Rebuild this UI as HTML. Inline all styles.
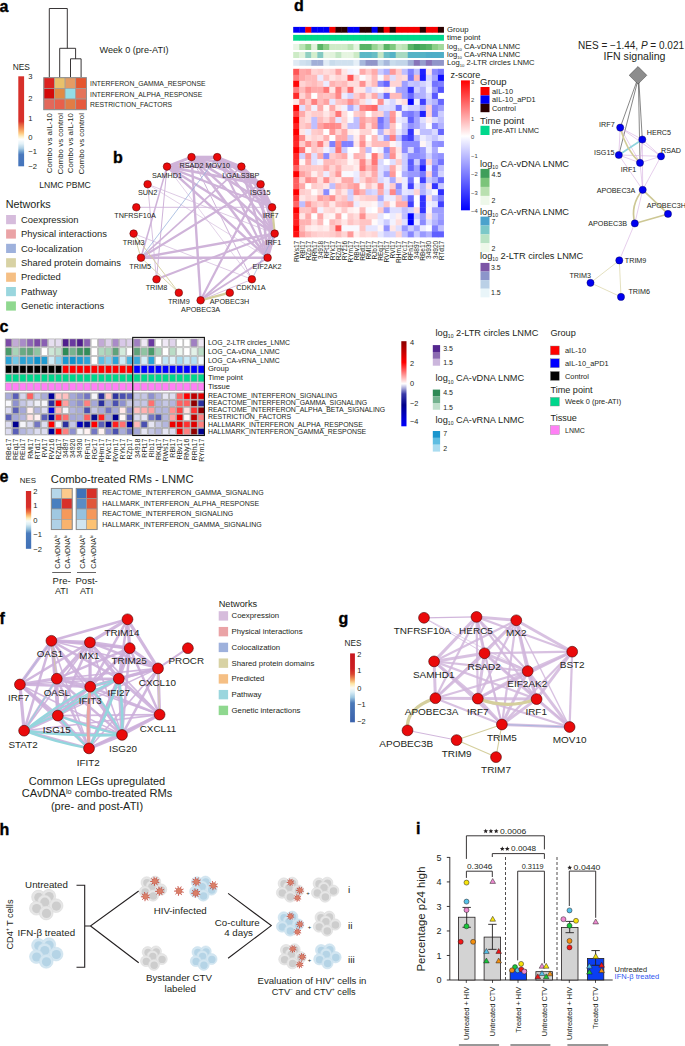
<!DOCTYPE html>
<html><head><meta charset="utf-8"><title>Figure</title>
<style>
html,body{margin:0;padding:0;background:#fff;}
body{width:685px;height:1046px;overflow:hidden;}
svg{display:block;}
svg text{font-family:"Liberation Sans", sans-serif;}
</style></head>
<body>
<svg width="685" height="1046" viewBox="0 0 685 1046" font-family='"Liberation Sans", sans-serif'>
<rect x="0" y="0" width="685" height="1046" fill="#fff"/>
<text x="-0.40" y="11.70" font-size="16" font-weight="bold" fill="#000" stroke="#000" stroke-width="0.35">a</text>
<path d="M49.3,77.7 V8.5 H67.3 V48.3 M59.7,77.7 V48.3 H75.6 V58.8 M70.5,77.7 V58.8 H81.1 V77.7" fill="none" stroke="#231f20" stroke-width="0.9"/>
<rect x="43.80" y="77.70" width="10.65" height="10.67" fill="#dc2320" stroke="#9c9c9c" stroke-width="0.7"/>
<rect x="54.45" y="77.70" width="10.65" height="10.67" fill="#e9c16b" stroke="#9c9c9c" stroke-width="0.7"/>
<rect x="65.10" y="77.70" width="10.65" height="10.67" fill="#e49b64" stroke="#9c9c9c" stroke-width="0.7"/>
<rect x="75.75" y="77.70" width="10.65" height="10.67" fill="#e5562f" stroke="#9c9c9c" stroke-width="0.7"/>
<rect x="43.80" y="88.37" width="10.65" height="10.67" fill="#d40a0a" stroke="#9c9c9c" stroke-width="0.7"/>
<rect x="54.45" y="88.37" width="10.65" height="10.67" fill="#e18a45" stroke="#9c9c9c" stroke-width="0.7"/>
<rect x="65.10" y="88.37" width="10.65" height="10.67" fill="#94dde8" stroke="#9c9c9c" stroke-width="0.7"/>
<rect x="75.75" y="88.37" width="10.65" height="10.67" fill="#e4745b" stroke="#9c9c9c" stroke-width="0.7"/>
<rect x="43.80" y="99.04" width="10.65" height="10.67" fill="#e3685a" stroke="#9c9c9c" stroke-width="0.7"/>
<rect x="54.45" y="99.04" width="10.65" height="10.67" fill="#e8604b" stroke="#9c9c9c" stroke-width="0.7"/>
<rect x="65.10" y="99.04" width="10.65" height="10.67" fill="#e17c45" stroke="#9c9c9c" stroke-width="0.7"/>
<rect x="75.75" y="99.04" width="10.65" height="10.67" fill="#e65b3e" stroke="#9c9c9c" stroke-width="0.7"/>
<rect x="43.80" y="77.70" width="42.60" height="32.01" fill="none" stroke="#8c8c8c" stroke-width="0.9"/>
<text transform="translate(90.00,86.16) scale(0.963,1)" font-size="7.1" text-anchor="start" font-weight="normal" fill="#231f20" >INTERFERON_GAMMA_RESPONSE</text>
<text transform="translate(90.00,96.66) scale(0.963,1)" font-size="7.1" text-anchor="start" font-weight="normal" fill="#231f20" >INTERFERON_ALPHA_RESPONSE</text>
<text transform="translate(90.00,107.16) scale(0.963,1)" font-size="7.1" text-anchor="start" font-weight="normal" fill="#231f20" >RESTRICTION_FACTORS</text>
<text transform="translate(99.50,53.30) scale(1.060,1)" font-size="8.6" text-anchor="start" font-weight="normal" fill="#231f20" >Week 0 (pre-ATI)</text>
<text x="12.70" y="69.72" font-size="8.4" text-anchor="start" font-weight="normal" fill="#231f20" >NES</text>
<defs><linearGradient id="gA" x1="0" y1="0" x2="0" y2="1"><stop offset="0" stop-color="#d7302a"/><stop offset="0.50" stop-color="#d7302a"/><stop offset="0.53" stop-color="#e25a3c"/><stop offset="0.58" stop-color="#f38e55"/><stop offset="0.63" stop-color="#fdc77e"/><stop offset="0.67" stop-color="#fef0c8"/><stop offset="0.70" stop-color="#ffffff"/><stop offset="0.75" stop-color="#e3f1f7"/><stop offset="0.80" stop-color="#aecfe5"/><stop offset="0.84" stop-color="#6c9dcd"/><stop offset="0.87" stop-color="#4a78bd"/><stop offset="1" stop-color="#4474bb"/></linearGradient></defs>
<rect x="18.30" y="76.30" width="5.80" height="90.00" fill="url(#gA)"/>
<text x="28.30" y="79.14" font-size="7.6" text-anchor="start" font-weight="normal" fill="#231f20" >3</text>
<text x="28.30" y="100.64" font-size="7.6" text-anchor="start" font-weight="normal" fill="#231f20" >2</text>
<text x="28.30" y="121.44" font-size="7.6" text-anchor="start" font-weight="normal" fill="#231f20" >1</text>
<text x="28.30" y="140.44" font-size="7.6" text-anchor="start" font-weight="normal" fill="#231f20" >0</text>
<text x="28.30" y="154.24" font-size="7.6" text-anchor="start" font-weight="normal" fill="#231f20" >−1</text>
<text x="28.30" y="169.34" font-size="7.6" text-anchor="start" font-weight="normal" fill="#231f20" >−2</text>
<text transform="translate(51.64,113.00) rotate(-90) scale(1.040,1)" x="0" y="0" font-size="7.6" text-anchor="end" fill="#231f20">Combo vs aIL-10</text>
<text transform="translate(62.64,113.00) rotate(-90) scale(1.040,1)" x="0" y="0" font-size="7.6" text-anchor="end" fill="#231f20">Combo vs control</text>
<text transform="translate(73.24,113.00) rotate(-90) scale(1.040,1)" x="0" y="0" font-size="7.6" text-anchor="end" fill="#231f20">Combo vs aIL-10</text>
<text transform="translate(84.24,113.00) rotate(-90) scale(1.040,1)" x="0" y="0" font-size="7.6" text-anchor="end" fill="#231f20">Combo vs control</text>
<text x="39.20" y="188.10" font-size="8.6" text-anchor="start" font-weight="normal" fill="#231f20" >LNMC PBMC</text>
<text transform="translate(5.70,207.97) scale(1.060,1)" font-size="10.2" text-anchor="start" font-weight="normal" fill="#231f20" >Networks</text>
<rect x="6.10" y="215.00" width="9.80" height="9.20" fill="#d6bcdc"/>
<text transform="translate(21.00,222.80) scale(1.060,1)" font-size="8.9" text-anchor="start" font-weight="normal" fill="#231f20" >Coexpression</text>
<rect x="6.10" y="229.40" width="9.80" height="9.20" fill="#eaa3a6"/>
<text transform="translate(21.00,237.20) scale(1.060,1)" font-size="8.9" text-anchor="start" font-weight="normal" fill="#231f20" >Physical interactions</text>
<rect x="6.10" y="243.80" width="9.80" height="9.20" fill="#9eb1dc"/>
<text transform="translate(21.00,251.60) scale(1.060,1)" font-size="8.9" text-anchor="start" font-weight="normal" fill="#231f20" >Co-localization</text>
<rect x="6.10" y="258.20" width="9.80" height="9.20" fill="#d8d2a4"/>
<text transform="translate(21.00,266.00) scale(1.060,1)" font-size="8.9" text-anchor="start" font-weight="normal" fill="#231f20" >Shared protein domains</text>
<rect x="6.10" y="272.60" width="9.80" height="9.20" fill="#f5bf84"/>
<text transform="translate(21.00,280.40) scale(1.060,1)" font-size="8.9" text-anchor="start" font-weight="normal" fill="#231f20" >Predicted</text>
<rect x="6.10" y="287.00" width="9.80" height="9.20" fill="#9ad6de"/>
<text transform="translate(21.00,294.80) scale(1.060,1)" font-size="8.9" text-anchor="start" font-weight="normal" fill="#231f20" >Pathway</text>
<rect x="6.10" y="301.40" width="9.80" height="9.20" fill="#8fd88f"/>
<text transform="translate(21.00,309.20) scale(1.060,1)" font-size="8.9" text-anchor="start" font-weight="normal" fill="#231f20" >Genetic interactions</text>
<text x="113.00" y="163.00" font-size="16" font-weight="bold" fill="#000" stroke="#000" stroke-width="0.35">b</text>
<line x1="167.00" y1="166.60" x2="191.50" y2="157.10" stroke="#cfb3d9" stroke-width="2.8" />
<line x1="167.00" y1="166.60" x2="217.20" y2="157.10" stroke="#cfb3d9" stroke-width="2.4" />
<line x1="167.00" y1="166.60" x2="241.40" y2="166.60" stroke="#cfb3d9" stroke-width="2.6" />
<line x1="167.00" y1="166.60" x2="260.60" y2="184.20" stroke="#cfb3d9" stroke-width="2.6" />
<line x1="167.00" y1="166.60" x2="272.10" y2="207.30" stroke="#cfb3d9" stroke-width="2.2" />
<line x1="167.00" y1="166.60" x2="274.70" y2="233.60" stroke="#cfb3d9" stroke-width="2.4" />
<line x1="167.00" y1="166.60" x2="267.60" y2="257.70" stroke="#cfb3d9" stroke-width="2.4" />
<line x1="167.00" y1="166.60" x2="156.50" y2="279.30" stroke="#cfb3d9" stroke-width="1.0" />
<line x1="191.50" y1="157.10" x2="217.20" y2="157.10" stroke="#cfb3d9" stroke-width="2.8" />
<line x1="191.50" y1="157.10" x2="241.40" y2="166.60" stroke="#cfb3d9" stroke-width="2.8" />
<line x1="191.50" y1="157.10" x2="260.60" y2="184.20" stroke="#cfb3d9" stroke-width="2.8" />
<line x1="191.50" y1="157.10" x2="272.10" y2="207.30" stroke="#cfb3d9" stroke-width="2.6" />
<line x1="191.50" y1="157.10" x2="274.70" y2="233.60" stroke="#cfb3d9" stroke-width="2.4" />
<line x1="191.50" y1="157.10" x2="267.60" y2="257.70" stroke="#cfb3d9" stroke-width="2.6" />
<line x1="191.50" y1="157.10" x2="200.60" y2="300.30" stroke="#cfb3d9" stroke-width="2.4" />
<line x1="191.50" y1="157.10" x2="251.90" y2="279.30" stroke="#cfb3d9" stroke-width="1.0" />
<line x1="217.20" y1="157.10" x2="241.40" y2="166.60" stroke="#cfb3d9" stroke-width="2.6" />
<line x1="217.20" y1="157.10" x2="260.60" y2="184.20" stroke="#cfb3d9" stroke-width="2.6" />
<line x1="217.20" y1="157.10" x2="272.10" y2="207.30" stroke="#cfb3d9" stroke-width="2.4" />
<line x1="217.20" y1="157.10" x2="274.70" y2="233.60" stroke="#cfb3d9" stroke-width="2.2" />
<line x1="217.20" y1="157.10" x2="267.60" y2="257.70" stroke="#cfb3d9" stroke-width="2.2" />
<line x1="241.40" y1="166.60" x2="260.60" y2="184.20" stroke="#cfb3d9" stroke-width="2.8" />
<line x1="241.40" y1="166.60" x2="272.10" y2="207.30" stroke="#cfb3d9" stroke-width="2.6" />
<line x1="241.40" y1="166.60" x2="274.70" y2="233.60" stroke="#cfb3d9" stroke-width="2.6" />
<line x1="241.40" y1="166.60" x2="267.60" y2="257.70" stroke="#cfb3d9" stroke-width="2.4" />
<line x1="260.60" y1="184.20" x2="272.10" y2="207.30" stroke="#cfb3d9" stroke-width="2.8" />
<line x1="260.60" y1="184.20" x2="274.70" y2="233.60" stroke="#cfb3d9" stroke-width="2.8" />
<line x1="260.60" y1="184.20" x2="267.60" y2="257.70" stroke="#cfb3d9" stroke-width="2.6" />
<line x1="272.10" y1="207.30" x2="267.60" y2="257.70" stroke="#cfb3d9" stroke-width="2.8" />
<line x1="274.70" y1="233.60" x2="267.60" y2="257.70" stroke="#cfb3d9" stroke-width="2.8" />
<line x1="141.00" y1="257.70" x2="267.60" y2="257.70" stroke="#cfb3d9" stroke-width="2.6" />
<line x1="141.00" y1="257.70" x2="274.70" y2="233.60" stroke="#cfb3d9" stroke-width="2.4" />
<line x1="141.00" y1="257.70" x2="260.60" y2="184.20" stroke="#cfb3d9" stroke-width="2.2" />
<line x1="141.00" y1="257.70" x2="241.40" y2="166.60" stroke="#cfb3d9" stroke-width="1.6" />
<line x1="141.00" y1="257.70" x2="167.00" y2="166.60" stroke="#cfb3d9" stroke-width="1.6" />
<line x1="200.60" y1="300.30" x2="260.60" y2="184.20" stroke="#cfb3d9" stroke-width="2.2" />
<line x1="200.60" y1="300.30" x2="274.70" y2="233.60" stroke="#cfb3d9" stroke-width="2.2" />
<line x1="200.60" y1="300.30" x2="267.60" y2="257.70" stroke="#cfb3d9" stroke-width="1.8" />
<line x1="156.50" y1="279.30" x2="274.70" y2="233.60" stroke="#cfb3d9" stroke-width="2.0" />
<line x1="136.30" y1="207.30" x2="272.10" y2="207.30" stroke="#cfb3d9" stroke-width="0.9" />
<line x1="147.60" y1="184.20" x2="274.70" y2="233.60" stroke="#cfb3d9" stroke-width="0.7" />
<line x1="147.60" y1="184.20" x2="156.50" y2="279.30" stroke="#cfb3d9" stroke-width="0.8" />
<line x1="147.60" y1="184.20" x2="267.60" y2="257.70" stroke="#cfb3d9" stroke-width="0.6" />
<line x1="133.60" y1="233.60" x2="251.90" y2="279.30" stroke="#cfb3d9" stroke-width="0.7" />
<line x1="200.60" y1="300.30" x2="251.90" y2="279.30" stroke="#cfb3d9" stroke-width="0.8" />
<line x1="167.00" y1="166.60" x2="251.90" y2="279.30" stroke="#cfb3d9" stroke-width="0.6" />
<line x1="133.60" y1="233.60" x2="178.80" y2="292.70" stroke="#d3cd9c" stroke-width="0.9" />
<line x1="133.60" y1="233.60" x2="141.00" y2="257.70" stroke="#d3cd9c" stroke-width="0.9" />
<line x1="141.00" y1="257.70" x2="178.80" y2="292.70" stroke="#d3cd9c" stroke-width="0.8" />
<line x1="272.10" y1="207.30" x2="274.70" y2="233.60" stroke="#d3cd9c" stroke-width="2.2" />
<line x1="200.60" y1="300.30" x2="229.80" y2="292.70" stroke="#d3cd9c" stroke-width="2.4" />
<line x1="217.20" y1="157.10" x2="141.00" y2="257.70" stroke="#8faad8" stroke-width="0.7" />
<line x1="274.70" y1="233.60" x2="251.90" y2="279.30" stroke="#8faad8" stroke-width="0.6" />
<circle cx="191.50" cy="157.10" r="3.80" fill="#ea0a0b" stroke="#4a0000" stroke-width="0.5"/>
<circle cx="217.20" cy="157.10" r="3.80" fill="#ea0a0b" stroke="#4a0000" stroke-width="0.5"/>
<circle cx="167.00" cy="166.60" r="3.80" fill="#ea0a0b" stroke="#4a0000" stroke-width="0.5"/>
<circle cx="241.40" cy="166.60" r="3.80" fill="#ea0a0b" stroke="#4a0000" stroke-width="0.5"/>
<circle cx="147.60" cy="184.20" r="3.80" fill="#ea0a0b" stroke="#4a0000" stroke-width="0.5"/>
<circle cx="260.60" cy="184.20" r="3.80" fill="#ea0a0b" stroke="#4a0000" stroke-width="0.5"/>
<circle cx="136.30" cy="207.30" r="3.80" fill="#ea0a0b" stroke="#4a0000" stroke-width="0.5"/>
<circle cx="272.10" cy="207.30" r="3.80" fill="#ea0a0b" stroke="#4a0000" stroke-width="0.5"/>
<circle cx="133.60" cy="233.60" r="3.80" fill="#ea0a0b" stroke="#4a0000" stroke-width="0.5"/>
<circle cx="274.70" cy="233.60" r="3.80" fill="#ea0a0b" stroke="#4a0000" stroke-width="0.5"/>
<circle cx="141.00" cy="257.70" r="3.80" fill="#ea0a0b" stroke="#4a0000" stroke-width="0.5"/>
<circle cx="267.60" cy="257.70" r="3.80" fill="#ea0a0b" stroke="#4a0000" stroke-width="0.5"/>
<circle cx="156.50" cy="279.30" r="3.80" fill="#ea0a0b" stroke="#4a0000" stroke-width="0.5"/>
<circle cx="251.90" cy="279.30" r="3.80" fill="#ea0a0b" stroke="#4a0000" stroke-width="0.5"/>
<circle cx="178.80" cy="292.70" r="3.80" fill="#ea0a0b" stroke="#4a0000" stroke-width="0.5"/>
<circle cx="229.80" cy="292.70" r="3.80" fill="#ea0a0b" stroke="#4a0000" stroke-width="0.5"/>
<circle cx="200.60" cy="300.30" r="3.80" fill="#ea0a0b" stroke="#4a0000" stroke-width="0.5"/>
<text x="191.50" y="167.61" font-size="7.25" text-anchor="middle" font-weight="normal" fill="#231f20" >RSAD2</text>
<text x="217.70" y="167.61" font-size="7.25" text-anchor="middle" font-weight="normal" fill="#231f20" >MOV10</text>
<text x="167.00" y="177.61" font-size="7.25" text-anchor="middle" font-weight="normal" fill="#231f20" >SAMHD1</text>
<text x="240.80" y="177.61" font-size="7.25" text-anchor="middle" font-weight="normal" fill="#231f20" >LGALS3BP</text>
<text x="147.60" y="194.61" font-size="7.25" text-anchor="middle" font-weight="normal" fill="#231f20" >SUN2</text>
<text x="260.30" y="194.61" font-size="7.25" text-anchor="middle" font-weight="normal" fill="#231f20" >ISG15</text>
<text x="135.00" y="217.81" font-size="7.25" text-anchor="middle" font-weight="normal" fill="#231f20" >TNFRSF10A</text>
<text x="270.80" y="217.81" font-size="7.25" text-anchor="middle" font-weight="normal" fill="#231f20" >IRF7</text>
<text x="133.60" y="244.61" font-size="7.25" text-anchor="middle" font-weight="normal" fill="#231f20" >TRIM3</text>
<text x="273.40" y="244.61" font-size="7.25" text-anchor="middle" font-weight="normal" fill="#231f20" >IRF1</text>
<text x="140.20" y="268.71" font-size="7.25" text-anchor="middle" font-weight="normal" fill="#231f20" >TRIM5</text>
<text x="267.10" y="268.71" font-size="7.25" text-anchor="middle" font-weight="normal" fill="#231f20" >EIF2AK2</text>
<text x="156.50" y="290.01" font-size="7.25" text-anchor="middle" font-weight="normal" fill="#231f20" >TRIM8</text>
<text x="251.00" y="290.01" font-size="7.25" text-anchor="middle" font-weight="normal" fill="#231f20" >CDKN1A</text>
<text x="178.80" y="303.61" font-size="7.25" text-anchor="middle" font-weight="normal" fill="#231f20" >TRIM9</text>
<text x="229.50" y="303.61" font-size="7.25" text-anchor="middle" font-weight="normal" fill="#231f20" >APOBEC3H</text>
<text x="200.60" y="311.61" font-size="7.25" text-anchor="middle" font-weight="normal" fill="#231f20" >APOBEC3A</text>
<text x="293.90" y="11.40" font-size="16" font-weight="bold" fill="#000" stroke="#000" stroke-width="0.35">d</text>
<rect x="293.20" y="26.90" width="6.43" height="5.80" fill="#0000f5"/>
<rect x="299.23" y="26.90" width="6.43" height="5.80" fill="#0000f5"/>
<rect x="305.26" y="26.90" width="6.43" height="5.80" fill="#f50000"/>
<rect x="311.29" y="26.90" width="6.43" height="5.80" fill="#0000f5"/>
<rect x="317.32" y="26.90" width="6.43" height="5.80" fill="#0000f5"/>
<rect x="323.35" y="26.90" width="6.43" height="5.80" fill="#0000f5"/>
<rect x="329.38" y="26.90" width="6.43" height="5.80" fill="#f50000"/>
<rect x="335.41" y="26.90" width="6.43" height="5.80" fill="#2a0000"/>
<rect x="341.44" y="26.90" width="6.43" height="5.80" fill="#2a0000"/>
<rect x="347.47" y="26.90" width="6.43" height="5.80" fill="#0000f5"/>
<rect x="353.50" y="26.90" width="6.43" height="5.80" fill="#0000f5"/>
<rect x="359.53" y="26.90" width="6.43" height="5.80" fill="#2a0000"/>
<rect x="365.56" y="26.90" width="6.43" height="5.80" fill="#2a0000"/>
<rect x="371.59" y="26.90" width="6.43" height="5.80" fill="#0000f5"/>
<rect x="377.62" y="26.90" width="6.43" height="5.80" fill="#2a0000"/>
<rect x="383.65" y="26.90" width="6.43" height="5.80" fill="#f50000"/>
<rect x="389.68" y="26.90" width="6.43" height="5.80" fill="#2a0000"/>
<rect x="395.71" y="26.90" width="6.43" height="5.80" fill="#f50000"/>
<rect x="401.74" y="26.90" width="6.43" height="5.80" fill="#f50000"/>
<rect x="407.77" y="26.90" width="6.43" height="5.80" fill="#f50000"/>
<rect x="413.80" y="26.90" width="6.43" height="5.80" fill="#f50000"/>
<rect x="419.83" y="26.90" width="6.43" height="5.80" fill="#2a0000"/>
<rect x="425.86" y="26.90" width="6.43" height="5.80" fill="#f50000"/>
<rect x="431.89" y="26.90" width="6.43" height="5.80" fill="#f50000"/>
<rect x="437.92" y="26.90" width="6.03" height="5.80" fill="#2a0000"/>
<rect x="293.20" y="34.90" width="150.75" height="5.80" fill="#00d88c"/>
<rect x="293.20" y="34.90" width="0.30" height="5.80" fill="#10c888"/>
<rect x="299.23" y="34.90" width="0.30" height="5.80" fill="#10c888"/>
<rect x="305.26" y="34.90" width="0.30" height="5.80" fill="#10c888"/>
<rect x="311.29" y="34.90" width="0.30" height="5.80" fill="#10c888"/>
<rect x="317.32" y="34.90" width="0.30" height="5.80" fill="#10c888"/>
<rect x="323.35" y="34.90" width="0.30" height="5.80" fill="#10c888"/>
<rect x="329.38" y="34.90" width="0.30" height="5.80" fill="#10c888"/>
<rect x="335.41" y="34.90" width="0.30" height="5.80" fill="#10c888"/>
<rect x="341.44" y="34.90" width="0.30" height="5.80" fill="#10c888"/>
<rect x="347.47" y="34.90" width="0.30" height="5.80" fill="#10c888"/>
<rect x="353.50" y="34.90" width="0.30" height="5.80" fill="#10c888"/>
<rect x="359.53" y="34.90" width="0.30" height="5.80" fill="#10c888"/>
<rect x="365.56" y="34.90" width="0.30" height="5.80" fill="#10c888"/>
<rect x="371.59" y="34.90" width="0.30" height="5.80" fill="#10c888"/>
<rect x="377.62" y="34.90" width="0.30" height="5.80" fill="#10c888"/>
<rect x="383.65" y="34.90" width="0.30" height="5.80" fill="#10c888"/>
<rect x="389.68" y="34.90" width="0.30" height="5.80" fill="#10c888"/>
<rect x="395.71" y="34.90" width="0.30" height="5.80" fill="#10c888"/>
<rect x="401.74" y="34.90" width="0.30" height="5.80" fill="#10c888"/>
<rect x="407.77" y="34.90" width="0.30" height="5.80" fill="#10c888"/>
<rect x="413.80" y="34.90" width="0.30" height="5.80" fill="#10c888"/>
<rect x="419.83" y="34.90" width="0.30" height="5.80" fill="#10c888"/>
<rect x="425.86" y="34.90" width="0.30" height="5.80" fill="#10c888"/>
<rect x="431.89" y="34.90" width="0.30" height="5.80" fill="#10c888"/>
<rect x="437.92" y="34.90" width="0.30" height="5.80" fill="#10c888"/>
<rect x="293.20" y="44.00" width="6.43" height="6.00" fill="#e8f6e5"/>
<rect x="293.20" y="52.00" width="6.43" height="6.00" fill="#cdebc6"/>
<rect x="293.20" y="60.00" width="6.43" height="5.80" fill="#dfeaf4"/>
<rect x="299.23" y="44.00" width="6.43" height="6.00" fill="#bae3b4"/>
<rect x="299.23" y="52.00" width="6.43" height="6.00" fill="#e1f3dc"/>
<rect x="299.23" y="60.00" width="6.43" height="5.80" fill="#d0e1ef"/>
<rect x="305.26" y="44.00" width="6.43" height="6.00" fill="#8ccf87"/>
<rect x="305.26" y="52.00" width="6.43" height="6.00" fill="#91d0c1"/>
<rect x="305.26" y="60.00" width="6.43" height="5.80" fill="#c9dcec"/>
<rect x="311.29" y="44.00" width="6.43" height="6.00" fill="#e0f2db"/>
<rect x="311.29" y="52.00" width="6.43" height="6.00" fill="#d4eecd"/>
<rect x="311.29" y="60.00" width="6.43" height="5.80" fill="#a1afd7"/>
<rect x="317.32" y="44.00" width="6.43" height="6.00" fill="#59b466"/>
<rect x="317.32" y="52.00" width="6.43" height="6.00" fill="#84cac2"/>
<rect x="317.32" y="60.00" width="6.43" height="5.80" fill="#a1afd7"/>
<rect x="323.35" y="44.00" width="6.43" height="6.00" fill="#8ccf87"/>
<rect x="323.35" y="52.00" width="6.43" height="6.00" fill="#e6f5e1"/>
<rect x="323.35" y="60.00" width="6.43" height="5.80" fill="#e1ecf6"/>
<rect x="329.38" y="44.00" width="6.43" height="6.00" fill="#cfebc8"/>
<rect x="329.38" y="52.00" width="6.43" height="6.00" fill="#e1f3dc"/>
<rect x="329.38" y="60.00" width="6.43" height="5.80" fill="#c9dcec"/>
<rect x="335.41" y="44.00" width="6.43" height="6.00" fill="#cfebc8"/>
<rect x="335.41" y="52.00" width="6.43" height="6.00" fill="#c4e7c5"/>
<rect x="335.41" y="60.00" width="6.43" height="5.80" fill="#d0e1ef"/>
<rect x="341.44" y="44.00" width="6.43" height="6.00" fill="#cfebc8"/>
<rect x="341.44" y="52.00" width="6.43" height="6.00" fill="#e6f5e1"/>
<rect x="341.44" y="60.00" width="6.43" height="5.80" fill="#d0e1ef"/>
<rect x="347.47" y="44.00" width="6.43" height="6.00" fill="#bae3b4"/>
<rect x="347.47" y="52.00" width="6.43" height="6.00" fill="#e6f5e1"/>
<rect x="347.47" y="60.00" width="6.43" height="5.80" fill="#d0e1ef"/>
<rect x="353.50" y="44.00" width="6.43" height="6.00" fill="#e3f4df"/>
<rect x="353.50" y="52.00" width="6.43" height="6.00" fill="#cdebc6"/>
<rect x="353.50" y="60.00" width="6.43" height="5.80" fill="#e6eff7"/>
<rect x="359.53" y="44.00" width="6.43" height="6.00" fill="#59b466"/>
<rect x="359.53" y="52.00" width="6.43" height="6.00" fill="#5bb8c6"/>
<rect x="359.53" y="60.00" width="6.43" height="5.80" fill="#a7b8dc"/>
<rect x="365.56" y="44.00" width="6.43" height="6.00" fill="#59b466"/>
<rect x="365.56" y="52.00" width="6.43" height="6.00" fill="#5bb8c6"/>
<rect x="365.56" y="60.00" width="6.43" height="5.80" fill="#9095c9"/>
<rect x="371.59" y="44.00" width="6.43" height="6.00" fill="#98d492"/>
<rect x="371.59" y="52.00" width="6.43" height="6.00" fill="#69bec5"/>
<rect x="371.59" y="60.00" width="6.43" height="5.80" fill="#9095c9"/>
<rect x="377.62" y="44.00" width="6.43" height="6.00" fill="#bae3b4"/>
<rect x="377.62" y="52.00" width="6.43" height="6.00" fill="#c4e7c5"/>
<rect x="377.62" y="60.00" width="6.43" height="5.80" fill="#c2d5e9"/>
<rect x="383.65" y="44.00" width="6.43" height="6.00" fill="#59b466"/>
<rect x="383.65" y="52.00" width="6.43" height="6.00" fill="#69bec5"/>
<rect x="383.65" y="60.00" width="6.43" height="5.80" fill="#a7b8dc"/>
<rect x="389.68" y="44.00" width="6.43" height="6.00" fill="#7fc87f"/>
<rect x="389.68" y="52.00" width="6.43" height="6.00" fill="#55b3c6"/>
<rect x="389.68" y="60.00" width="6.43" height="5.80" fill="#c9dcec"/>
<rect x="395.71" y="44.00" width="6.43" height="6.00" fill="#c6e8bf"/>
<rect x="395.71" y="52.00" width="6.43" height="6.00" fill="#a8dac1"/>
<rect x="395.71" y="60.00" width="6.43" height="5.80" fill="#c2d5e9"/>
<rect x="401.74" y="44.00" width="6.43" height="6.00" fill="#bae3b4"/>
<rect x="401.74" y="52.00" width="6.43" height="6.00" fill="#a8dac1"/>
<rect x="401.74" y="60.00" width="6.43" height="5.80" fill="#c2d5e9"/>
<rect x="407.77" y="44.00" width="6.43" height="6.00" fill="#59b466"/>
<rect x="407.77" y="52.00" width="6.43" height="6.00" fill="#55b3c6"/>
<rect x="407.77" y="60.00" width="6.43" height="5.80" fill="#a1afd7"/>
<rect x="413.80" y="44.00" width="6.43" height="6.00" fill="#40a358"/>
<rect x="413.80" y="52.00" width="6.43" height="6.00" fill="#55b3c6"/>
<rect x="413.80" y="60.00" width="6.43" height="5.80" fill="#8874b9"/>
<rect x="419.83" y="44.00" width="6.43" height="6.00" fill="#4cad5e"/>
<rect x="419.83" y="52.00" width="6.43" height="6.00" fill="#55b3c6"/>
<rect x="419.83" y="60.00" width="6.43" height="5.80" fill="#969ece"/>
<rect x="425.86" y="44.00" width="6.43" height="6.00" fill="#59b466"/>
<rect x="425.86" y="52.00" width="6.43" height="6.00" fill="#4faec7"/>
<rect x="425.86" y="60.00" width="6.43" height="5.80" fill="#8874b9"/>
<rect x="431.89" y="44.00" width="6.43" height="6.00" fill="#8ccf87"/>
<rect x="431.89" y="52.00" width="6.43" height="6.00" fill="#4faec7"/>
<rect x="431.89" y="60.00" width="6.43" height="5.80" fill="#9095c9"/>
<rect x="437.92" y="44.00" width="6.03" height="6.00" fill="#a3d99d"/>
<rect x="437.92" y="52.00" width="6.03" height="6.00" fill="#4faec7"/>
<rect x="437.92" y="60.00" width="6.03" height="5.80" fill="#9095c9"/>
<rect x="293.20" y="68.80" width="6.43" height="6.42" fill="#ff5555"/>
<rect x="299.23" y="68.80" width="6.43" height="6.42" fill="#ffaaaa"/>
<rect x="305.26" y="68.80" width="6.43" height="6.42" fill="#ffa2a2"/>
<rect x="311.29" y="68.80" width="6.43" height="6.42" fill="#ffd4d4"/>
<rect x="317.32" y="68.80" width="6.43" height="6.42" fill="#ffcccc"/>
<rect x="323.35" y="68.80" width="6.43" height="6.42" fill="#ffdddd"/>
<rect x="329.38" y="68.80" width="6.43" height="6.42" fill="#ffd4d4"/>
<rect x="335.41" y="68.80" width="6.43" height="6.42" fill="#ffa2a2"/>
<rect x="341.44" y="68.80" width="6.43" height="6.42" fill="#ffe6e6"/>
<rect x="347.47" y="68.80" width="6.43" height="6.42" fill="#f2f2ff"/>
<rect x="353.50" y="68.80" width="6.43" height="6.42" fill="#f9f9ff"/>
<rect x="359.53" y="68.80" width="6.43" height="6.42" fill="#ffaaaa"/>
<rect x="365.56" y="68.80" width="6.43" height="6.42" fill="#ffcccc"/>
<rect x="371.59" y="68.80" width="6.43" height="6.42" fill="#ffaaaa"/>
<rect x="377.62" y="68.80" width="6.43" height="6.42" fill="#ccccff"/>
<rect x="383.65" y="68.80" width="6.43" height="6.42" fill="#acacff"/>
<rect x="389.68" y="68.80" width="6.43" height="6.42" fill="#ff9999"/>
<rect x="395.71" y="68.80" width="6.43" height="6.42" fill="#ffcccc"/>
<rect x="401.74" y="68.80" width="6.43" height="6.42" fill="#bfbfff"/>
<rect x="407.77" y="68.80" width="6.43" height="6.42" fill="#8080ff"/>
<rect x="413.80" y="68.80" width="6.43" height="6.42" fill="#bfbfff"/>
<rect x="419.83" y="68.80" width="6.43" height="6.42" fill="#2020ff"/>
<rect x="425.86" y="68.80" width="6.43" height="6.42" fill="#ffe6e6"/>
<rect x="431.89" y="68.80" width="6.43" height="6.42" fill="#8c8cff"/>
<rect x="437.92" y="68.80" width="6.03" height="6.42" fill="#7373ff"/>
<rect x="293.20" y="74.82" width="6.43" height="6.42" fill="#ff8080"/>
<rect x="299.23" y="74.82" width="6.43" height="6.42" fill="#ffaaaa"/>
<rect x="305.26" y="74.82" width="6.43" height="6.42" fill="#ffbbbb"/>
<rect x="311.29" y="74.82" width="6.43" height="6.42" fill="#ffbbbb"/>
<rect x="317.32" y="74.82" width="6.43" height="6.42" fill="#ececff"/>
<rect x="323.35" y="74.82" width="6.43" height="6.42" fill="#ffc4c4"/>
<rect x="329.38" y="74.82" width="6.43" height="6.42" fill="#ffe6e6"/>
<rect x="335.41" y="74.82" width="6.43" height="6.42" fill="#ffd4d4"/>
<rect x="341.44" y="74.82" width="6.43" height="6.42" fill="#ffdddd"/>
<rect x="347.47" y="74.82" width="6.43" height="6.42" fill="#ff5555"/>
<rect x="353.50" y="74.82" width="6.43" height="6.42" fill="#ffd4d4"/>
<rect x="359.53" y="74.82" width="6.43" height="6.42" fill="#fcfcff"/>
<rect x="365.56" y="74.82" width="6.43" height="6.42" fill="#ffe6e6"/>
<rect x="371.59" y="74.82" width="6.43" height="6.42" fill="#ffbbbb"/>
<rect x="377.62" y="74.82" width="6.43" height="6.42" fill="#f9f9ff"/>
<rect x="383.65" y="74.82" width="6.43" height="6.42" fill="#ffbbbb"/>
<rect x="389.68" y="74.82" width="6.43" height="6.42" fill="#dfdfff"/>
<rect x="395.71" y="74.82" width="6.43" height="6.42" fill="#ffd4d4"/>
<rect x="401.74" y="74.82" width="6.43" height="6.42" fill="#ffdddd"/>
<rect x="407.77" y="74.82" width="6.43" height="6.42" fill="#7373ff"/>
<rect x="413.80" y="74.82" width="6.43" height="6.42" fill="#ffbbbb"/>
<rect x="419.83" y="74.82" width="6.43" height="6.42" fill="#1a1aff"/>
<rect x="425.86" y="74.82" width="6.43" height="6.42" fill="#d9d9ff"/>
<rect x="431.89" y="74.82" width="6.43" height="6.42" fill="#a6a6ff"/>
<rect x="437.92" y="74.82" width="6.03" height="6.42" fill="#0d0dff"/>
<rect x="293.20" y="80.84" width="6.43" height="6.42" fill="#ff0808"/>
<rect x="299.23" y="80.84" width="6.43" height="6.42" fill="#ffd4d4"/>
<rect x="305.26" y="80.84" width="6.43" height="6.42" fill="#ffc4c4"/>
<rect x="311.29" y="80.84" width="6.43" height="6.42" fill="#ffbbbb"/>
<rect x="317.32" y="80.84" width="6.43" height="6.42" fill="#ffcccc"/>
<rect x="323.35" y="80.84" width="6.43" height="6.42" fill="#ececff"/>
<rect x="329.38" y="80.84" width="6.43" height="6.42" fill="#ffb2b2"/>
<rect x="335.41" y="80.84" width="6.43" height="6.42" fill="#ffc4c4"/>
<rect x="341.44" y="80.84" width="6.43" height="6.42" fill="#ffbbbb"/>
<rect x="347.47" y="80.84" width="6.43" height="6.42" fill="#ffdddd"/>
<rect x="353.50" y="80.84" width="6.43" height="6.42" fill="#ffdddd"/>
<rect x="359.53" y="80.84" width="6.43" height="6.42" fill="#ff9090"/>
<rect x="365.56" y="80.84" width="6.43" height="6.42" fill="#ffdddd"/>
<rect x="371.59" y="80.84" width="6.43" height="6.42" fill="#ffbbbb"/>
<rect x="377.62" y="80.84" width="6.43" height="6.42" fill="#8c8cff"/>
<rect x="383.65" y="80.84" width="6.43" height="6.42" fill="#6666ff"/>
<rect x="389.68" y="80.84" width="6.43" height="6.42" fill="#ffd4d4"/>
<rect x="395.71" y="80.84" width="6.43" height="6.42" fill="#ffd4d4"/>
<rect x="401.74" y="80.84" width="6.43" height="6.42" fill="#9f9fff"/>
<rect x="407.77" y="80.84" width="6.43" height="6.42" fill="#c6c6ff"/>
<rect x="413.80" y="80.84" width="6.43" height="6.42" fill="#bfbfff"/>
<rect x="419.83" y="80.84" width="6.43" height="6.42" fill="#d2d2ff"/>
<rect x="425.86" y="80.84" width="6.43" height="6.42" fill="#e6e6ff"/>
<rect x="431.89" y="80.84" width="6.43" height="6.42" fill="#7373ff"/>
<rect x="437.92" y="80.84" width="6.03" height="6.42" fill="#8080ff"/>
<rect x="293.20" y="86.86" width="6.43" height="6.42" fill="#ff8080"/>
<rect x="299.23" y="86.86" width="6.43" height="6.42" fill="#ffbbbb"/>
<rect x="305.26" y="86.86" width="6.43" height="6.42" fill="#ff9090"/>
<rect x="311.29" y="86.86" width="6.43" height="6.42" fill="#ffaaaa"/>
<rect x="317.32" y="86.86" width="6.43" height="6.42" fill="#ffaaaa"/>
<rect x="323.35" y="86.86" width="6.43" height="6.42" fill="#ff7777"/>
<rect x="329.38" y="86.86" width="6.43" height="6.42" fill="#ffe6e6"/>
<rect x="335.41" y="86.86" width="6.43" height="6.42" fill="#ff8080"/>
<rect x="341.44" y="86.86" width="6.43" height="6.42" fill="#ffcccc"/>
<rect x="347.47" y="86.86" width="6.43" height="6.42" fill="#ff6e6e"/>
<rect x="353.50" y="86.86" width="6.43" height="6.42" fill="#ffe6e6"/>
<rect x="359.53" y="86.86" width="6.43" height="6.42" fill="#ffe6e6"/>
<rect x="365.56" y="86.86" width="6.43" height="6.42" fill="#d2d2ff"/>
<rect x="371.59" y="86.86" width="6.43" height="6.42" fill="#ececff"/>
<rect x="377.62" y="86.86" width="6.43" height="6.42" fill="#fffbfb"/>
<rect x="383.65" y="86.86" width="6.43" height="6.42" fill="#ffe6e6"/>
<rect x="389.68" y="86.86" width="6.43" height="6.42" fill="#fffbfb"/>
<rect x="395.71" y="86.86" width="6.43" height="6.42" fill="#a6a6ff"/>
<rect x="401.74" y="86.86" width="6.43" height="6.42" fill="#9f9fff"/>
<rect x="407.77" y="86.86" width="6.43" height="6.42" fill="#3333ff"/>
<rect x="413.80" y="86.86" width="6.43" height="6.42" fill="#d2d2ff"/>
<rect x="419.83" y="86.86" width="6.43" height="6.42" fill="#b2b2ff"/>
<rect x="425.86" y="86.86" width="6.43" height="6.42" fill="#f2f2ff"/>
<rect x="431.89" y="86.86" width="6.43" height="6.42" fill="#9999ff"/>
<rect x="437.92" y="86.86" width="6.03" height="6.42" fill="#5353ff"/>
<rect x="293.20" y="92.88" width="6.43" height="6.42" fill="#ff2a2a"/>
<rect x="299.23" y="92.88" width="6.43" height="6.42" fill="#ffd4d4"/>
<rect x="305.26" y="92.88" width="6.43" height="6.42" fill="#ffaaaa"/>
<rect x="311.29" y="92.88" width="6.43" height="6.42" fill="#ffffff"/>
<rect x="317.32" y="92.88" width="6.43" height="6.42" fill="#ffbbbb"/>
<rect x="323.35" y="92.88" width="6.43" height="6.42" fill="#ffc4c4"/>
<rect x="329.38" y="92.88" width="6.43" height="6.42" fill="#ffbbbb"/>
<rect x="335.41" y="92.88" width="6.43" height="6.42" fill="#ff8888"/>
<rect x="341.44" y="92.88" width="6.43" height="6.42" fill="#ececff"/>
<rect x="347.47" y="92.88" width="6.43" height="6.42" fill="#d2d2ff"/>
<rect x="353.50" y="92.88" width="6.43" height="6.42" fill="#ffcccc"/>
<rect x="359.53" y="92.88" width="6.43" height="6.42" fill="#ffaaaa"/>
<rect x="365.56" y="92.88" width="6.43" height="6.42" fill="#ffdddd"/>
<rect x="371.59" y="92.88" width="6.43" height="6.42" fill="#ffaaaa"/>
<rect x="377.62" y="92.88" width="6.43" height="6.42" fill="#c6c6ff"/>
<rect x="383.65" y="92.88" width="6.43" height="6.42" fill="#6666ff"/>
<rect x="389.68" y="92.88" width="6.43" height="6.42" fill="#ffbbbb"/>
<rect x="395.71" y="92.88" width="6.43" height="6.42" fill="#ffbbbb"/>
<rect x="401.74" y="92.88" width="6.43" height="6.42" fill="#9f9fff"/>
<rect x="407.77" y="92.88" width="6.43" height="6.42" fill="#6c6cff"/>
<rect x="413.80" y="92.88" width="6.43" height="6.42" fill="#acacff"/>
<rect x="419.83" y="92.88" width="6.43" height="6.42" fill="#b2b2ff"/>
<rect x="425.86" y="92.88" width="6.43" height="6.42" fill="#d9d9ff"/>
<rect x="431.89" y="92.88" width="6.43" height="6.42" fill="#5959ff"/>
<rect x="437.92" y="92.88" width="6.03" height="6.42" fill="#ffffff"/>
<rect x="293.20" y="98.90" width="6.43" height="6.42" fill="#ffe6e6"/>
<rect x="299.23" y="98.90" width="6.43" height="6.42" fill="#ff9999"/>
<rect x="305.26" y="98.90" width="6.43" height="6.42" fill="#ffcccc"/>
<rect x="311.29" y="98.90" width="6.43" height="6.42" fill="#ff8080"/>
<rect x="317.32" y="98.90" width="6.43" height="6.42" fill="#ffbbbb"/>
<rect x="323.35" y="98.90" width="6.43" height="6.42" fill="#ffa2a2"/>
<rect x="329.38" y="98.90" width="6.43" height="6.42" fill="#e6e6ff"/>
<rect x="335.41" y="98.90" width="6.43" height="6.42" fill="#ffc4c4"/>
<rect x="341.44" y="98.90" width="6.43" height="6.42" fill="#ffbbbb"/>
<rect x="347.47" y="98.90" width="6.43" height="6.42" fill="#ff9090"/>
<rect x="353.50" y="98.90" width="6.43" height="6.42" fill="#ffb2b2"/>
<rect x="359.53" y="98.90" width="6.43" height="6.42" fill="#ffdddd"/>
<rect x="365.56" y="98.90" width="6.43" height="6.42" fill="#ececff"/>
<rect x="371.59" y="98.90" width="6.43" height="6.42" fill="#fff6f6"/>
<rect x="377.62" y="98.90" width="6.43" height="6.42" fill="#ff9090"/>
<rect x="383.65" y="98.90" width="6.43" height="6.42" fill="#ececff"/>
<rect x="389.68" y="98.90" width="6.43" height="6.42" fill="#d9d9ff"/>
<rect x="395.71" y="98.90" width="6.43" height="6.42" fill="#ffeeee"/>
<rect x="401.74" y="98.90" width="6.43" height="6.42" fill="#ffdddd"/>
<rect x="407.77" y="98.90" width="6.43" height="6.42" fill="#0606ff"/>
<rect x="413.80" y="98.90" width="6.43" height="6.42" fill="#f2f2ff"/>
<rect x="419.83" y="98.90" width="6.43" height="6.42" fill="#4040ff"/>
<rect x="425.86" y="98.90" width="6.43" height="6.42" fill="#ccccff"/>
<rect x="431.89" y="98.90" width="6.43" height="6.42" fill="#b2b2ff"/>
<rect x="437.92" y="98.90" width="6.03" height="6.42" fill="#6666ff"/>
<rect x="293.20" y="104.92" width="6.43" height="6.42" fill="#ff0000"/>
<rect x="299.23" y="104.92" width="6.43" height="6.42" fill="#dfdfff"/>
<rect x="305.26" y="104.92" width="6.43" height="6.42" fill="#ffbbbb"/>
<rect x="311.29" y="104.92" width="6.43" height="6.42" fill="#f2f2ff"/>
<rect x="317.32" y="104.92" width="6.43" height="6.42" fill="#ffaaaa"/>
<rect x="323.35" y="104.92" width="6.43" height="6.42" fill="#fff6f6"/>
<rect x="329.38" y="104.92" width="6.43" height="6.42" fill="#ffaaaa"/>
<rect x="335.41" y="104.92" width="6.43" height="6.42" fill="#ffe6e6"/>
<rect x="341.44" y="104.92" width="6.43" height="6.42" fill="#f2f2ff"/>
<rect x="347.47" y="104.92" width="6.43" height="6.42" fill="#acacff"/>
<rect x="353.50" y="104.92" width="6.43" height="6.42" fill="#dfdfff"/>
<rect x="359.53" y="104.92" width="6.43" height="6.42" fill="#ff8888"/>
<rect x="365.56" y="104.92" width="6.43" height="6.42" fill="#ff7777"/>
<rect x="371.59" y="104.92" width="6.43" height="6.42" fill="#ff6666"/>
<rect x="377.62" y="104.92" width="6.43" height="6.42" fill="#d9d9ff"/>
<rect x="383.65" y="104.92" width="6.43" height="6.42" fill="#dfdfff"/>
<rect x="389.68" y="104.92" width="6.43" height="6.42" fill="#d9d9ff"/>
<rect x="395.71" y="104.92" width="6.43" height="6.42" fill="#7373ff"/>
<rect x="401.74" y="104.92" width="6.43" height="6.42" fill="#ececff"/>
<rect x="407.77" y="104.92" width="6.43" height="6.42" fill="#d2d2ff"/>
<rect x="413.80" y="104.92" width="6.43" height="6.42" fill="#d2d2ff"/>
<rect x="419.83" y="104.92" width="6.43" height="6.42" fill="#b2b2ff"/>
<rect x="425.86" y="104.92" width="6.43" height="6.42" fill="#ffd4d4"/>
<rect x="431.89" y="104.92" width="6.43" height="6.42" fill="#8686ff"/>
<rect x="437.92" y="104.92" width="6.03" height="6.42" fill="#9f9fff"/>
<rect x="293.20" y="110.94" width="6.43" height="6.42" fill="#ff4444"/>
<rect x="299.23" y="110.94" width="6.43" height="6.42" fill="#ffaaaa"/>
<rect x="305.26" y="110.94" width="6.43" height="6.42" fill="#ffdddd"/>
<rect x="311.29" y="110.94" width="6.43" height="6.42" fill="#ffcccc"/>
<rect x="317.32" y="110.94" width="6.43" height="6.42" fill="#ffcccc"/>
<rect x="323.35" y="110.94" width="6.43" height="6.42" fill="#ffe6e6"/>
<rect x="329.38" y="110.94" width="6.43" height="6.42" fill="#ffcccc"/>
<rect x="335.41" y="110.94" width="6.43" height="6.42" fill="#ff7777"/>
<rect x="341.44" y="110.94" width="6.43" height="6.42" fill="#ffdddd"/>
<rect x="347.47" y="110.94" width="6.43" height="6.42" fill="#ffffff"/>
<rect x="353.50" y="110.94" width="6.43" height="6.42" fill="#ffcccc"/>
<rect x="359.53" y="110.94" width="6.43" height="6.42" fill="#ffbbbb"/>
<rect x="365.56" y="110.94" width="6.43" height="6.42" fill="#ffffff"/>
<rect x="371.59" y="110.94" width="6.43" height="6.42" fill="#ffcccc"/>
<rect x="377.62" y="110.94" width="6.43" height="6.42" fill="#ffd4d4"/>
<rect x="383.65" y="110.94" width="6.43" height="6.42" fill="#b9b9ff"/>
<rect x="389.68" y="110.94" width="6.43" height="6.42" fill="#ff9999"/>
<rect x="395.71" y="110.94" width="6.43" height="6.42" fill="#fff6f6"/>
<rect x="401.74" y="110.94" width="6.43" height="6.42" fill="#8686ff"/>
<rect x="407.77" y="110.94" width="6.43" height="6.42" fill="#7979ff"/>
<rect x="413.80" y="110.94" width="6.43" height="6.42" fill="#9999ff"/>
<rect x="419.83" y="110.94" width="6.43" height="6.42" fill="#2020ff"/>
<rect x="425.86" y="110.94" width="6.43" height="6.42" fill="#ffd4d4"/>
<rect x="431.89" y="110.94" width="6.43" height="6.42" fill="#8080ff"/>
<rect x="437.92" y="110.94" width="6.03" height="6.42" fill="#ccccff"/>
<rect x="293.20" y="116.96" width="6.43" height="6.42" fill="#ff0000"/>
<rect x="299.23" y="116.96" width="6.43" height="6.42" fill="#ffcccc"/>
<rect x="305.26" y="116.96" width="6.43" height="6.42" fill="#ffdddd"/>
<rect x="311.29" y="116.96" width="6.43" height="6.42" fill="#bfbfff"/>
<rect x="317.32" y="116.96" width="6.43" height="6.42" fill="#ffbbbb"/>
<rect x="323.35" y="116.96" width="6.43" height="6.42" fill="#ffd4d4"/>
<rect x="329.38" y="116.96" width="6.43" height="6.42" fill="#ffaaaa"/>
<rect x="335.41" y="116.96" width="6.43" height="6.42" fill="#e6e6ff"/>
<rect x="341.44" y="116.96" width="6.43" height="6.42" fill="#ffd4d4"/>
<rect x="347.47" y="116.96" width="6.43" height="6.42" fill="#f9f9ff"/>
<rect x="353.50" y="116.96" width="6.43" height="6.42" fill="#bfbfff"/>
<rect x="359.53" y="116.96" width="6.43" height="6.42" fill="#ffa2a2"/>
<rect x="365.56" y="116.96" width="6.43" height="6.42" fill="#ffbbbb"/>
<rect x="371.59" y="116.96" width="6.43" height="6.42" fill="#ffaaaa"/>
<rect x="377.62" y="116.96" width="6.43" height="6.42" fill="#7373ff"/>
<rect x="383.65" y="116.96" width="6.43" height="6.42" fill="#acacff"/>
<rect x="389.68" y="116.96" width="6.43" height="6.42" fill="#ff9090"/>
<rect x="395.71" y="116.96" width="6.43" height="6.42" fill="#ececff"/>
<rect x="401.74" y="116.96" width="6.43" height="6.42" fill="#dfdfff"/>
<rect x="407.77" y="116.96" width="6.43" height="6.42" fill="#6060ff"/>
<rect x="413.80" y="116.96" width="6.43" height="6.42" fill="#a6a6ff"/>
<rect x="419.83" y="116.96" width="6.43" height="6.42" fill="#dfdfff"/>
<rect x="425.86" y="116.96" width="6.43" height="6.42" fill="#ffeeee"/>
<rect x="431.89" y="116.96" width="6.43" height="6.42" fill="#d9d9ff"/>
<rect x="437.92" y="116.96" width="6.03" height="6.42" fill="#bfbfff"/>
<rect x="293.20" y="122.98" width="6.43" height="6.42" fill="#ff2222"/>
<rect x="299.23" y="122.98" width="6.43" height="6.42" fill="#ffcccc"/>
<rect x="305.26" y="122.98" width="6.43" height="6.42" fill="#ffbbbb"/>
<rect x="311.29" y="122.98" width="6.43" height="6.42" fill="#bfbfff"/>
<rect x="317.32" y="122.98" width="6.43" height="6.42" fill="#ffa2a2"/>
<rect x="323.35" y="122.98" width="6.43" height="6.42" fill="#ff8888"/>
<rect x="329.38" y="122.98" width="6.43" height="6.42" fill="#ff8888"/>
<rect x="335.41" y="122.98" width="6.43" height="6.42" fill="#ff9090"/>
<rect x="341.44" y="122.98" width="6.43" height="6.42" fill="#ffdddd"/>
<rect x="347.47" y="122.98" width="6.43" height="6.42" fill="#bfbfff"/>
<rect x="353.50" y="122.98" width="6.43" height="6.42" fill="#bfbfff"/>
<rect x="359.53" y="122.98" width="6.43" height="6.42" fill="#ff9999"/>
<rect x="365.56" y="122.98" width="6.43" height="6.42" fill="#ffdddd"/>
<rect x="371.59" y="122.98" width="6.43" height="6.42" fill="#ffa2a2"/>
<rect x="377.62" y="122.98" width="6.43" height="6.42" fill="#8080ff"/>
<rect x="383.65" y="122.98" width="6.43" height="6.42" fill="#acacff"/>
<rect x="389.68" y="122.98" width="6.43" height="6.42" fill="#ffc4c4"/>
<rect x="395.71" y="122.98" width="6.43" height="6.42" fill="#ffffff"/>
<rect x="401.74" y="122.98" width="6.43" height="6.42" fill="#c6c6ff"/>
<rect x="407.77" y="122.98" width="6.43" height="6.42" fill="#9393ff"/>
<rect x="413.80" y="122.98" width="6.43" height="6.42" fill="#a6a6ff"/>
<rect x="419.83" y="122.98" width="6.43" height="6.42" fill="#ccccff"/>
<rect x="425.86" y="122.98" width="6.43" height="6.42" fill="#ffffff"/>
<rect x="431.89" y="122.98" width="6.43" height="6.42" fill="#8686ff"/>
<rect x="437.92" y="122.98" width="6.03" height="6.42" fill="#b2b2ff"/>
<rect x="293.20" y="129.00" width="6.43" height="6.42" fill="#ff0000"/>
<rect x="299.23" y="129.00" width="6.43" height="6.42" fill="#ffe6e6"/>
<rect x="305.26" y="129.00" width="6.43" height="6.42" fill="#ececff"/>
<rect x="311.29" y="129.00" width="6.43" height="6.42" fill="#ffcccc"/>
<rect x="317.32" y="129.00" width="6.43" height="6.42" fill="#ffc4c4"/>
<rect x="323.35" y="129.00" width="6.43" height="6.42" fill="#ffffff"/>
<rect x="329.38" y="129.00" width="6.43" height="6.42" fill="#ff9999"/>
<rect x="335.41" y="129.00" width="6.43" height="6.42" fill="#ffd4d4"/>
<rect x="341.44" y="129.00" width="6.43" height="6.42" fill="#ffaaaa"/>
<rect x="347.47" y="129.00" width="6.43" height="6.42" fill="#ffeeee"/>
<rect x="353.50" y="129.00" width="6.43" height="6.42" fill="#fff6f6"/>
<rect x="359.53" y="129.00" width="6.43" height="6.42" fill="#ffd4d4"/>
<rect x="365.56" y="129.00" width="6.43" height="6.42" fill="#ffd4d4"/>
<rect x="371.59" y="129.00" width="6.43" height="6.42" fill="#fffbfb"/>
<rect x="377.62" y="129.00" width="6.43" height="6.42" fill="#b2b2ff"/>
<rect x="383.65" y="129.00" width="6.43" height="6.42" fill="#ffdddd"/>
<rect x="389.68" y="129.00" width="6.43" height="6.42" fill="#ffbbbb"/>
<rect x="395.71" y="129.00" width="6.43" height="6.42" fill="#ececff"/>
<rect x="401.74" y="129.00" width="6.43" height="6.42" fill="#bfbfff"/>
<rect x="407.77" y="129.00" width="6.43" height="6.42" fill="#3333ff"/>
<rect x="413.80" y="129.00" width="6.43" height="6.42" fill="#fff6f6"/>
<rect x="419.83" y="129.00" width="6.43" height="6.42" fill="#bfbfff"/>
<rect x="425.86" y="129.00" width="6.43" height="6.42" fill="#bfbfff"/>
<rect x="431.89" y="129.00" width="6.43" height="6.42" fill="#d9d9ff"/>
<rect x="437.92" y="129.00" width="6.03" height="6.42" fill="#6666ff"/>
<rect x="293.20" y="135.02" width="6.43" height="6.42" fill="#ff2222"/>
<rect x="299.23" y="135.02" width="6.43" height="6.42" fill="#ff9090"/>
<rect x="305.26" y="135.02" width="6.43" height="6.42" fill="#ffe6e6"/>
<rect x="311.29" y="135.02" width="6.43" height="6.42" fill="#ffd4d4"/>
<rect x="317.32" y="135.02" width="6.43" height="6.42" fill="#ffdddd"/>
<rect x="323.35" y="135.02" width="6.43" height="6.42" fill="#ffb2b2"/>
<rect x="329.38" y="135.02" width="6.43" height="6.42" fill="#ffffff"/>
<rect x="335.41" y="135.02" width="6.43" height="6.42" fill="#ffaaaa"/>
<rect x="341.44" y="135.02" width="6.43" height="6.42" fill="#ffaaaa"/>
<rect x="347.47" y="135.02" width="6.43" height="6.42" fill="#ccccff"/>
<rect x="353.50" y="135.02" width="6.43" height="6.42" fill="#ffeeee"/>
<rect x="359.53" y="135.02" width="6.43" height="6.42" fill="#ffaaaa"/>
<rect x="365.56" y="135.02" width="6.43" height="6.42" fill="#ffffff"/>
<rect x="371.59" y="135.02" width="6.43" height="6.42" fill="#ffbbbb"/>
<rect x="377.62" y="135.02" width="6.43" height="6.42" fill="#e6e6ff"/>
<rect x="383.65" y="135.02" width="6.43" height="6.42" fill="#9f9fff"/>
<rect x="389.68" y="135.02" width="6.43" height="6.42" fill="#ff8080"/>
<rect x="395.71" y="135.02" width="6.43" height="6.42" fill="#bfbfff"/>
<rect x="401.74" y="135.02" width="6.43" height="6.42" fill="#5959ff"/>
<rect x="407.77" y="135.02" width="6.43" height="6.42" fill="#4040ff"/>
<rect x="413.80" y="135.02" width="6.43" height="6.42" fill="#b9b9ff"/>
<rect x="419.83" y="135.02" width="6.43" height="6.42" fill="#ececff"/>
<rect x="425.86" y="135.02" width="6.43" height="6.42" fill="#d9d9ff"/>
<rect x="431.89" y="135.02" width="6.43" height="6.42" fill="#c6c6ff"/>
<rect x="437.92" y="135.02" width="6.03" height="6.42" fill="#e6e6ff"/>
<rect x="293.20" y="141.04" width="6.43" height="6.42" fill="#ff2a2a"/>
<rect x="299.23" y="141.04" width="6.43" height="6.42" fill="#ffcccc"/>
<rect x="305.26" y="141.04" width="6.43" height="6.42" fill="#ff9090"/>
<rect x="311.29" y="141.04" width="6.43" height="6.42" fill="#ffc4c4"/>
<rect x="317.32" y="141.04" width="6.43" height="6.42" fill="#ff8080"/>
<rect x="323.35" y="141.04" width="6.43" height="6.42" fill="#ffdddd"/>
<rect x="329.38" y="141.04" width="6.43" height="6.42" fill="#8080ff"/>
<rect x="335.41" y="141.04" width="6.43" height="6.42" fill="#ff8888"/>
<rect x="341.44" y="141.04" width="6.43" height="6.42" fill="#8080ff"/>
<rect x="347.47" y="141.04" width="6.43" height="6.42" fill="#8080ff"/>
<rect x="353.50" y="141.04" width="6.43" height="6.42" fill="#ffe6e6"/>
<rect x="359.53" y="141.04" width="6.43" height="6.42" fill="#ff9090"/>
<rect x="365.56" y="141.04" width="6.43" height="6.42" fill="#ffe6e6"/>
<rect x="371.59" y="141.04" width="6.43" height="6.42" fill="#ffbbbb"/>
<rect x="377.62" y="141.04" width="6.43" height="6.42" fill="#ffbbbb"/>
<rect x="383.65" y="141.04" width="6.43" height="6.42" fill="#ffbbbb"/>
<rect x="389.68" y="141.04" width="6.43" height="6.42" fill="#fff6f6"/>
<rect x="395.71" y="141.04" width="6.43" height="6.42" fill="#ececff"/>
<rect x="401.74" y="141.04" width="6.43" height="6.42" fill="#8c8cff"/>
<rect x="407.77" y="141.04" width="6.43" height="6.42" fill="#8c8cff"/>
<rect x="413.80" y="141.04" width="6.43" height="6.42" fill="#8c8cff"/>
<rect x="419.83" y="141.04" width="6.43" height="6.42" fill="#fff6f6"/>
<rect x="425.86" y="141.04" width="6.43" height="6.42" fill="#e6e6ff"/>
<rect x="431.89" y="141.04" width="6.43" height="6.42" fill="#9393ff"/>
<rect x="437.92" y="141.04" width="6.03" height="6.42" fill="#8c8cff"/>
<rect x="293.20" y="147.06" width="6.43" height="6.42" fill="#ff0000"/>
<rect x="299.23" y="147.06" width="6.43" height="6.42" fill="#ff7777"/>
<rect x="305.26" y="147.06" width="6.43" height="6.42" fill="#fff6f6"/>
<rect x="311.29" y="147.06" width="6.43" height="6.42" fill="#ffc4c4"/>
<rect x="317.32" y="147.06" width="6.43" height="6.42" fill="#ffd4d4"/>
<rect x="323.35" y="147.06" width="6.43" height="6.42" fill="#f2f2ff"/>
<rect x="329.38" y="147.06" width="6.43" height="6.42" fill="#d9d9ff"/>
<rect x="335.41" y="147.06" width="6.43" height="6.42" fill="#ff7777"/>
<rect x="341.44" y="147.06" width="6.43" height="6.42" fill="#ccccff"/>
<rect x="347.47" y="147.06" width="6.43" height="6.42" fill="#ffffff"/>
<rect x="353.50" y="147.06" width="6.43" height="6.42" fill="#ffffff"/>
<rect x="359.53" y="147.06" width="6.43" height="6.42" fill="#ffbbbb"/>
<rect x="365.56" y="147.06" width="6.43" height="6.42" fill="#bfbfff"/>
<rect x="371.59" y="147.06" width="6.43" height="6.42" fill="#ffffff"/>
<rect x="377.62" y="147.06" width="6.43" height="6.42" fill="#f2f2ff"/>
<rect x="383.65" y="147.06" width="6.43" height="6.42" fill="#8c8cff"/>
<rect x="389.68" y="147.06" width="6.43" height="6.42" fill="#ffa2a2"/>
<rect x="395.71" y="147.06" width="6.43" height="6.42" fill="#ffe6e6"/>
<rect x="401.74" y="147.06" width="6.43" height="6.42" fill="#8c8cff"/>
<rect x="407.77" y="147.06" width="6.43" height="6.42" fill="#d9d9ff"/>
<rect x="413.80" y="147.06" width="6.43" height="6.42" fill="#8080ff"/>
<rect x="419.83" y="147.06" width="6.43" height="6.42" fill="#9f9fff"/>
<rect x="425.86" y="147.06" width="6.43" height="6.42" fill="#ececff"/>
<rect x="431.89" y="147.06" width="6.43" height="6.42" fill="#acacff"/>
<rect x="437.92" y="147.06" width="6.03" height="6.42" fill="#ffffff"/>
<rect x="293.20" y="153.08" width="6.43" height="6.42" fill="#ff2a2a"/>
<rect x="299.23" y="153.08" width="6.43" height="6.42" fill="#d2d2ff"/>
<rect x="305.26" y="153.08" width="6.43" height="6.42" fill="#ff9999"/>
<rect x="311.29" y="153.08" width="6.43" height="6.42" fill="#dfdfff"/>
<rect x="317.32" y="153.08" width="6.43" height="6.42" fill="#ffaaaa"/>
<rect x="323.35" y="153.08" width="6.43" height="6.42" fill="#8c8cff"/>
<rect x="329.38" y="153.08" width="6.43" height="6.42" fill="#ffcccc"/>
<rect x="335.41" y="153.08" width="6.43" height="6.42" fill="#ffbbbb"/>
<rect x="341.44" y="153.08" width="6.43" height="6.42" fill="#ffaaaa"/>
<rect x="347.47" y="153.08" width="6.43" height="6.42" fill="#f9f9ff"/>
<rect x="353.50" y="153.08" width="6.43" height="6.42" fill="#ffb2b2"/>
<rect x="359.53" y="153.08" width="6.43" height="6.42" fill="#ffbbbb"/>
<rect x="365.56" y="153.08" width="6.43" height="6.42" fill="#f9f9ff"/>
<rect x="371.59" y="153.08" width="6.43" height="6.42" fill="#ff7777"/>
<rect x="377.62" y="153.08" width="6.43" height="6.42" fill="#ffd4d4"/>
<rect x="383.65" y="153.08" width="6.43" height="6.42" fill="#acacff"/>
<rect x="389.68" y="153.08" width="6.43" height="6.42" fill="#ff9090"/>
<rect x="395.71" y="153.08" width="6.43" height="6.42" fill="#ffeeee"/>
<rect x="401.74" y="153.08" width="6.43" height="6.42" fill="#ccccff"/>
<rect x="407.77" y="153.08" width="6.43" height="6.42" fill="#8c8cff"/>
<rect x="413.80" y="153.08" width="6.43" height="6.42" fill="#8c8cff"/>
<rect x="419.83" y="153.08" width="6.43" height="6.42" fill="#9999ff"/>
<rect x="425.86" y="153.08" width="6.43" height="6.42" fill="#d2d2ff"/>
<rect x="431.89" y="153.08" width="6.43" height="6.42" fill="#9f9fff"/>
<rect x="437.92" y="153.08" width="6.03" height="6.42" fill="#9393ff"/>
<rect x="293.20" y="159.10" width="6.43" height="6.42" fill="#ff2a2a"/>
<rect x="299.23" y="159.10" width="6.43" height="6.42" fill="#fff6f6"/>
<rect x="305.26" y="159.10" width="6.43" height="6.42" fill="#ffaaaa"/>
<rect x="311.29" y="159.10" width="6.43" height="6.42" fill="#dfdfff"/>
<rect x="317.32" y="159.10" width="6.43" height="6.42" fill="#f2f2ff"/>
<rect x="323.35" y="159.10" width="6.43" height="6.42" fill="#ffbbbb"/>
<rect x="329.38" y="159.10" width="6.43" height="6.42" fill="#ffbbbb"/>
<rect x="335.41" y="159.10" width="6.43" height="6.42" fill="#ffcccc"/>
<rect x="341.44" y="159.10" width="6.43" height="6.42" fill="#ffd4d4"/>
<rect x="347.47" y="159.10" width="6.43" height="6.42" fill="#fff6f6"/>
<rect x="353.50" y="159.10" width="6.43" height="6.42" fill="#ffe6e6"/>
<rect x="359.53" y="159.10" width="6.43" height="6.42" fill="#ff8888"/>
<rect x="365.56" y="159.10" width="6.43" height="6.42" fill="#ffd4d4"/>
<rect x="371.59" y="159.10" width="6.43" height="6.42" fill="#ff7777"/>
<rect x="377.62" y="159.10" width="6.43" height="6.42" fill="#d9d9ff"/>
<rect x="383.65" y="159.10" width="6.43" height="6.42" fill="#ffffff"/>
<rect x="389.68" y="159.10" width="6.43" height="6.42" fill="#dfdfff"/>
<rect x="395.71" y="159.10" width="6.43" height="6.42" fill="#ffcccc"/>
<rect x="401.74" y="159.10" width="6.43" height="6.42" fill="#ccccff"/>
<rect x="407.77" y="159.10" width="6.43" height="6.42" fill="#5959ff"/>
<rect x="413.80" y="159.10" width="6.43" height="6.42" fill="#ccccff"/>
<rect x="419.83" y="159.10" width="6.43" height="6.42" fill="#5959ff"/>
<rect x="425.86" y="159.10" width="6.43" height="6.42" fill="#ffd4d4"/>
<rect x="431.89" y="159.10" width="6.43" height="6.42" fill="#a6a6ff"/>
<rect x="437.92" y="159.10" width="6.03" height="6.42" fill="#7373ff"/>
<rect x="293.20" y="165.12" width="6.43" height="6.42" fill="#ff5e5e"/>
<rect x="299.23" y="165.12" width="6.43" height="6.42" fill="#ffc4c4"/>
<rect x="305.26" y="165.12" width="6.43" height="6.42" fill="#ffc4c4"/>
<rect x="311.29" y="165.12" width="6.43" height="6.42" fill="#ffcccc"/>
<rect x="317.32" y="165.12" width="6.43" height="6.42" fill="#ffcccc"/>
<rect x="323.35" y="165.12" width="6.43" height="6.42" fill="#ffaaaa"/>
<rect x="329.38" y="165.12" width="6.43" height="6.42" fill="#ffd4d4"/>
<rect x="335.41" y="165.12" width="6.43" height="6.42" fill="#ffb2b2"/>
<rect x="341.44" y="165.12" width="6.43" height="6.42" fill="#ffdddd"/>
<rect x="347.47" y="165.12" width="6.43" height="6.42" fill="#ffdddd"/>
<rect x="353.50" y="165.12" width="6.43" height="6.42" fill="#ffeeee"/>
<rect x="359.53" y="165.12" width="6.43" height="6.42" fill="#ff8080"/>
<rect x="365.56" y="165.12" width="6.43" height="6.42" fill="#ffbbbb"/>
<rect x="371.59" y="165.12" width="6.43" height="6.42" fill="#ff9999"/>
<rect x="377.62" y="165.12" width="6.43" height="6.42" fill="#dfdfff"/>
<rect x="383.65" y="165.12" width="6.43" height="6.42" fill="#d2d2ff"/>
<rect x="389.68" y="165.12" width="6.43" height="6.42" fill="#ffaaaa"/>
<rect x="395.71" y="165.12" width="6.43" height="6.42" fill="#ffeeee"/>
<rect x="401.74" y="165.12" width="6.43" height="6.42" fill="#ccccff"/>
<rect x="407.77" y="165.12" width="6.43" height="6.42" fill="#6060ff"/>
<rect x="413.80" y="165.12" width="6.43" height="6.42" fill="#9f9fff"/>
<rect x="419.83" y="165.12" width="6.43" height="6.42" fill="#2020ff"/>
<rect x="425.86" y="165.12" width="6.43" height="6.42" fill="#f2f2ff"/>
<rect x="431.89" y="165.12" width="6.43" height="6.42" fill="#7979ff"/>
<rect x="437.92" y="165.12" width="6.03" height="6.42" fill="#bfbfff"/>
<rect x="293.20" y="171.14" width="6.43" height="6.42" fill="#ff0000"/>
<rect x="299.23" y="171.14" width="6.43" height="6.42" fill="#ffa2a2"/>
<rect x="305.26" y="171.14" width="6.43" height="6.42" fill="#ffbbbb"/>
<rect x="311.29" y="171.14" width="6.43" height="6.42" fill="#ffeeee"/>
<rect x="317.32" y="171.14" width="6.43" height="6.42" fill="#ffcccc"/>
<rect x="323.35" y="171.14" width="6.43" height="6.42" fill="#ececff"/>
<rect x="329.38" y="171.14" width="6.43" height="6.42" fill="#ffcccc"/>
<rect x="335.41" y="171.14" width="6.43" height="6.42" fill="#ff9999"/>
<rect x="341.44" y="171.14" width="6.43" height="6.42" fill="#f9f9ff"/>
<rect x="347.47" y="171.14" width="6.43" height="6.42" fill="#f9f9ff"/>
<rect x="353.50" y="171.14" width="6.43" height="6.42" fill="#ececff"/>
<rect x="359.53" y="171.14" width="6.43" height="6.42" fill="#ffc4c4"/>
<rect x="365.56" y="171.14" width="6.43" height="6.42" fill="#ffdddd"/>
<rect x="371.59" y="171.14" width="6.43" height="6.42" fill="#ffaaaa"/>
<rect x="377.62" y="171.14" width="6.43" height="6.42" fill="#dfdfff"/>
<rect x="383.65" y="171.14" width="6.43" height="6.42" fill="#9f9fff"/>
<rect x="389.68" y="171.14" width="6.43" height="6.42" fill="#ff9999"/>
<rect x="395.71" y="171.14" width="6.43" height="6.42" fill="#ffffff"/>
<rect x="401.74" y="171.14" width="6.43" height="6.42" fill="#acacff"/>
<rect x="407.77" y="171.14" width="6.43" height="6.42" fill="#9999ff"/>
<rect x="413.80" y="171.14" width="6.43" height="6.42" fill="#9999ff"/>
<rect x="419.83" y="171.14" width="6.43" height="6.42" fill="#7979ff"/>
<rect x="425.86" y="171.14" width="6.43" height="6.42" fill="#ffd4d4"/>
<rect x="431.89" y="171.14" width="6.43" height="6.42" fill="#8080ff"/>
<rect x="437.92" y="171.14" width="6.03" height="6.42" fill="#d2d2ff"/>
<rect x="293.20" y="177.16" width="6.43" height="6.42" fill="#ff5e5e"/>
<rect x="299.23" y="177.16" width="6.43" height="6.42" fill="#ffd4d4"/>
<rect x="305.26" y="177.16" width="6.43" height="6.42" fill="#ff9090"/>
<rect x="311.29" y="177.16" width="6.43" height="6.42" fill="#ffa2a2"/>
<rect x="317.32" y="177.16" width="6.43" height="6.42" fill="#ffdddd"/>
<rect x="323.35" y="177.16" width="6.43" height="6.42" fill="#ff9090"/>
<rect x="329.38" y="177.16" width="6.43" height="6.42" fill="#ffd4d4"/>
<rect x="335.41" y="177.16" width="6.43" height="6.42" fill="#ffe6e6"/>
<rect x="341.44" y="177.16" width="6.43" height="6.42" fill="#ffaaaa"/>
<rect x="347.47" y="177.16" width="6.43" height="6.42" fill="#ffaaaa"/>
<rect x="353.50" y="177.16" width="6.43" height="6.42" fill="#e6e6ff"/>
<rect x="359.53" y="177.16" width="6.43" height="6.42" fill="#ffd4d4"/>
<rect x="365.56" y="177.16" width="6.43" height="6.42" fill="#ffaaaa"/>
<rect x="371.59" y="177.16" width="6.43" height="6.42" fill="#ffbbbb"/>
<rect x="377.62" y="177.16" width="6.43" height="6.42" fill="#d9d9ff"/>
<rect x="383.65" y="177.16" width="6.43" height="6.42" fill="#ececff"/>
<rect x="389.68" y="177.16" width="6.43" height="6.42" fill="#acacff"/>
<rect x="395.71" y="177.16" width="6.43" height="6.42" fill="#ffe6e6"/>
<rect x="401.74" y="177.16" width="6.43" height="6.42" fill="#ececff"/>
<rect x="407.77" y="177.16" width="6.43" height="6.42" fill="#7373ff"/>
<rect x="413.80" y="177.16" width="6.43" height="6.42" fill="#ffffff"/>
<rect x="419.83" y="177.16" width="6.43" height="6.42" fill="#4040ff"/>
<rect x="425.86" y="177.16" width="6.43" height="6.42" fill="#ccccff"/>
<rect x="431.89" y="177.16" width="6.43" height="6.42" fill="#acacff"/>
<rect x="437.92" y="177.16" width="6.03" height="6.42" fill="#6666ff"/>
<rect x="293.20" y="183.18" width="6.43" height="6.42" fill="#ff5e5e"/>
<rect x="299.23" y="183.18" width="6.43" height="6.42" fill="#ffaaaa"/>
<rect x="305.26" y="183.18" width="6.43" height="6.42" fill="#ffffff"/>
<rect x="311.29" y="183.18" width="6.43" height="6.42" fill="#ffcccc"/>
<rect x="317.32" y="183.18" width="6.43" height="6.42" fill="#ffd4d4"/>
<rect x="323.35" y="183.18" width="6.43" height="6.42" fill="#ffe6e6"/>
<rect x="329.38" y="183.18" width="6.43" height="6.42" fill="#bfbfff"/>
<rect x="335.41" y="183.18" width="6.43" height="6.42" fill="#ffb2b2"/>
<rect x="341.44" y="183.18" width="6.43" height="6.42" fill="#ffc4c4"/>
<rect x="347.47" y="183.18" width="6.43" height="6.42" fill="#ffaaaa"/>
<rect x="353.50" y="183.18" width="6.43" height="6.42" fill="#ff9999"/>
<rect x="359.53" y="183.18" width="6.43" height="6.42" fill="#fff6f6"/>
<rect x="365.56" y="183.18" width="6.43" height="6.42" fill="#ffc4c4"/>
<rect x="371.59" y="183.18" width="6.43" height="6.42" fill="#ffe6e6"/>
<rect x="377.62" y="183.18" width="6.43" height="6.42" fill="#ff9090"/>
<rect x="383.65" y="183.18" width="6.43" height="6.42" fill="#ececff"/>
<rect x="389.68" y="183.18" width="6.43" height="6.42" fill="#ffcccc"/>
<rect x="395.71" y="183.18" width="6.43" height="6.42" fill="#8686ff"/>
<rect x="401.74" y="183.18" width="6.43" height="6.42" fill="#ececff"/>
<rect x="407.77" y="183.18" width="6.43" height="6.42" fill="#4040ff"/>
<rect x="413.80" y="183.18" width="6.43" height="6.42" fill="#e6e6ff"/>
<rect x="419.83" y="183.18" width="6.43" height="6.42" fill="#b2b2ff"/>
<rect x="425.86" y="183.18" width="6.43" height="6.42" fill="#ffe6e6"/>
<rect x="431.89" y="183.18" width="6.43" height="6.42" fill="#3333ff"/>
<rect x="437.92" y="183.18" width="6.03" height="6.42" fill="#c6c6ff"/>
<rect x="293.20" y="189.20" width="6.43" height="6.42" fill="#ff0000"/>
<rect x="299.23" y="189.20" width="6.43" height="6.42" fill="#ffcccc"/>
<rect x="305.26" y="189.20" width="6.43" height="6.42" fill="#ffd4d4"/>
<rect x="311.29" y="189.20" width="6.43" height="6.42" fill="#fffbfb"/>
<rect x="317.32" y="189.20" width="6.43" height="6.42" fill="#ffdddd"/>
<rect x="323.35" y="189.20" width="6.43" height="6.42" fill="#8c8cff"/>
<rect x="329.38" y="189.20" width="6.43" height="6.42" fill="#fff6f6"/>
<rect x="335.41" y="189.20" width="6.43" height="6.42" fill="#ffc4c4"/>
<rect x="341.44" y="189.20" width="6.43" height="6.42" fill="#ffe6e6"/>
<rect x="347.47" y="189.20" width="6.43" height="6.42" fill="#ccccff"/>
<rect x="353.50" y="189.20" width="6.43" height="6.42" fill="#ff9090"/>
<rect x="359.53" y="189.20" width="6.43" height="6.42" fill="#ffb2b2"/>
<rect x="365.56" y="189.20" width="6.43" height="6.42" fill="#ccccff"/>
<rect x="371.59" y="189.20" width="6.43" height="6.42" fill="#d9d9ff"/>
<rect x="377.62" y="189.20" width="6.43" height="6.42" fill="#ffaaaa"/>
<rect x="383.65" y="189.20" width="6.43" height="6.42" fill="#dfdfff"/>
<rect x="389.68" y="189.20" width="6.43" height="6.42" fill="#ff8888"/>
<rect x="395.71" y="189.20" width="6.43" height="6.42" fill="#a6a6ff"/>
<rect x="401.74" y="189.20" width="6.43" height="6.42" fill="#e6e6ff"/>
<rect x="407.77" y="189.20" width="6.43" height="6.42" fill="#dfdfff"/>
<rect x="413.80" y="189.20" width="6.43" height="6.42" fill="#ffd4d4"/>
<rect x="419.83" y="189.20" width="6.43" height="6.42" fill="#b2b2ff"/>
<rect x="425.86" y="189.20" width="6.43" height="6.42" fill="#dfdfff"/>
<rect x="431.89" y="189.20" width="6.43" height="6.42" fill="#f9f9ff"/>
<rect x="437.92" y="189.20" width="6.03" height="6.42" fill="#2d2dff"/>
<rect x="293.20" y="195.22" width="6.43" height="6.42" fill="#ff3c3c"/>
<rect x="299.23" y="195.22" width="6.43" height="6.42" fill="#ffe6e6"/>
<rect x="305.26" y="195.22" width="6.43" height="6.42" fill="#ffd4d4"/>
<rect x="311.29" y="195.22" width="6.43" height="6.42" fill="#ffdddd"/>
<rect x="317.32" y="195.22" width="6.43" height="6.42" fill="#ffa2a2"/>
<rect x="323.35" y="195.22" width="6.43" height="6.42" fill="#ffb2b2"/>
<rect x="329.38" y="195.22" width="6.43" height="6.42" fill="#ff9090"/>
<rect x="335.41" y="195.22" width="6.43" height="6.42" fill="#ffd4d4"/>
<rect x="341.44" y="195.22" width="6.43" height="6.42" fill="#ffc4c4"/>
<rect x="347.47" y="195.22" width="6.43" height="6.42" fill="#d2d2ff"/>
<rect x="353.50" y="195.22" width="6.43" height="6.42" fill="#ffe6e6"/>
<rect x="359.53" y="195.22" width="6.43" height="6.42" fill="#ffd4d4"/>
<rect x="365.56" y="195.22" width="6.43" height="6.42" fill="#ffcccc"/>
<rect x="371.59" y="195.22" width="6.43" height="6.42" fill="#ffcccc"/>
<rect x="377.62" y="195.22" width="6.43" height="6.42" fill="#acacff"/>
<rect x="383.65" y="195.22" width="6.43" height="6.42" fill="#ececff"/>
<rect x="389.68" y="195.22" width="6.43" height="6.42" fill="#ececff"/>
<rect x="395.71" y="195.22" width="6.43" height="6.42" fill="#ffc4c4"/>
<rect x="401.74" y="195.22" width="6.43" height="6.42" fill="#bfbfff"/>
<rect x="407.77" y="195.22" width="6.43" height="6.42" fill="#6666ff"/>
<rect x="413.80" y="195.22" width="6.43" height="6.42" fill="#ffffff"/>
<rect x="419.83" y="195.22" width="6.43" height="6.42" fill="#3333ff"/>
<rect x="425.86" y="195.22" width="6.43" height="6.42" fill="#ffe6e6"/>
<rect x="431.89" y="195.22" width="6.43" height="6.42" fill="#b2b2ff"/>
<rect x="437.92" y="195.22" width="6.03" height="6.42" fill="#8080ff"/>
<rect x="293.20" y="201.24" width="6.43" height="6.42" fill="#ff6666"/>
<rect x="299.23" y="201.24" width="6.43" height="6.42" fill="#bfbfff"/>
<rect x="305.26" y="201.24" width="6.43" height="6.42" fill="#ff9999"/>
<rect x="311.29" y="201.24" width="6.43" height="6.42" fill="#ffc4c4"/>
<rect x="317.32" y="201.24" width="6.43" height="6.42" fill="#ffd4d4"/>
<rect x="323.35" y="201.24" width="6.43" height="6.42" fill="#ffbbbb"/>
<rect x="329.38" y="201.24" width="6.43" height="6.42" fill="#ffe6e6"/>
<rect x="335.41" y="201.24" width="6.43" height="6.42" fill="#ffbbbb"/>
<rect x="341.44" y="201.24" width="6.43" height="6.42" fill="#ffb2b2"/>
<rect x="347.47" y="201.24" width="6.43" height="6.42" fill="#ffa2a2"/>
<rect x="353.50" y="201.24" width="6.43" height="6.42" fill="#ececff"/>
<rect x="359.53" y="201.24" width="6.43" height="6.42" fill="#ffeeee"/>
<rect x="365.56" y="201.24" width="6.43" height="6.42" fill="#ffeeee"/>
<rect x="371.59" y="201.24" width="6.43" height="6.42" fill="#fff6f6"/>
<rect x="377.62" y="201.24" width="6.43" height="6.42" fill="#d9d9ff"/>
<rect x="383.65" y="201.24" width="6.43" height="6.42" fill="#ffc4c4"/>
<rect x="389.68" y="201.24" width="6.43" height="6.42" fill="#fff6f6"/>
<rect x="395.71" y="201.24" width="6.43" height="6.42" fill="#ffaaaa"/>
<rect x="401.74" y="201.24" width="6.43" height="6.42" fill="#ffaaaa"/>
<rect x="407.77" y="201.24" width="6.43" height="6.42" fill="#4040ff"/>
<rect x="413.80" y="201.24" width="6.43" height="6.42" fill="#ffffff"/>
<rect x="419.83" y="201.24" width="6.43" height="6.42" fill="#3333ff"/>
<rect x="425.86" y="201.24" width="6.43" height="6.42" fill="#f2f2ff"/>
<rect x="431.89" y="201.24" width="6.43" height="6.42" fill="#e6e6ff"/>
<rect x="437.92" y="201.24" width="6.03" height="6.42" fill="#4040ff"/>
<rect x="293.20" y="207.26" width="6.43" height="6.42" fill="#ff0000"/>
<rect x="299.23" y="207.26" width="6.43" height="6.42" fill="#ffc4c4"/>
<rect x="305.26" y="207.26" width="6.43" height="6.42" fill="#ffc4c4"/>
<rect x="311.29" y="207.26" width="6.43" height="6.42" fill="#ffa2a2"/>
<rect x="317.32" y="207.26" width="6.43" height="6.42" fill="#f2f2ff"/>
<rect x="323.35" y="207.26" width="6.43" height="6.42" fill="#ffdddd"/>
<rect x="329.38" y="207.26" width="6.43" height="6.42" fill="#ffd4d4"/>
<rect x="335.41" y="207.26" width="6.43" height="6.42" fill="#ffeeee"/>
<rect x="341.44" y="207.26" width="6.43" height="6.42" fill="#ffcccc"/>
<rect x="347.47" y="207.26" width="6.43" height="6.42" fill="#ffeeee"/>
<rect x="353.50" y="207.26" width="6.43" height="6.42" fill="#fff6f6"/>
<rect x="359.53" y="207.26" width="6.43" height="6.42" fill="#ffbbbb"/>
<rect x="365.56" y="207.26" width="6.43" height="6.42" fill="#f9f9ff"/>
<rect x="371.59" y="207.26" width="6.43" height="6.42" fill="#ffffff"/>
<rect x="377.62" y="207.26" width="6.43" height="6.42" fill="#ffcccc"/>
<rect x="383.65" y="207.26" width="6.43" height="6.42" fill="#9f9fff"/>
<rect x="389.68" y="207.26" width="6.43" height="6.42" fill="#dfdfff"/>
<rect x="395.71" y="207.26" width="6.43" height="6.42" fill="#dfdfff"/>
<rect x="401.74" y="207.26" width="6.43" height="6.42" fill="#bfbfff"/>
<rect x="407.77" y="207.26" width="6.43" height="6.42" fill="#d2d2ff"/>
<rect x="413.80" y="207.26" width="6.43" height="6.42" fill="#ffdddd"/>
<rect x="419.83" y="207.26" width="6.43" height="6.42" fill="#3333ff"/>
<rect x="425.86" y="207.26" width="6.43" height="6.42" fill="#fff6f6"/>
<rect x="431.89" y="207.26" width="6.43" height="6.42" fill="#9f9fff"/>
<rect x="437.92" y="207.26" width="6.03" height="6.42" fill="#9f9fff"/>
<rect x="293.20" y="213.28" width="6.43" height="6.42" fill="#ff2222"/>
<rect x="299.23" y="213.28" width="6.43" height="6.42" fill="#ffe6e6"/>
<rect x="305.26" y="213.28" width="6.43" height="6.42" fill="#ffaaaa"/>
<rect x="311.29" y="213.28" width="6.43" height="6.42" fill="#ffffff"/>
<rect x="317.32" y="213.28" width="6.43" height="6.42" fill="#ffaaaa"/>
<rect x="323.35" y="213.28" width="6.43" height="6.42" fill="#ffeeee"/>
<rect x="329.38" y="213.28" width="6.43" height="6.42" fill="#fff6f6"/>
<rect x="335.41" y="213.28" width="6.43" height="6.42" fill="#ffaaaa"/>
<rect x="341.44" y="213.28" width="6.43" height="6.42" fill="#ffffff"/>
<rect x="347.47" y="213.28" width="6.43" height="6.42" fill="#ffcccc"/>
<rect x="353.50" y="213.28" width="6.43" height="6.42" fill="#ffdddd"/>
<rect x="359.53" y="213.28" width="6.43" height="6.42" fill="#ff9090"/>
<rect x="365.56" y="213.28" width="6.43" height="6.42" fill="#ffdddd"/>
<rect x="371.59" y="213.28" width="6.43" height="6.42" fill="#ffdddd"/>
<rect x="377.62" y="213.28" width="6.43" height="6.42" fill="#e6e6ff"/>
<rect x="383.65" y="213.28" width="6.43" height="6.42" fill="#ffffff"/>
<rect x="389.68" y="213.28" width="6.43" height="6.42" fill="#ececff"/>
<rect x="395.71" y="213.28" width="6.43" height="6.42" fill="#ffeeee"/>
<rect x="401.74" y="213.28" width="6.43" height="6.42" fill="#bfbfff"/>
<rect x="407.77" y="213.28" width="6.43" height="6.42" fill="#0000ff"/>
<rect x="413.80" y="213.28" width="6.43" height="6.42" fill="#ccccff"/>
<rect x="419.83" y="213.28" width="6.43" height="6.42" fill="#9999ff"/>
<rect x="425.86" y="213.28" width="6.43" height="6.42" fill="#ffe6e6"/>
<rect x="431.89" y="213.28" width="6.43" height="6.42" fill="#bfbfff"/>
<rect x="437.92" y="213.28" width="6.03" height="6.42" fill="#9f9fff"/>
<rect x="293.20" y="219.30" width="6.43" height="6.42" fill="#ff2222"/>
<rect x="299.23" y="219.30" width="6.43" height="6.42" fill="#ffb2b2"/>
<rect x="305.26" y="219.30" width="6.43" height="6.42" fill="#ffb2b2"/>
<rect x="311.29" y="219.30" width="6.43" height="6.42" fill="#ffdddd"/>
<rect x="317.32" y="219.30" width="6.43" height="6.42" fill="#ffbbbb"/>
<rect x="323.35" y="219.30" width="6.43" height="6.42" fill="#ffffff"/>
<rect x="329.38" y="219.30" width="6.43" height="6.42" fill="#ffbbbb"/>
<rect x="335.41" y="219.30" width="6.43" height="6.42" fill="#ffcccc"/>
<rect x="341.44" y="219.30" width="6.43" height="6.42" fill="#ffe6e6"/>
<rect x="347.47" y="219.30" width="6.43" height="6.42" fill="#ffc4c4"/>
<rect x="353.50" y="219.30" width="6.43" height="6.42" fill="#ffd4d4"/>
<rect x="359.53" y="219.30" width="6.43" height="6.42" fill="#ffc4c4"/>
<rect x="365.56" y="219.30" width="6.43" height="6.42" fill="#ffc4c4"/>
<rect x="371.59" y="219.30" width="6.43" height="6.42" fill="#fffbfb"/>
<rect x="377.62" y="219.30" width="6.43" height="6.42" fill="#ececff"/>
<rect x="383.65" y="219.30" width="6.43" height="6.42" fill="#ccccff"/>
<rect x="389.68" y="219.30" width="6.43" height="6.42" fill="#f2f2ff"/>
<rect x="395.71" y="219.30" width="6.43" height="6.42" fill="#ffdddd"/>
<rect x="401.74" y="219.30" width="6.43" height="6.42" fill="#dfdfff"/>
<rect x="407.77" y="219.30" width="6.43" height="6.42" fill="#0000ff"/>
<rect x="413.80" y="219.30" width="6.43" height="6.42" fill="#ececff"/>
<rect x="419.83" y="219.30" width="6.43" height="6.42" fill="#8c8cff"/>
<rect x="425.86" y="219.30" width="6.43" height="6.42" fill="#dfdfff"/>
<rect x="431.89" y="219.30" width="6.43" height="6.42" fill="#b2b2ff"/>
<rect x="437.92" y="219.30" width="6.03" height="6.42" fill="#9393ff"/>
<rect x="293.20" y="225.32" width="6.43" height="6.42" fill="#ff0000"/>
<rect x="299.23" y="225.32" width="6.43" height="6.42" fill="#ffbbbb"/>
<rect x="305.26" y="225.32" width="6.43" height="6.42" fill="#ffe6e6"/>
<rect x="311.29" y="225.32" width="6.43" height="6.42" fill="#ffeeee"/>
<rect x="317.32" y="225.32" width="6.43" height="6.42" fill="#ffe6e6"/>
<rect x="323.35" y="225.32" width="6.43" height="6.42" fill="#ffeeee"/>
<rect x="329.38" y="225.32" width="6.43" height="6.42" fill="#ffcccc"/>
<rect x="335.41" y="225.32" width="6.43" height="6.42" fill="#ff5555"/>
<rect x="341.44" y="225.32" width="6.43" height="6.42" fill="#f9f9ff"/>
<rect x="347.47" y="225.32" width="6.43" height="6.42" fill="#f9f9ff"/>
<rect x="353.50" y="225.32" width="6.43" height="6.42" fill="#f9f9ff"/>
<rect x="359.53" y="225.32" width="6.43" height="6.42" fill="#ffc4c4"/>
<rect x="365.56" y="225.32" width="6.43" height="6.42" fill="#e6e6ff"/>
<rect x="371.59" y="225.32" width="6.43" height="6.42" fill="#e6e6ff"/>
<rect x="377.62" y="225.32" width="6.43" height="6.42" fill="#fff6f6"/>
<rect x="383.65" y="225.32" width="6.43" height="6.42" fill="#9393ff"/>
<rect x="389.68" y="225.32" width="6.43" height="6.42" fill="#ffe6e6"/>
<rect x="395.71" y="225.32" width="6.43" height="6.42" fill="#dfdfff"/>
<rect x="401.74" y="225.32" width="6.43" height="6.42" fill="#9999ff"/>
<rect x="407.77" y="225.32" width="6.43" height="6.42" fill="#ccccff"/>
<rect x="413.80" y="225.32" width="6.43" height="6.42" fill="#a6a6ff"/>
<rect x="419.83" y="225.32" width="6.43" height="6.42" fill="#ececff"/>
<rect x="425.86" y="225.32" width="6.43" height="6.42" fill="#ffffff"/>
<rect x="431.89" y="225.32" width="6.43" height="6.42" fill="#8080ff"/>
<rect x="437.92" y="225.32" width="6.03" height="6.42" fill="#bfbfff"/>
<rect x="293.20" y="231.34" width="6.43" height="6.02" fill="#ff1111"/>
<rect x="299.23" y="231.34" width="6.43" height="6.02" fill="#ffa2a2"/>
<rect x="305.26" y="231.34" width="6.43" height="6.02" fill="#ffbbbb"/>
<rect x="311.29" y="231.34" width="6.43" height="6.02" fill="#ffcccc"/>
<rect x="317.32" y="231.34" width="6.43" height="6.02" fill="#ffd4d4"/>
<rect x="323.35" y="231.34" width="6.43" height="6.02" fill="#ffd4d4"/>
<rect x="329.38" y="231.34" width="6.43" height="6.02" fill="#ffcccc"/>
<rect x="335.41" y="231.34" width="6.43" height="6.02" fill="#ffbbbb"/>
<rect x="341.44" y="231.34" width="6.43" height="6.02" fill="#ffd4d4"/>
<rect x="347.47" y="231.34" width="6.43" height="6.02" fill="#ff9999"/>
<rect x="353.50" y="231.34" width="6.43" height="6.02" fill="#ffeeee"/>
<rect x="359.53" y="231.34" width="6.43" height="6.02" fill="#ffd4d4"/>
<rect x="365.56" y="231.34" width="6.43" height="6.02" fill="#ffdddd"/>
<rect x="371.59" y="231.34" width="6.43" height="6.02" fill="#ffd4d4"/>
<rect x="377.62" y="231.34" width="6.43" height="6.02" fill="#e6e6ff"/>
<rect x="383.65" y="231.34" width="6.43" height="6.02" fill="#ccccff"/>
<rect x="389.68" y="231.34" width="6.43" height="6.02" fill="#d2d2ff"/>
<rect x="395.71" y="231.34" width="6.43" height="6.02" fill="#ffd4d4"/>
<rect x="401.74" y="231.34" width="6.43" height="6.02" fill="#bfbfff"/>
<rect x="407.77" y="231.34" width="6.43" height="6.02" fill="#8686ff"/>
<rect x="413.80" y="231.34" width="6.43" height="6.02" fill="#ccccff"/>
<rect x="419.83" y="231.34" width="6.43" height="6.02" fill="#9999ff"/>
<rect x="425.86" y="231.34" width="6.43" height="6.02" fill="#b2b2ff"/>
<rect x="431.89" y="231.34" width="6.43" height="6.02" fill="#6060ff"/>
<rect x="437.92" y="231.34" width="6.03" height="6.02" fill="#6060ff"/>
<text transform="translate(447.00,32.03) scale(1.060,1)" font-size="7.3" text-anchor="start" font-weight="normal" fill="#231f20" >Group</text>
<text transform="translate(447.00,40.03) scale(1.060,1)" font-size="7.3" text-anchor="start" font-weight="normal" fill="#231f20" >time point</text>
<text transform="translate(447.00,49.33) scale(1.045,1)" font-size="7.3" fill="#231f20">log<tspan font-size="4.02" dy="2.04">10</tspan><tspan dy="-2.04"> CA-vDNA LNMC</tspan></text>
<text transform="translate(447.00,57.23) scale(1.045,1)" font-size="7.3" fill="#231f20">log<tspan font-size="4.02" dy="2.04">10</tspan><tspan dy="-2.04"> CA-vRNA LNMC</tspan></text>
<text transform="translate(447.00,65.43) scale(1.045,1)" font-size="7.3" fill="#231f20">Log<tspan font-size="4.02" dy="2.04">10</tspan><tspan dy="-2.04"> 2-LTR circles LNMC</tspan></text>
<text transform="translate(298.81,240.80) rotate(-90) scale(0.905,1)" x="0" y="0" font-size="7.2" text-anchor="end" fill="#231f20">RWs17</text>
<text transform="translate(304.84,240.80) rotate(-90) scale(0.905,1)" x="0" y="0" font-size="7.2" text-anchor="end" fill="#231f20">RBl17</text>
<text transform="translate(310.87,240.80) rotate(-90) scale(0.905,1)" x="0" y="0" font-size="7.2" text-anchor="end" fill="#231f20">RZp17</text>
<text transform="translate(316.90,240.80) rotate(-90) scale(0.905,1)" x="0" y="0" font-size="7.2" text-anchor="end" fill="#231f20">RRh17</text>
<text transform="translate(322.93,240.80) rotate(-90) scale(0.905,1)" x="0" y="0" font-size="7.2" text-anchor="end" fill="#231f20">34918</text>
<text transform="translate(328.96,240.80) rotate(-90) scale(0.905,1)" x="0" y="0" font-size="7.2" text-anchor="end" fill="#231f20">RFt17</text>
<text transform="translate(334.99,240.80) rotate(-90) scale(0.905,1)" x="0" y="0" font-size="7.2" text-anchor="end" fill="#231f20">RYk17</text>
<text transform="translate(341.02,240.80) rotate(-90) scale(0.905,1)" x="0" y="0" font-size="7.2" text-anchor="end" fill="#231f20">RZg17</text>
<text transform="translate(347.05,240.80) rotate(-90) scale(0.905,1)" x="0" y="0" font-size="7.2" text-anchor="end" fill="#231f20">RYz16</text>
<text transform="translate(353.08,240.80) rotate(-90) scale(0.905,1)" x="0" y="0" font-size="7.2" text-anchor="end" fill="#231f20">RYm17</text>
<text transform="translate(359.11,240.80) rotate(-90) scale(0.905,1)" x="0" y="0" font-size="7.2" text-anchor="end" fill="#231f20">RBv17</text>
<text transform="translate(365.14,240.80) rotate(-90) scale(0.905,1)" x="0" y="0" font-size="7.2" text-anchor="end" fill="#231f20">REd17</text>
<text transform="translate(371.17,240.80) rotate(-90) scale(0.905,1)" x="0" y="0" font-size="7.2" text-anchor="end" fill="#231f20">RMl17</text>
<text transform="translate(377.20,240.80) rotate(-90) scale(0.905,1)" x="0" y="0" font-size="7.2" text-anchor="end" fill="#231f20">RJb17</text>
<text transform="translate(383.23,240.80) rotate(-90) scale(0.905,1)" x="0" y="0" font-size="7.2" text-anchor="end" fill="#231f20">REq17</text>
<text transform="translate(389.26,240.80) rotate(-90) scale(0.905,1)" x="0" y="0" font-size="7.2" text-anchor="end" fill="#231f20">RVm17</text>
<text transform="translate(395.29,240.80) rotate(-90) scale(0.905,1)" x="0" y="0" font-size="7.2" text-anchor="end" fill="#231f20">RVl17</text>
<text transform="translate(401.32,240.80) rotate(-90) scale(0.905,1)" x="0" y="0" font-size="7.2" text-anchor="end" fill="#231f20">RHm17</text>
<text transform="translate(407.35,240.80) rotate(-90) scale(0.905,1)" x="0" y="0" font-size="7.2" text-anchor="end" fill="#231f20">RVc17</text>
<text transform="translate(413.38,240.80) rotate(-90) scale(0.905,1)" x="0" y="0" font-size="7.2" text-anchor="end" fill="#231f20">RFn17</text>
<text transform="translate(419.41,240.80) rotate(-90) scale(0.905,1)" x="0" y="0" font-size="7.2" text-anchor="end" fill="#231f20">34897</text>
<text transform="translate(425.44,240.80) rotate(-90) scale(0.905,1)" x="0" y="0" font-size="7.2" text-anchor="end" fill="#231f20">RBe17</text>
<text transform="translate(431.47,240.80) rotate(-90) scale(0.905,1)" x="0" y="0" font-size="7.2" text-anchor="end" fill="#231f20">34930</text>
<text transform="translate(437.50,240.80) rotate(-90) scale(0.905,1)" x="0" y="0" font-size="7.2" text-anchor="end" fill="#231f20">34920</text>
<text transform="translate(443.53,240.80) rotate(-90) scale(0.905,1)" x="0" y="0" font-size="7.2" text-anchor="end" fill="#231f20">RTd17</text>
<text transform="translate(450.50,77.80) scale(1.060,1)" font-size="8.6" text-anchor="start" font-weight="normal" fill="#231f20" >z-score</text>
<defs><linearGradient id="gZ" x1="0" y1="0" x2="0" y2="1"><stop offset="0" stop-color="#ff0000"/><stop offset="0.4286" stop-color="#ffffff"/><stop offset="1" stop-color="#0000ff"/></linearGradient></defs>
<rect x="461.00" y="80.40" width="8.90" height="129.90" fill="url(#gZ)"/>
<text x="471.00" y="83.69" font-size="5.8" text-anchor="start" font-weight="normal" fill="#3a3a3a" >3</text>
<text x="471.00" y="102.19" font-size="5.8" text-anchor="start" font-weight="normal" fill="#3a3a3a" >2</text>
<text x="471.00" y="120.69" font-size="5.8" text-anchor="start" font-weight="normal" fill="#3a3a3a" >1</text>
<text x="471.00" y="139.19" font-size="5.8" text-anchor="start" font-weight="normal" fill="#3a3a3a" >0</text>
<text x="471.00" y="157.69" font-size="5.8" text-anchor="start" font-weight="normal" fill="#3a3a3a" >−1</text>
<text x="471.00" y="176.19" font-size="5.8" text-anchor="start" font-weight="normal" fill="#3a3a3a" >−2</text>
<text x="471.00" y="194.69" font-size="5.8" text-anchor="start" font-weight="normal" fill="#3a3a3a" >−3</text>
<text x="471.00" y="213.19" font-size="5.8" text-anchor="start" font-weight="normal" fill="#3a3a3a" >−4</text>
<text transform="translate(480.00,84.84) scale(1.060,1)" font-size="9.0" text-anchor="start" font-weight="normal" fill="#231f20" >Group</text>
<rect x="480.50" y="87.00" width="9.00" height="8.40" fill="#f50000"/>
<text transform="translate(492.00,93.72) scale(1.060,1)" font-size="7.0" text-anchor="start" font-weight="normal" fill="#231f20" >aIL-10</text>
<rect x="480.50" y="95.40" width="9.00" height="8.40" fill="#0000f5"/>
<text transform="translate(492.00,102.12) scale(1.060,1)" font-size="7.0" text-anchor="start" font-weight="normal" fill="#231f20" >aIL-10_aPD1</text>
<rect x="480.50" y="103.80" width="9.00" height="8.40" fill="#2a0000"/>
<text transform="translate(492.00,110.52) scale(1.060,1)" font-size="7.0" text-anchor="start" font-weight="normal" fill="#231f20" >Control</text>
<text transform="translate(480.00,124.24) scale(1.060,1)" font-size="9.0" text-anchor="start" font-weight="normal" fill="#231f20" >Time point</text>
<rect x="480.50" y="125.80" width="9.00" height="9.20" fill="#00d88c"/>
<text transform="translate(492.00,132.92) scale(1.060,1)" font-size="7.0" text-anchor="start" font-weight="normal" fill="#231f20" >pre-ATI LNMC</text>
<text transform="translate(480.00,166.64) scale(1.030,1)" font-size="9.0" fill="#231f20">log<tspan font-size="4.95" dy="2.52">10</tspan><tspan dy="-2.52"> CA-vDNA LNMC</tspan></text>
<rect x="480.50" y="168.90" width="9.00" height="9.05" fill="#3f9e5a"/>
<rect x="480.50" y="177.90" width="9.00" height="9.05" fill="#7cc47a"/>
<rect x="480.50" y="186.90" width="9.00" height="9.05" fill="#b9e0b0"/>
<rect x="480.50" y="195.90" width="9.00" height="9.05" fill="#eef8ea"/>
<text x="491.50" y="176.52" font-size="7.0" text-anchor="start" font-weight="normal" fill="#231f20" >4.5</text>
<text x="491.50" y="203.02" font-size="7.0" text-anchor="start" font-weight="normal" fill="#231f20" >2</text>
<text transform="translate(480.00,214.64) scale(1.030,1)" font-size="9.0" fill="#231f20">log<tspan font-size="4.95" dy="2.52">10</tspan><tspan dy="-2.52"> CA-vRNA LNMC</tspan></text>
<rect x="480.50" y="216.60" width="9.00" height="8.95" fill="#4ba2cc"/>
<rect x="480.50" y="225.50" width="9.00" height="8.95" fill="#7cc8c8"/>
<rect x="480.50" y="234.40" width="9.00" height="8.95" fill="#b9e2c4"/>
<rect x="480.50" y="243.30" width="9.00" height="8.95" fill="#eef8ea"/>
<text x="491.50" y="224.02" font-size="7.0" text-anchor="start" font-weight="normal" fill="#231f20" >7</text>
<text x="491.50" y="250.52" font-size="7.0" text-anchor="start" font-weight="normal" fill="#231f20" >2</text>
<text transform="translate(480.00,258.74) scale(1.030,1)" font-size="9.0" fill="#231f20">log<tspan font-size="4.95" dy="2.52">10</tspan><tspan dy="-2.52"> 2-LTR circles LNMC</tspan></text>
<rect x="480.50" y="262.90" width="9.00" height="8.65" fill="#7d55a5"/>
<rect x="480.50" y="271.50" width="9.00" height="8.65" fill="#8c95ca"/>
<rect x="480.50" y="280.10" width="9.00" height="8.65" fill="#bad0e6"/>
<rect x="480.50" y="288.70" width="9.00" height="8.65" fill="#e9f5f9"/>
<text x="491.00" y="269.72" font-size="7.0" text-anchor="start" font-weight="normal" fill="#231f20" >3.5</text>
<text x="491.00" y="295.32" font-size="7.0" text-anchor="start" font-weight="normal" fill="#231f20" >1.5</text>
<text x="684.00" y="48.60" font-size="10.0" text-anchor="end" font-weight="normal" fill="#231f20" >NES = −1.44, <tspan font-style="italic">P</tspan> = 0.021</text>
<text transform="translate(634.50,60.10) scale(1.060,1)" font-size="10.0" text-anchor="middle" font-weight="normal" fill="#231f20" >IFN signaling</text>
<line x1="636.80" y1="81.30" x2="620.20" y2="127.60" stroke="#222" stroke-width="0.55" />
<line x1="637.60" y1="81.30" x2="618.80" y2="155.00" stroke="#222" stroke-width="0.55" />
<line x1="638.40" y1="81.30" x2="640.00" y2="162.80" stroke="#222" stroke-width="0.55" />
<line x1="638.90" y1="81.30" x2="642.30" y2="139.50" stroke="#222" stroke-width="0.55" />
<line x1="620.20" y1="127.60" x2="642.30" y2="139.50" stroke="#d2a6dc" stroke-width="0.55" />
<line x1="620.20" y1="127.60" x2="661.00" y2="156.30" stroke="#d2a6dc" stroke-width="0.55" />
<line x1="620.20" y1="127.60" x2="618.80" y2="155.00" stroke="#d2a6dc" stroke-width="0.55" />
<line x1="620.20" y1="127.60" x2="640.00" y2="162.80" stroke="#d2a6dc" stroke-width="0.55" />
<line x1="642.30" y1="139.50" x2="618.80" y2="155.00" stroke="#d2a6dc" stroke-width="0.55" />
<line x1="642.30" y1="139.50" x2="661.00" y2="156.30" stroke="#d2a6dc" stroke-width="0.55" />
<line x1="642.30" y1="139.50" x2="640.00" y2="162.80" stroke="#d2a6dc" stroke-width="0.55" />
<line x1="618.80" y1="155.00" x2="661.00" y2="156.30" stroke="#d2a6dc" stroke-width="0.55" />
<line x1="618.80" y1="155.00" x2="640.00" y2="162.80" stroke="#d2a6dc" stroke-width="0.55" />
<line x1="640.00" y1="162.80" x2="661.00" y2="156.30" stroke="#d2a6dc" stroke-width="0.55" />
<line x1="618.80" y1="155.00" x2="642.70" y2="189.80" stroke="#d2a6dc" stroke-width="0.55" />
<line x1="661.00" y1="156.30" x2="642.70" y2="189.80" stroke="#d2a6dc" stroke-width="0.55" />
<line x1="640.00" y1="162.80" x2="642.70" y2="189.80" stroke="#d2a6dc" stroke-width="0.55" />
<line x1="642.30" y1="139.50" x2="642.70" y2="189.80" stroke="#d2a6dc" stroke-width="0.55" />
<line x1="642.70" y1="189.80" x2="634.80" y2="223.40" stroke="#d2a6dc" stroke-width="0.55" />
<line x1="634.80" y1="223.40" x2="619.30" y2="260.40" stroke="#d2a6dc" stroke-width="0.55" />
<line x1="642.30" y1="139.50" x2="618.80" y2="155.00" stroke="#8fd4dc" stroke-width="1.6" />
<path d="M620.2,127.6 Q626,150 640,162.8" fill="none" stroke="#d2cc98" stroke-width="1.7"/>
<path d="M642.7,189.8 Q630,205 634.8,223.4" fill="none" stroke="#cdc794" stroke-width="1.7"/>
<line x1="642.70" y1="189.80" x2="668.00" y2="213.90" stroke="#cdc794" stroke-width="1.6" />
<line x1="634.80" y1="223.40" x2="668.00" y2="213.90" stroke="#cdc794" stroke-width="1.6" />
<line x1="619.30" y1="260.40" x2="590.50" y2="282.80" stroke="#d8d2a4" stroke-width="0.7" />
<line x1="590.50" y1="282.80" x2="621.00" y2="296.90" stroke="#d8d2a4" stroke-width="0.7" />
<line x1="619.30" y1="260.40" x2="621.00" y2="296.90" stroke="#d8d2a4" stroke-width="0.7" />
<polygon points="638.0,66.5 646.8,75.3 638.0,84.1 629.2,75.3" fill="#8d8d8d" stroke="#3a3a3a" stroke-width="0.5"/>
<circle cx="620.20" cy="127.60" r="3.60" fill="#0000f0" stroke="#000050" stroke-width="0.4"/>
<circle cx="642.30" cy="139.50" r="3.60" fill="#0000f0" stroke="#000050" stroke-width="0.4"/>
<circle cx="618.80" cy="155.00" r="3.60" fill="#0000f0" stroke="#000050" stroke-width="0.4"/>
<circle cx="640.00" cy="162.80" r="3.60" fill="#0000f0" stroke="#000050" stroke-width="0.4"/>
<circle cx="661.00" cy="156.30" r="3.60" fill="#0000f0" stroke="#000050" stroke-width="0.4"/>
<circle cx="642.70" cy="189.80" r="3.60" fill="#0000f0" stroke="#000050" stroke-width="0.4"/>
<circle cx="668.00" cy="213.90" r="3.60" fill="#0000f0" stroke="#000050" stroke-width="0.4"/>
<circle cx="634.80" cy="223.40" r="3.60" fill="#0000f0" stroke="#000050" stroke-width="0.4"/>
<circle cx="619.30" cy="260.40" r="3.60" fill="#0000f0" stroke="#000050" stroke-width="0.4"/>
<circle cx="590.50" cy="282.80" r="3.60" fill="#0000f0" stroke="#000050" stroke-width="0.4"/>
<circle cx="621.00" cy="296.90" r="3.60" fill="#0000f0" stroke="#000050" stroke-width="0.4"/>
<text x="614.70" y="126.59" font-size="7.2" text-anchor="end" font-weight="normal" fill="#231f20" >IRF7</text>
<text x="646.70" y="134.59" font-size="7.2" text-anchor="start" font-weight="normal" fill="#231f20" >HERC5</text>
<text x="614.40" y="155.09" font-size="7.2" text-anchor="end" font-weight="normal" fill="#231f20" >ISG15</text>
<text x="661.00" y="152.59" font-size="7.2" text-anchor="start" font-weight="normal" fill="#231f20" >RSAD</text>
<text x="628.50" y="172.19" font-size="7.2" text-anchor="middle" font-weight="normal" fill="#231f20" >IRF1</text>
<text x="635.40" y="193.09" font-size="7.2" text-anchor="end" font-weight="normal" fill="#231f20" >APOBEC3A</text>
<text x="646.70" y="208.29" font-size="7.2" text-anchor="start" font-weight="normal" fill="#231f20" >APOBEC3H</text>
<text x="627.00" y="226.19" font-size="7.2" text-anchor="end" font-weight="normal" fill="#231f20" >APOBEC3B</text>
<text x="624.80" y="262.79" font-size="7.2" text-anchor="start" font-weight="normal" fill="#231f20" >TRIM9</text>
<text x="580.20" y="278.09" font-size="7.2" text-anchor="middle" font-weight="normal" fill="#231f20" >TRIM3</text>
<text x="628.40" y="293.59" font-size="7.2" text-anchor="start" font-weight="normal" fill="#231f20" >TRIM6</text>
<text x="-0.40" y="331.60" font-size="16" font-weight="bold" fill="#000" stroke="#000" stroke-width="0.35">c</text>
<rect x="4.80" y="338.60" width="200.24" height="8.40" fill="#d0d0d0"/>
<rect x="5.60" y="339.00" width="6.13" height="7.60" fill="#7b4aa6" stroke="#a8a8a8" stroke-width="0.5"/>
<rect x="12.73" y="339.00" width="6.13" height="7.60" fill="#c2aad6" stroke="#a8a8a8" stroke-width="0.5"/>
<rect x="19.86" y="339.00" width="6.13" height="7.60" fill="#a98bc8" stroke="#a8a8a8" stroke-width="0.5"/>
<rect x="26.99" y="339.00" width="6.13" height="7.60" fill="#8c63b5" stroke="#a8a8a8" stroke-width="0.5"/>
<rect x="34.12" y="339.00" width="6.13" height="7.60" fill="#7b4aa6" stroke="#a8a8a8" stroke-width="0.5"/>
<rect x="41.25" y="339.00" width="6.13" height="7.60" fill="#8a60b3" stroke="#a8a8a8" stroke-width="0.5"/>
<rect x="48.38" y="339.00" width="6.13" height="7.60" fill="#e6dff0" stroke="#a8a8a8" stroke-width="0.5"/>
<rect x="55.51" y="339.00" width="6.13" height="7.60" fill="#e3dbef" stroke="#a8a8a8" stroke-width="0.5"/>
<rect x="62.64" y="339.00" width="6.13" height="7.60" fill="#4f1d8c" stroke="#a8a8a8" stroke-width="0.5"/>
<rect x="69.77" y="339.00" width="6.13" height="7.60" fill="#6a3aa0" stroke="#a8a8a8" stroke-width="0.5"/>
<rect x="76.90" y="339.00" width="6.13" height="7.60" fill="#4f1d8c" stroke="#a8a8a8" stroke-width="0.5"/>
<rect x="84.03" y="339.00" width="6.13" height="7.60" fill="#8a60b3" stroke="#a8a8a8" stroke-width="0.5"/>
<rect x="91.16" y="339.00" width="6.13" height="7.60" fill="#ffffff" stroke="#a8a8a8" stroke-width="0.5"/>
<rect x="98.29" y="339.00" width="6.13" height="7.60" fill="#c2aad6" stroke="#a8a8a8" stroke-width="0.5"/>
<rect x="105.42" y="339.00" width="6.13" height="7.60" fill="#ddd0ea" stroke="#a8a8a8" stroke-width="0.5"/>
<rect x="112.55" y="339.00" width="6.13" height="7.60" fill="#a98bc8" stroke="#a8a8a8" stroke-width="0.5"/>
<rect x="119.68" y="339.00" width="6.13" height="7.60" fill="#d8c8e8" stroke="#a8a8a8" stroke-width="0.5"/>
<rect x="126.81" y="339.00" width="6.13" height="7.60" fill="#ddd0ea" stroke="#a8a8a8" stroke-width="0.5"/>
<rect x="133.94" y="339.00" width="6.13" height="7.60" fill="#a07fc2" stroke="#a8a8a8" stroke-width="0.5"/>
<rect x="141.07" y="339.00" width="6.13" height="7.60" fill="#efe8f5" stroke="#a8a8a8" stroke-width="0.5"/>
<rect x="148.20" y="339.00" width="6.13" height="7.60" fill="#6a3aa0" stroke="#a8a8a8" stroke-width="0.5"/>
<rect x="155.33" y="339.00" width="6.13" height="7.60" fill="#ffffff" stroke="#a8a8a8" stroke-width="0.5"/>
<rect x="162.46" y="339.00" width="6.13" height="7.60" fill="#efe8f5" stroke="#a8a8a8" stroke-width="0.5"/>
<rect x="169.59" y="339.00" width="6.13" height="7.60" fill="#e0d4ec" stroke="#a8a8a8" stroke-width="0.5"/>
<rect x="176.72" y="339.00" width="6.13" height="7.60" fill="#ffffff" stroke="#a8a8a8" stroke-width="0.5"/>
<rect x="183.85" y="339.00" width="6.13" height="7.60" fill="#ffffff" stroke="#a8a8a8" stroke-width="0.5"/>
<rect x="190.98" y="339.00" width="6.13" height="7.60" fill="#a07fc2" stroke="#a8a8a8" stroke-width="0.5"/>
<rect x="198.11" y="339.00" width="6.13" height="7.60" fill="#efe8f5" stroke="#a8a8a8" stroke-width="0.5"/>
<rect x="4.80" y="347.40" width="200.24" height="8.40" fill="#d0d0d0"/>
<rect x="5.60" y="347.80" width="6.13" height="7.60" fill="#4a9a6a" stroke="#a8a8a8" stroke-width="0.5"/>
<rect x="12.73" y="347.80" width="6.13" height="7.60" fill="#a8d4b8" stroke="#a8a8a8" stroke-width="0.5"/>
<rect x="19.86" y="347.80" width="6.13" height="7.60" fill="#6aaa84" stroke="#a8a8a8" stroke-width="0.5"/>
<rect x="26.99" y="347.80" width="6.13" height="7.60" fill="#5fa27a" stroke="#a8a8a8" stroke-width="0.5"/>
<rect x="34.12" y="347.80" width="6.13" height="7.60" fill="#8fc4a2" stroke="#a8a8a8" stroke-width="0.5"/>
<rect x="41.25" y="347.80" width="6.13" height="7.60" fill="#ffffff" stroke="#a8a8a8" stroke-width="0.5"/>
<rect x="48.38" y="347.80" width="6.13" height="7.60" fill="#cde7d7" stroke="#a8a8a8" stroke-width="0.5"/>
<rect x="55.51" y="347.80" width="6.13" height="7.60" fill="#c2e0cd" stroke="#a8a8a8" stroke-width="0.5"/>
<rect x="62.64" y="347.80" width="6.13" height="7.60" fill="#2e8a55" stroke="#a8a8a8" stroke-width="0.5"/>
<rect x="69.77" y="347.80" width="6.13" height="7.60" fill="#77b38f" stroke="#a8a8a8" stroke-width="0.5"/>
<rect x="76.90" y="347.80" width="6.13" height="7.60" fill="#3e9463" stroke="#a8a8a8" stroke-width="0.5"/>
<rect x="84.03" y="347.80" width="6.13" height="7.60" fill="#338d5a" stroke="#a8a8a8" stroke-width="0.5"/>
<rect x="91.16" y="347.80" width="6.13" height="7.60" fill="#ffffff" stroke="#a8a8a8" stroke-width="0.5"/>
<rect x="98.29" y="347.80" width="6.13" height="7.60" fill="#b1d9c0" stroke="#a8a8a8" stroke-width="0.5"/>
<rect x="105.42" y="347.80" width="6.13" height="7.60" fill="#a8d4b8" stroke="#a8a8a8" stroke-width="0.5"/>
<rect x="112.55" y="347.80" width="6.13" height="7.60" fill="#5fa27a" stroke="#a8a8a8" stroke-width="0.5"/>
<rect x="119.68" y="347.80" width="6.13" height="7.60" fill="#d3ebdc" stroke="#a8a8a8" stroke-width="0.5"/>
<rect x="126.81" y="347.80" width="6.13" height="7.60" fill="#ffffff" stroke="#a8a8a8" stroke-width="0.5"/>
<rect x="133.94" y="347.80" width="6.13" height="7.60" fill="#5fa27a" stroke="#a8a8a8" stroke-width="0.5"/>
<rect x="141.07" y="347.80" width="6.13" height="7.60" fill="#8fc4a2" stroke="#a8a8a8" stroke-width="0.5"/>
<rect x="148.20" y="347.80" width="6.13" height="7.60" fill="#4a9a6a" stroke="#a8a8a8" stroke-width="0.5"/>
<rect x="155.33" y="347.80" width="6.13" height="7.60" fill="#a8d4b8" stroke="#a8a8a8" stroke-width="0.5"/>
<rect x="162.46" y="347.80" width="6.13" height="7.60" fill="#ffffff" stroke="#a8a8a8" stroke-width="0.5"/>
<rect x="169.59" y="347.80" width="6.13" height="7.60" fill="#b9dcc6" stroke="#a8a8a8" stroke-width="0.5"/>
<rect x="176.72" y="347.80" width="6.13" height="7.60" fill="#eef6f1" stroke="#a8a8a8" stroke-width="0.5"/>
<rect x="183.85" y="347.80" width="6.13" height="7.60" fill="#ffffff" stroke="#a8a8a8" stroke-width="0.5"/>
<rect x="190.98" y="347.80" width="6.13" height="7.60" fill="#e3f1e8" stroke="#a8a8a8" stroke-width="0.5"/>
<rect x="198.11" y="347.80" width="6.13" height="7.60" fill="#b9dcc6" stroke="#a8a8a8" stroke-width="0.5"/>
<rect x="4.80" y="356.20" width="200.24" height="8.40" fill="#d0d0d0"/>
<rect x="5.60" y="356.60" width="6.13" height="7.60" fill="#2ba3d6" stroke="#a8a8a8" stroke-width="0.5"/>
<rect x="12.73" y="356.60" width="6.13" height="7.60" fill="#75c9e8" stroke="#a8a8a8" stroke-width="0.5"/>
<rect x="19.86" y="356.60" width="6.13" height="7.60" fill="#2ba3d6" stroke="#a8a8a8" stroke-width="0.5"/>
<rect x="26.99" y="356.60" width="6.13" height="7.60" fill="#37a8d8" stroke="#a8a8a8" stroke-width="0.5"/>
<rect x="34.12" y="356.60" width="6.13" height="7.60" fill="#1192cc" stroke="#a8a8a8" stroke-width="0.5"/>
<rect x="41.25" y="356.60" width="6.13" height="7.60" fill="#1e9ad2" stroke="#a8a8a8" stroke-width="0.5"/>
<rect x="48.38" y="356.60" width="6.13" height="7.60" fill="#cdebf7" stroke="#a8a8a8" stroke-width="0.5"/>
<rect x="55.51" y="356.60" width="6.13" height="7.60" fill="#88d0ec" stroke="#a8a8a8" stroke-width="0.5"/>
<rect x="62.64" y="356.60" width="6.13" height="7.60" fill="#1998d0" stroke="#a8a8a8" stroke-width="0.5"/>
<rect x="69.77" y="356.60" width="6.13" height="7.60" fill="#1192cc" stroke="#a8a8a8" stroke-width="0.5"/>
<rect x="76.90" y="356.60" width="6.13" height="7.60" fill="#1f9bd2" stroke="#a8a8a8" stroke-width="0.5"/>
<rect x="84.03" y="356.60" width="6.13" height="7.60" fill="#2da4d6" stroke="#a8a8a8" stroke-width="0.5"/>
<rect x="91.16" y="356.60" width="6.13" height="7.60" fill="#ffffff" stroke="#a8a8a8" stroke-width="0.5"/>
<rect x="98.29" y="356.60" width="6.13" height="7.60" fill="#5ebfe4" stroke="#a8a8a8" stroke-width="0.5"/>
<rect x="105.42" y="356.60" width="6.13" height="7.60" fill="#88d0ec" stroke="#a8a8a8" stroke-width="0.5"/>
<rect x="112.55" y="356.60" width="6.13" height="7.60" fill="#2ba3d6" stroke="#a8a8a8" stroke-width="0.5"/>
<rect x="119.68" y="356.60" width="6.13" height="7.60" fill="#cdebf7" stroke="#a8a8a8" stroke-width="0.5"/>
<rect x="126.81" y="356.60" width="6.13" height="7.60" fill="#4cb5e0" stroke="#a8a8a8" stroke-width="0.5"/>
<rect x="133.94" y="356.60" width="6.13" height="7.60" fill="#3aa9da" stroke="#a8a8a8" stroke-width="0.5"/>
<rect x="141.07" y="356.60" width="6.13" height="7.60" fill="#d4eef8" stroke="#a8a8a8" stroke-width="0.5"/>
<rect x="148.20" y="356.60" width="6.13" height="7.60" fill="#2ba3d6" stroke="#a8a8a8" stroke-width="0.5"/>
<rect x="155.33" y="356.60" width="6.13" height="7.60" fill="#ffffff" stroke="#a8a8a8" stroke-width="0.5"/>
<rect x="162.46" y="356.60" width="6.13" height="7.60" fill="#bfe4f4" stroke="#a8a8a8" stroke-width="0.5"/>
<rect x="169.59" y="356.60" width="6.13" height="7.60" fill="#dff2fa" stroke="#a8a8a8" stroke-width="0.5"/>
<rect x="176.72" y="356.60" width="6.13" height="7.60" fill="#a6dcf1" stroke="#a8a8a8" stroke-width="0.5"/>
<rect x="183.85" y="356.60" width="6.13" height="7.60" fill="#cdebf7" stroke="#a8a8a8" stroke-width="0.5"/>
<rect x="190.98" y="356.60" width="6.13" height="7.60" fill="#b3e0f3" stroke="#a8a8a8" stroke-width="0.5"/>
<rect x="198.11" y="356.60" width="6.13" height="7.60" fill="#f0f9fd" stroke="#a8a8a8" stroke-width="0.5"/>
<rect x="4.80" y="365.10" width="200.24" height="8.40" fill="#d0d0d0"/>
<rect x="5.60" y="365.50" width="6.13" height="7.60" fill="#000000" stroke="#a8a8a8" stroke-width="0.5"/>
<rect x="12.73" y="365.50" width="6.13" height="7.60" fill="#000000" stroke="#a8a8a8" stroke-width="0.5"/>
<rect x="19.86" y="365.50" width="6.13" height="7.60" fill="#000000" stroke="#a8a8a8" stroke-width="0.5"/>
<rect x="26.99" y="365.50" width="6.13" height="7.60" fill="#000000" stroke="#a8a8a8" stroke-width="0.5"/>
<rect x="34.12" y="365.50" width="6.13" height="7.60" fill="#000000" stroke="#a8a8a8" stroke-width="0.5"/>
<rect x="41.25" y="365.50" width="6.13" height="7.60" fill="#000000" stroke="#a8a8a8" stroke-width="0.5"/>
<rect x="48.38" y="365.50" width="6.13" height="7.60" fill="#000000" stroke="#a8a8a8" stroke-width="0.5"/>
<rect x="55.51" y="365.50" width="6.13" height="7.60" fill="#000000" stroke="#a8a8a8" stroke-width="0.5"/>
<rect x="62.64" y="365.50" width="6.13" height="7.60" fill="#ff0000" stroke="#a8a8a8" stroke-width="0.5"/>
<rect x="69.77" y="365.50" width="6.13" height="7.60" fill="#ff0000" stroke="#a8a8a8" stroke-width="0.5"/>
<rect x="76.90" y="365.50" width="6.13" height="7.60" fill="#ff0000" stroke="#a8a8a8" stroke-width="0.5"/>
<rect x="84.03" y="365.50" width="6.13" height="7.60" fill="#ff0000" stroke="#a8a8a8" stroke-width="0.5"/>
<rect x="91.16" y="365.50" width="6.13" height="7.60" fill="#ff0000" stroke="#a8a8a8" stroke-width="0.5"/>
<rect x="98.29" y="365.50" width="6.13" height="7.60" fill="#ff0000" stroke="#a8a8a8" stroke-width="0.5"/>
<rect x="105.42" y="365.50" width="6.13" height="7.60" fill="#ff0000" stroke="#a8a8a8" stroke-width="0.5"/>
<rect x="112.55" y="365.50" width="6.13" height="7.60" fill="#ff0000" stroke="#a8a8a8" stroke-width="0.5"/>
<rect x="119.68" y="365.50" width="6.13" height="7.60" fill="#ff0000" stroke="#a8a8a8" stroke-width="0.5"/>
<rect x="126.81" y="365.50" width="6.13" height="7.60" fill="#ff0000" stroke="#a8a8a8" stroke-width="0.5"/>
<rect x="133.94" y="365.50" width="6.13" height="7.60" fill="#0000ff" stroke="#a8a8a8" stroke-width="0.5"/>
<rect x="141.07" y="365.50" width="6.13" height="7.60" fill="#0000ff" stroke="#a8a8a8" stroke-width="0.5"/>
<rect x="148.20" y="365.50" width="6.13" height="7.60" fill="#0000ff" stroke="#a8a8a8" stroke-width="0.5"/>
<rect x="155.33" y="365.50" width="6.13" height="7.60" fill="#0000ff" stroke="#a8a8a8" stroke-width="0.5"/>
<rect x="162.46" y="365.50" width="6.13" height="7.60" fill="#0000ff" stroke="#a8a8a8" stroke-width="0.5"/>
<rect x="169.59" y="365.50" width="6.13" height="7.60" fill="#0000ff" stroke="#a8a8a8" stroke-width="0.5"/>
<rect x="176.72" y="365.50" width="6.13" height="7.60" fill="#0000ff" stroke="#a8a8a8" stroke-width="0.5"/>
<rect x="183.85" y="365.50" width="6.13" height="7.60" fill="#0000ff" stroke="#a8a8a8" stroke-width="0.5"/>
<rect x="190.98" y="365.50" width="6.13" height="7.60" fill="#0000ff" stroke="#a8a8a8" stroke-width="0.5"/>
<rect x="198.11" y="365.50" width="6.13" height="7.60" fill="#0000ff" stroke="#a8a8a8" stroke-width="0.5"/>
<rect x="4.80" y="373.80" width="200.24" height="8.40" fill="#d0d0d0"/>
<rect x="5.60" y="374.20" width="6.13" height="7.60" fill="#00d68c" stroke="#a8a8a8" stroke-width="0.5"/>
<rect x="12.73" y="374.20" width="6.13" height="7.60" fill="#00d68c" stroke="#a8a8a8" stroke-width="0.5"/>
<rect x="19.86" y="374.20" width="6.13" height="7.60" fill="#00d68c" stroke="#a8a8a8" stroke-width="0.5"/>
<rect x="26.99" y="374.20" width="6.13" height="7.60" fill="#00d68c" stroke="#a8a8a8" stroke-width="0.5"/>
<rect x="34.12" y="374.20" width="6.13" height="7.60" fill="#00d68c" stroke="#a8a8a8" stroke-width="0.5"/>
<rect x="41.25" y="374.20" width="6.13" height="7.60" fill="#00d68c" stroke="#a8a8a8" stroke-width="0.5"/>
<rect x="48.38" y="374.20" width="6.13" height="7.60" fill="#00d68c" stroke="#a8a8a8" stroke-width="0.5"/>
<rect x="55.51" y="374.20" width="6.13" height="7.60" fill="#00d68c" stroke="#a8a8a8" stroke-width="0.5"/>
<rect x="62.64" y="374.20" width="6.13" height="7.60" fill="#00d68c" stroke="#a8a8a8" stroke-width="0.5"/>
<rect x="69.77" y="374.20" width="6.13" height="7.60" fill="#00d68c" stroke="#a8a8a8" stroke-width="0.5"/>
<rect x="76.90" y="374.20" width="6.13" height="7.60" fill="#00d68c" stroke="#a8a8a8" stroke-width="0.5"/>
<rect x="84.03" y="374.20" width="6.13" height="7.60" fill="#00d68c" stroke="#a8a8a8" stroke-width="0.5"/>
<rect x="91.16" y="374.20" width="6.13" height="7.60" fill="#00d68c" stroke="#a8a8a8" stroke-width="0.5"/>
<rect x="98.29" y="374.20" width="6.13" height="7.60" fill="#00d68c" stroke="#a8a8a8" stroke-width="0.5"/>
<rect x="105.42" y="374.20" width="6.13" height="7.60" fill="#00d68c" stroke="#a8a8a8" stroke-width="0.5"/>
<rect x="112.55" y="374.20" width="6.13" height="7.60" fill="#00d68c" stroke="#a8a8a8" stroke-width="0.5"/>
<rect x="119.68" y="374.20" width="6.13" height="7.60" fill="#00d68c" stroke="#a8a8a8" stroke-width="0.5"/>
<rect x="126.81" y="374.20" width="6.13" height="7.60" fill="#00d68c" stroke="#a8a8a8" stroke-width="0.5"/>
<rect x="133.94" y="374.20" width="6.13" height="7.60" fill="#00d68c" stroke="#a8a8a8" stroke-width="0.5"/>
<rect x="141.07" y="374.20" width="6.13" height="7.60" fill="#00d68c" stroke="#a8a8a8" stroke-width="0.5"/>
<rect x="148.20" y="374.20" width="6.13" height="7.60" fill="#00d68c" stroke="#a8a8a8" stroke-width="0.5"/>
<rect x="155.33" y="374.20" width="6.13" height="7.60" fill="#00d68c" stroke="#a8a8a8" stroke-width="0.5"/>
<rect x="162.46" y="374.20" width="6.13" height="7.60" fill="#00d68c" stroke="#a8a8a8" stroke-width="0.5"/>
<rect x="169.59" y="374.20" width="6.13" height="7.60" fill="#00d68c" stroke="#a8a8a8" stroke-width="0.5"/>
<rect x="176.72" y="374.20" width="6.13" height="7.60" fill="#00d68c" stroke="#a8a8a8" stroke-width="0.5"/>
<rect x="183.85" y="374.20" width="6.13" height="7.60" fill="#00d68c" stroke="#a8a8a8" stroke-width="0.5"/>
<rect x="190.98" y="374.20" width="6.13" height="7.60" fill="#00d68c" stroke="#a8a8a8" stroke-width="0.5"/>
<rect x="198.11" y="374.20" width="6.13" height="7.60" fill="#00d68c" stroke="#a8a8a8" stroke-width="0.5"/>
<rect x="4.80" y="382.60" width="200.24" height="8.40" fill="#d0d0d0"/>
<rect x="5.60" y="383.00" width="6.13" height="7.60" fill="#ff80f5" stroke="#a8a8a8" stroke-width="0.5"/>
<rect x="12.73" y="383.00" width="6.13" height="7.60" fill="#ff80f5" stroke="#a8a8a8" stroke-width="0.5"/>
<rect x="19.86" y="383.00" width="6.13" height="7.60" fill="#ff80f5" stroke="#a8a8a8" stroke-width="0.5"/>
<rect x="26.99" y="383.00" width="6.13" height="7.60" fill="#ff80f5" stroke="#a8a8a8" stroke-width="0.5"/>
<rect x="34.12" y="383.00" width="6.13" height="7.60" fill="#ff80f5" stroke="#a8a8a8" stroke-width="0.5"/>
<rect x="41.25" y="383.00" width="6.13" height="7.60" fill="#ff80f5" stroke="#a8a8a8" stroke-width="0.5"/>
<rect x="48.38" y="383.00" width="6.13" height="7.60" fill="#ff80f5" stroke="#a8a8a8" stroke-width="0.5"/>
<rect x="55.51" y="383.00" width="6.13" height="7.60" fill="#ff80f5" stroke="#a8a8a8" stroke-width="0.5"/>
<rect x="62.64" y="383.00" width="6.13" height="7.60" fill="#ff80f5" stroke="#a8a8a8" stroke-width="0.5"/>
<rect x="69.77" y="383.00" width="6.13" height="7.60" fill="#ff80f5" stroke="#a8a8a8" stroke-width="0.5"/>
<rect x="76.90" y="383.00" width="6.13" height="7.60" fill="#ff80f5" stroke="#a8a8a8" stroke-width="0.5"/>
<rect x="84.03" y="383.00" width="6.13" height="7.60" fill="#ff80f5" stroke="#a8a8a8" stroke-width="0.5"/>
<rect x="91.16" y="383.00" width="6.13" height="7.60" fill="#ff80f5" stroke="#a8a8a8" stroke-width="0.5"/>
<rect x="98.29" y="383.00" width="6.13" height="7.60" fill="#ff80f5" stroke="#a8a8a8" stroke-width="0.5"/>
<rect x="105.42" y="383.00" width="6.13" height="7.60" fill="#ff80f5" stroke="#a8a8a8" stroke-width="0.5"/>
<rect x="112.55" y="383.00" width="6.13" height="7.60" fill="#ff80f5" stroke="#a8a8a8" stroke-width="0.5"/>
<rect x="119.68" y="383.00" width="6.13" height="7.60" fill="#ff80f5" stroke="#a8a8a8" stroke-width="0.5"/>
<rect x="126.81" y="383.00" width="6.13" height="7.60" fill="#ff80f5" stroke="#a8a8a8" stroke-width="0.5"/>
<rect x="133.94" y="383.00" width="6.13" height="7.60" fill="#ff80f5" stroke="#a8a8a8" stroke-width="0.5"/>
<rect x="141.07" y="383.00" width="6.13" height="7.60" fill="#ff80f5" stroke="#a8a8a8" stroke-width="0.5"/>
<rect x="148.20" y="383.00" width="6.13" height="7.60" fill="#ff80f5" stroke="#a8a8a8" stroke-width="0.5"/>
<rect x="155.33" y="383.00" width="6.13" height="7.60" fill="#ff80f5" stroke="#a8a8a8" stroke-width="0.5"/>
<rect x="162.46" y="383.00" width="6.13" height="7.60" fill="#ff80f5" stroke="#a8a8a8" stroke-width="0.5"/>
<rect x="169.59" y="383.00" width="6.13" height="7.60" fill="#ff80f5" stroke="#a8a8a8" stroke-width="0.5"/>
<rect x="176.72" y="383.00" width="6.13" height="7.60" fill="#ff80f5" stroke="#a8a8a8" stroke-width="0.5"/>
<rect x="183.85" y="383.00" width="6.13" height="7.60" fill="#ff80f5" stroke="#a8a8a8" stroke-width="0.5"/>
<rect x="190.98" y="383.00" width="6.13" height="7.60" fill="#ff80f5" stroke="#a8a8a8" stroke-width="0.5"/>
<rect x="198.11" y="383.00" width="6.13" height="7.60" fill="#ff80f5" stroke="#a8a8a8" stroke-width="0.5"/>
<rect x="4.80" y="392.20" width="200.24" height="43.22" fill="#c8c8c8"/>
<rect x="5.60" y="393.10" width="6.13" height="6.07" fill="#a9acd9" stroke="#a0a0a0" stroke-width="0.5"/>
<rect x="12.73" y="393.10" width="6.13" height="6.07" fill="#5a5fb8" stroke="#a0a0a0" stroke-width="0.5"/>
<rect x="19.86" y="393.10" width="6.13" height="6.07" fill="#d4d5ec" stroke="#a0a0a0" stroke-width="0.5"/>
<rect x="26.99" y="393.10" width="6.13" height="6.07" fill="#ff6060" stroke="#a0a0a0" stroke-width="0.5"/>
<rect x="34.12" y="393.10" width="6.13" height="6.07" fill="#c5c7e5" stroke="#a0a0a0" stroke-width="0.5"/>
<rect x="41.25" y="393.10" width="6.13" height="6.07" fill="#a9acd9" stroke="#a0a0a0" stroke-width="0.5"/>
<rect x="48.38" y="393.10" width="6.13" height="6.07" fill="#00009a" stroke="#a0a0a0" stroke-width="0.5"/>
<rect x="55.51" y="393.10" width="6.13" height="6.07" fill="#ffc8c8" stroke="#a0a0a0" stroke-width="0.5"/>
<rect x="62.64" y="393.10" width="6.13" height="6.07" fill="#ffc0c0" stroke="#a0a0a0" stroke-width="0.5"/>
<rect x="69.77" y="393.10" width="6.13" height="6.07" fill="#a5a8d8" stroke="#a0a0a0" stroke-width="0.5"/>
<rect x="76.90" y="393.10" width="6.13" height="6.07" fill="#8e91cf" stroke="#a0a0a0" stroke-width="0.5"/>
<rect x="84.03" y="393.10" width="6.13" height="6.07" fill="#7376c3" stroke="#a0a0a0" stroke-width="0.5"/>
<rect x="91.16" y="393.10" width="6.13" height="6.07" fill="#f5f5fa" stroke="#a0a0a0" stroke-width="0.5"/>
<rect x="98.29" y="393.10" width="6.13" height="6.07" fill="#2a2f9f" stroke="#a0a0a0" stroke-width="0.5"/>
<rect x="105.42" y="393.10" width="6.13" height="6.07" fill="#ffc8c8" stroke="#a0a0a0" stroke-width="0.5"/>
<rect x="112.55" y="393.10" width="6.13" height="6.07" fill="#3036a0" stroke="#a0a0a0" stroke-width="0.5"/>
<rect x="119.68" y="393.10" width="6.13" height="6.07" fill="#4a50b0" stroke="#a0a0a0" stroke-width="0.5"/>
<rect x="126.81" y="393.10" width="6.13" height="6.07" fill="#5a5fb8" stroke="#a0a0a0" stroke-width="0.5"/>
<rect x="133.94" y="393.10" width="6.13" height="6.07" fill="#c5c7e5" stroke="#a0a0a0" stroke-width="0.5"/>
<rect x="141.07" y="393.10" width="6.13" height="6.07" fill="#c5c7e5" stroke="#a0a0a0" stroke-width="0.5"/>
<rect x="148.20" y="393.10" width="6.13" height="6.07" fill="#8e91cf" stroke="#a0a0a0" stroke-width="0.5"/>
<rect x="155.33" y="393.10" width="6.13" height="6.07" fill="#b4b6de" stroke="#a0a0a0" stroke-width="0.5"/>
<rect x="162.46" y="393.10" width="6.13" height="6.07" fill="#e6e6f4" stroke="#a0a0a0" stroke-width="0.5"/>
<rect x="169.59" y="393.10" width="6.13" height="6.07" fill="#dcdcf0" stroke="#a0a0a0" stroke-width="0.5"/>
<rect x="176.72" y="393.10" width="6.13" height="6.07" fill="#ff6060" stroke="#a0a0a0" stroke-width="0.5"/>
<rect x="183.85" y="393.10" width="6.13" height="6.07" fill="#ff0000" stroke="#a0a0a0" stroke-width="0.5"/>
<rect x="190.98" y="393.10" width="6.13" height="6.07" fill="#c00000" stroke="#a0a0a0" stroke-width="0.5"/>
<rect x="198.11" y="393.10" width="6.13" height="6.07" fill="#e00000" stroke="#a0a0a0" stroke-width="0.5"/>
<rect x="5.60" y="400.17" width="6.13" height="6.07" fill="#f8f8fc" stroke="#a0a0a0" stroke-width="0.5"/>
<rect x="12.73" y="400.17" width="6.13" height="6.07" fill="#8e91cf" stroke="#a0a0a0" stroke-width="0.5"/>
<rect x="19.86" y="400.17" width="6.13" height="6.07" fill="#c5c7e5" stroke="#a0a0a0" stroke-width="0.5"/>
<rect x="26.99" y="400.17" width="6.13" height="6.07" fill="#dcdcf0" stroke="#a0a0a0" stroke-width="0.5"/>
<rect x="34.12" y="400.17" width="6.13" height="6.07" fill="#f0f0f8" stroke="#a0a0a0" stroke-width="0.5"/>
<rect x="41.25" y="400.17" width="6.13" height="6.07" fill="#f5f5fa" stroke="#a0a0a0" stroke-width="0.5"/>
<rect x="48.38" y="400.17" width="6.13" height="6.07" fill="#2a2f9f" stroke="#a0a0a0" stroke-width="0.5"/>
<rect x="55.51" y="400.17" width="6.13" height="6.07" fill="#ff0000" stroke="#a0a0a0" stroke-width="0.5"/>
<rect x="62.64" y="400.17" width="6.13" height="6.07" fill="#ffa0a0" stroke="#a0a0a0" stroke-width="0.5"/>
<rect x="69.77" y="400.17" width="6.13" height="6.07" fill="#a5a8d8" stroke="#a0a0a0" stroke-width="0.5"/>
<rect x="76.90" y="400.17" width="6.13" height="6.07" fill="#8e91cf" stroke="#a0a0a0" stroke-width="0.5"/>
<rect x="84.03" y="400.17" width="6.13" height="6.07" fill="#ff8080" stroke="#a0a0a0" stroke-width="0.5"/>
<rect x="91.16" y="400.17" width="6.13" height="6.07" fill="#a5a8d8" stroke="#a0a0a0" stroke-width="0.5"/>
<rect x="98.29" y="400.17" width="6.13" height="6.07" fill="#2a2f9f" stroke="#a0a0a0" stroke-width="0.5"/>
<rect x="105.42" y="400.17" width="6.13" height="6.07" fill="#a5a8d8" stroke="#a0a0a0" stroke-width="0.5"/>
<rect x="112.55" y="400.17" width="6.13" height="6.07" fill="#4a50b0" stroke="#a0a0a0" stroke-width="0.5"/>
<rect x="119.68" y="400.17" width="6.13" height="6.07" fill="#8e91cf" stroke="#a0a0a0" stroke-width="0.5"/>
<rect x="126.81" y="400.17" width="6.13" height="6.07" fill="#c5c7e5" stroke="#a0a0a0" stroke-width="0.5"/>
<rect x="133.94" y="400.17" width="6.13" height="6.07" fill="#c5c7e5" stroke="#a0a0a0" stroke-width="0.5"/>
<rect x="141.07" y="400.17" width="6.13" height="6.07" fill="#c5c7e5" stroke="#a0a0a0" stroke-width="0.5"/>
<rect x="148.20" y="400.17" width="6.13" height="6.07" fill="#ff7070" stroke="#a0a0a0" stroke-width="0.5"/>
<rect x="155.33" y="400.17" width="6.13" height="6.07" fill="#b4b6de" stroke="#a0a0a0" stroke-width="0.5"/>
<rect x="162.46" y="400.17" width="6.13" height="6.07" fill="#c5c7e5" stroke="#a0a0a0" stroke-width="0.5"/>
<rect x="169.59" y="400.17" width="6.13" height="6.07" fill="#b4b6de" stroke="#a0a0a0" stroke-width="0.5"/>
<rect x="176.72" y="400.17" width="6.13" height="6.07" fill="#ff6060" stroke="#a0a0a0" stroke-width="0.5"/>
<rect x="183.85" y="400.17" width="6.13" height="6.07" fill="#ff6060" stroke="#a0a0a0" stroke-width="0.5"/>
<rect x="190.98" y="400.17" width="6.13" height="6.07" fill="#900000" stroke="#a0a0a0" stroke-width="0.5"/>
<rect x="198.11" y="400.17" width="6.13" height="6.07" fill="#2a2f9f" stroke="#a0a0a0" stroke-width="0.5"/>
<rect x="5.60" y="407.24" width="6.13" height="6.07" fill="#dcdcf0" stroke="#a0a0a0" stroke-width="0.5"/>
<rect x="12.73" y="407.24" width="6.13" height="6.07" fill="#5a5fb8" stroke="#a0a0a0" stroke-width="0.5"/>
<rect x="19.86" y="407.24" width="6.13" height="6.07" fill="#a5a8d8" stroke="#a0a0a0" stroke-width="0.5"/>
<rect x="26.99" y="407.24" width="6.13" height="6.07" fill="#fff0f0" stroke="#a0a0a0" stroke-width="0.5"/>
<rect x="34.12" y="407.24" width="6.13" height="6.07" fill="#b4b6de" stroke="#a0a0a0" stroke-width="0.5"/>
<rect x="41.25" y="407.24" width="6.13" height="6.07" fill="#dcdcf0" stroke="#a0a0a0" stroke-width="0.5"/>
<rect x="48.38" y="407.24" width="6.13" height="6.07" fill="#0000dd" stroke="#a0a0a0" stroke-width="0.5"/>
<rect x="55.51" y="407.24" width="6.13" height="6.07" fill="#ffb8b8" stroke="#a0a0a0" stroke-width="0.5"/>
<rect x="62.64" y="407.24" width="6.13" height="6.07" fill="#f5f5fa" stroke="#a0a0a0" stroke-width="0.5"/>
<rect x="69.77" y="407.24" width="6.13" height="6.07" fill="#b4b6de" stroke="#a0a0a0" stroke-width="0.5"/>
<rect x="76.90" y="407.24" width="6.13" height="6.07" fill="#a9acd9" stroke="#a0a0a0" stroke-width="0.5"/>
<rect x="84.03" y="407.24" width="6.13" height="6.07" fill="#4a50b0" stroke="#a0a0a0" stroke-width="0.5"/>
<rect x="91.16" y="407.24" width="6.13" height="6.07" fill="#c5c7e5" stroke="#a0a0a0" stroke-width="0.5"/>
<rect x="98.29" y="407.24" width="6.13" height="6.07" fill="#a9acd9" stroke="#a0a0a0" stroke-width="0.5"/>
<rect x="105.42" y="407.24" width="6.13" height="6.07" fill="#7376c3" stroke="#a0a0a0" stroke-width="0.5"/>
<rect x="112.55" y="407.24" width="6.13" height="6.07" fill="#a5a8d8" stroke="#a0a0a0" stroke-width="0.5"/>
<rect x="119.68" y="407.24" width="6.13" height="6.07" fill="#ffe8e8" stroke="#a0a0a0" stroke-width="0.5"/>
<rect x="126.81" y="407.24" width="6.13" height="6.07" fill="#8e91cf" stroke="#a0a0a0" stroke-width="0.5"/>
<rect x="133.94" y="407.24" width="6.13" height="6.07" fill="#ffc0c0" stroke="#a0a0a0" stroke-width="0.5"/>
<rect x="141.07" y="407.24" width="6.13" height="6.07" fill="#ffb0b0" stroke="#a0a0a0" stroke-width="0.5"/>
<rect x="148.20" y="407.24" width="6.13" height="6.07" fill="#ffa0a0" stroke="#a0a0a0" stroke-width="0.5"/>
<rect x="155.33" y="407.24" width="6.13" height="6.07" fill="#b4b6de" stroke="#a0a0a0" stroke-width="0.5"/>
<rect x="162.46" y="407.24" width="6.13" height="6.07" fill="#b4b6de" stroke="#a0a0a0" stroke-width="0.5"/>
<rect x="169.59" y="407.24" width="6.13" height="6.07" fill="#ff9090" stroke="#a0a0a0" stroke-width="0.5"/>
<rect x="176.72" y="407.24" width="6.13" height="6.07" fill="#ff4040" stroke="#a0a0a0" stroke-width="0.5"/>
<rect x="183.85" y="407.24" width="6.13" height="6.07" fill="#ffe0e0" stroke="#a0a0a0" stroke-width="0.5"/>
<rect x="190.98" y="407.24" width="6.13" height="6.07" fill="#ff3030" stroke="#a0a0a0" stroke-width="0.5"/>
<rect x="198.11" y="407.24" width="6.13" height="6.07" fill="#900000" stroke="#a0a0a0" stroke-width="0.5"/>
<rect x="5.60" y="414.31" width="6.13" height="6.07" fill="#5a5fb8" stroke="#a0a0a0" stroke-width="0.5"/>
<rect x="12.73" y="414.31" width="6.13" height="6.07" fill="#a5a8d8" stroke="#a0a0a0" stroke-width="0.5"/>
<rect x="19.86" y="414.31" width="6.13" height="6.07" fill="#b4b6de" stroke="#a0a0a0" stroke-width="0.5"/>
<rect x="26.99" y="414.31" width="6.13" height="6.07" fill="#ffe0e0" stroke="#a0a0a0" stroke-width="0.5"/>
<rect x="34.12" y="414.31" width="6.13" height="6.07" fill="#fff2f2" stroke="#a0a0a0" stroke-width="0.5"/>
<rect x="41.25" y="414.31" width="6.13" height="6.07" fill="#5a5fb8" stroke="#a0a0a0" stroke-width="0.5"/>
<rect x="48.38" y="414.31" width="6.13" height="6.07" fill="#00009a" stroke="#a0a0a0" stroke-width="0.5"/>
<rect x="55.51" y="414.31" width="6.13" height="6.07" fill="#ff4040" stroke="#a0a0a0" stroke-width="0.5"/>
<rect x="62.64" y="414.31" width="6.13" height="6.07" fill="#ff7070" stroke="#a0a0a0" stroke-width="0.5"/>
<rect x="69.77" y="414.31" width="6.13" height="6.07" fill="#a5a8d8" stroke="#a0a0a0" stroke-width="0.5"/>
<rect x="76.90" y="414.31" width="6.13" height="6.07" fill="#a9acd9" stroke="#a0a0a0" stroke-width="0.5"/>
<rect x="84.03" y="414.31" width="6.13" height="6.07" fill="#ff6060" stroke="#a0a0a0" stroke-width="0.5"/>
<rect x="91.16" y="414.31" width="6.13" height="6.07" fill="#0a0f90" stroke="#a0a0a0" stroke-width="0.5"/>
<rect x="98.29" y="414.31" width="6.13" height="6.07" fill="#ff2020" stroke="#a0a0a0" stroke-width="0.5"/>
<rect x="105.42" y="414.31" width="6.13" height="6.07" fill="#a5a8d8" stroke="#a0a0a0" stroke-width="0.5"/>
<rect x="112.55" y="414.31" width="6.13" height="6.07" fill="#000090" stroke="#a0a0a0" stroke-width="0.5"/>
<rect x="119.68" y="414.31" width="6.13" height="6.07" fill="#fff8f8" stroke="#a0a0a0" stroke-width="0.5"/>
<rect x="126.81" y="414.31" width="6.13" height="6.07" fill="#5a5fb8" stroke="#a0a0a0" stroke-width="0.5"/>
<rect x="133.94" y="414.31" width="6.13" height="6.07" fill="#dcdcf0" stroke="#a0a0a0" stroke-width="0.5"/>
<rect x="141.07" y="414.31" width="6.13" height="6.07" fill="#e6e6f4" stroke="#a0a0a0" stroke-width="0.5"/>
<rect x="148.20" y="414.31" width="6.13" height="6.07" fill="#7376c3" stroke="#a0a0a0" stroke-width="0.5"/>
<rect x="155.33" y="414.31" width="6.13" height="6.07" fill="#4a50b0" stroke="#a0a0a0" stroke-width="0.5"/>
<rect x="162.46" y="414.31" width="6.13" height="6.07" fill="#b4b6de" stroke="#a0a0a0" stroke-width="0.5"/>
<rect x="169.59" y="414.31" width="6.13" height="6.07" fill="#ffa0a0" stroke="#a0a0a0" stroke-width="0.5"/>
<rect x="176.72" y="414.31" width="6.13" height="6.07" fill="#ee0000" stroke="#a0a0a0" stroke-width="0.5"/>
<rect x="183.85" y="414.31" width="6.13" height="6.07" fill="#fff8f8" stroke="#a0a0a0" stroke-width="0.5"/>
<rect x="190.98" y="414.31" width="6.13" height="6.07" fill="#c00000" stroke="#a0a0a0" stroke-width="0.5"/>
<rect x="198.11" y="414.31" width="6.13" height="6.07" fill="#ff8080" stroke="#a0a0a0" stroke-width="0.5"/>
<rect x="5.60" y="421.38" width="6.13" height="6.07" fill="#dcdcf0" stroke="#a0a0a0" stroke-width="0.5"/>
<rect x="12.73" y="421.38" width="6.13" height="6.07" fill="#000090" stroke="#a0a0a0" stroke-width="0.5"/>
<rect x="19.86" y="421.38" width="6.13" height="6.07" fill="#f5f5fa" stroke="#a0a0a0" stroke-width="0.5"/>
<rect x="26.99" y="421.38" width="6.13" height="6.07" fill="#dcdcf0" stroke="#a0a0a0" stroke-width="0.5"/>
<rect x="34.12" y="421.38" width="6.13" height="6.07" fill="#7376c3" stroke="#a0a0a0" stroke-width="0.5"/>
<rect x="41.25" y="421.38" width="6.13" height="6.07" fill="#dcdcf0" stroke="#a0a0a0" stroke-width="0.5"/>
<rect x="48.38" y="421.38" width="6.13" height="6.07" fill="#ff0000" stroke="#a0a0a0" stroke-width="0.5"/>
<rect x="55.51" y="421.38" width="6.13" height="6.07" fill="#f0f0f8" stroke="#a0a0a0" stroke-width="0.5"/>
<rect x="62.64" y="421.38" width="6.13" height="6.07" fill="#2a2f9f" stroke="#a0a0a0" stroke-width="0.5"/>
<rect x="69.77" y="421.38" width="6.13" height="6.07" fill="#c5c7e5" stroke="#a0a0a0" stroke-width="0.5"/>
<rect x="76.90" y="421.38" width="6.13" height="6.07" fill="#0000c0" stroke="#a0a0a0" stroke-width="0.5"/>
<rect x="84.03" y="421.38" width="6.13" height="6.07" fill="#0a0f90" stroke="#a0a0a0" stroke-width="0.5"/>
<rect x="91.16" y="421.38" width="6.13" height="6.07" fill="#ff0000" stroke="#a0a0a0" stroke-width="0.5"/>
<rect x="98.29" y="421.38" width="6.13" height="6.07" fill="#5a5fb8" stroke="#a0a0a0" stroke-width="0.5"/>
<rect x="105.42" y="421.38" width="6.13" height="6.07" fill="#000090" stroke="#a0a0a0" stroke-width="0.5"/>
<rect x="112.55" y="421.38" width="6.13" height="6.07" fill="#ff2020" stroke="#a0a0a0" stroke-width="0.5"/>
<rect x="119.68" y="421.38" width="6.13" height="6.07" fill="#ff7070" stroke="#a0a0a0" stroke-width="0.5"/>
<rect x="126.81" y="421.38" width="6.13" height="6.07" fill="#0000a0" stroke="#a0a0a0" stroke-width="0.5"/>
<rect x="133.94" y="421.38" width="6.13" height="6.07" fill="#ffb8b8" stroke="#a0a0a0" stroke-width="0.5"/>
<rect x="141.07" y="421.38" width="6.13" height="6.07" fill="#4a50b0" stroke="#a0a0a0" stroke-width="0.5"/>
<rect x="148.20" y="421.38" width="6.13" height="6.07" fill="#e6e6f4" stroke="#a0a0a0" stroke-width="0.5"/>
<rect x="155.33" y="421.38" width="6.13" height="6.07" fill="#c5c7e5" stroke="#a0a0a0" stroke-width="0.5"/>
<rect x="162.46" y="421.38" width="6.13" height="6.07" fill="#b4b6de" stroke="#a0a0a0" stroke-width="0.5"/>
<rect x="169.59" y="421.38" width="6.13" height="6.07" fill="#ee0000" stroke="#a0a0a0" stroke-width="0.5"/>
<rect x="176.72" y="421.38" width="6.13" height="6.07" fill="#ee0000" stroke="#a0a0a0" stroke-width="0.5"/>
<rect x="183.85" y="421.38" width="6.13" height="6.07" fill="#ff3030" stroke="#a0a0a0" stroke-width="0.5"/>
<rect x="190.98" y="421.38" width="6.13" height="6.07" fill="#e00000" stroke="#a0a0a0" stroke-width="0.5"/>
<rect x="198.11" y="421.38" width="6.13" height="6.07" fill="#ff8080" stroke="#a0a0a0" stroke-width="0.5"/>
<rect x="5.60" y="428.45" width="6.13" height="6.07" fill="#dcdcf0" stroke="#a0a0a0" stroke-width="0.5"/>
<rect x="12.73" y="428.45" width="6.13" height="6.07" fill="#5a5fb8" stroke="#a0a0a0" stroke-width="0.5"/>
<rect x="19.86" y="428.45" width="6.13" height="6.07" fill="#b4b6de" stroke="#a0a0a0" stroke-width="0.5"/>
<rect x="26.99" y="428.45" width="6.13" height="6.07" fill="#c5c7e5" stroke="#a0a0a0" stroke-width="0.5"/>
<rect x="34.12" y="428.45" width="6.13" height="6.07" fill="#dcdcf0" stroke="#a0a0a0" stroke-width="0.5"/>
<rect x="41.25" y="428.45" width="6.13" height="6.07" fill="#dcdcf0" stroke="#a0a0a0" stroke-width="0.5"/>
<rect x="48.38" y="428.45" width="6.13" height="6.07" fill="#00009a" stroke="#a0a0a0" stroke-width="0.5"/>
<rect x="55.51" y="428.45" width="6.13" height="6.07" fill="#ff0000" stroke="#a0a0a0" stroke-width="0.5"/>
<rect x="62.64" y="428.45" width="6.13" height="6.07" fill="#ff8080" stroke="#a0a0a0" stroke-width="0.5"/>
<rect x="69.77" y="428.45" width="6.13" height="6.07" fill="#8e91cf" stroke="#a0a0a0" stroke-width="0.5"/>
<rect x="76.90" y="428.45" width="6.13" height="6.07" fill="#f5f5fa" stroke="#a0a0a0" stroke-width="0.5"/>
<rect x="84.03" y="428.45" width="6.13" height="6.07" fill="#fff2f2" stroke="#a0a0a0" stroke-width="0.5"/>
<rect x="91.16" y="428.45" width="6.13" height="6.07" fill="#7376c3" stroke="#a0a0a0" stroke-width="0.5"/>
<rect x="98.29" y="428.45" width="6.13" height="6.07" fill="#fff2f2" stroke="#a0a0a0" stroke-width="0.5"/>
<rect x="105.42" y="428.45" width="6.13" height="6.07" fill="#8e91cf" stroke="#a0a0a0" stroke-width="0.5"/>
<rect x="112.55" y="428.45" width="6.13" height="6.07" fill="#4a50b0" stroke="#a0a0a0" stroke-width="0.5"/>
<rect x="119.68" y="428.45" width="6.13" height="6.07" fill="#a9acd9" stroke="#a0a0a0" stroke-width="0.5"/>
<rect x="126.81" y="428.45" width="6.13" height="6.07" fill="#7376c3" stroke="#a0a0a0" stroke-width="0.5"/>
<rect x="133.94" y="428.45" width="6.13" height="6.07" fill="#a5a8d8" stroke="#a0a0a0" stroke-width="0.5"/>
<rect x="141.07" y="428.45" width="6.13" height="6.07" fill="#e6e6f4" stroke="#a0a0a0" stroke-width="0.5"/>
<rect x="148.20" y="428.45" width="6.13" height="6.07" fill="#c5c7e5" stroke="#a0a0a0" stroke-width="0.5"/>
<rect x="155.33" y="428.45" width="6.13" height="6.07" fill="#b4b6de" stroke="#a0a0a0" stroke-width="0.5"/>
<rect x="162.46" y="428.45" width="6.13" height="6.07" fill="#e6e6f4" stroke="#a0a0a0" stroke-width="0.5"/>
<rect x="169.59" y="428.45" width="6.13" height="6.07" fill="#dcdcf0" stroke="#a0a0a0" stroke-width="0.5"/>
<rect x="176.72" y="428.45" width="6.13" height="6.07" fill="#ee0000" stroke="#a0a0a0" stroke-width="0.5"/>
<rect x="183.85" y="428.45" width="6.13" height="6.07" fill="#ff8080" stroke="#a0a0a0" stroke-width="0.5"/>
<rect x="190.98" y="428.45" width="6.13" height="6.07" fill="#900000" stroke="#a0a0a0" stroke-width="0.5"/>
<rect x="198.11" y="428.45" width="6.13" height="6.07" fill="#000090" stroke="#a0a0a0" stroke-width="0.5"/>
<rect x="132.70" y="337.40" width="71.70" height="98.10" fill="none" stroke="#111" stroke-width="1.1"/>
<text transform="translate(11.18,438.60) rotate(-90)" x="0" y="0" font-size="7.0" text-anchor="end" fill="#231f20">RBe17</text>
<text transform="translate(18.32,438.60) rotate(-90)" x="0" y="0" font-size="7.0" text-anchor="end" fill="#231f20">REq17</text>
<text transform="translate(25.45,438.60) rotate(-90)" x="0" y="0" font-size="7.0" text-anchor="end" fill="#231f20">REu17</text>
<text transform="translate(32.58,438.60) rotate(-90)" x="0" y="0" font-size="7.0" text-anchor="end" fill="#231f20">RMl17</text>
<text transform="translate(39.70,438.60) rotate(-90)" x="0" y="0" font-size="7.0" text-anchor="end" fill="#231f20">RTd17</text>
<text transform="translate(46.84,438.60) rotate(-90)" x="0" y="0" font-size="7.0" text-anchor="end" fill="#231f20">RVl17</text>
<text transform="translate(53.97,438.60) rotate(-90)" x="0" y="0" font-size="7.0" text-anchor="end" fill="#231f20">RVz16</text>
<text transform="translate(61.09,438.60) rotate(-90)" x="0" y="0" font-size="7.0" text-anchor="end" fill="#231f20">RZg17</text>
<text transform="translate(68.22,438.60) rotate(-90)" x="0" y="0" font-size="7.0" text-anchor="end" fill="#231f20">34897</text>
<text transform="translate(75.35,438.60) rotate(-90)" x="0" y="0" font-size="7.0" text-anchor="end" fill="#231f20">34920</text>
<text transform="translate(82.48,438.60) rotate(-90)" x="0" y="0" font-size="7.0" text-anchor="end" fill="#231f20">34930</text>
<text transform="translate(89.61,438.60) rotate(-90)" x="0" y="0" font-size="7.0" text-anchor="end" fill="#231f20">RFn17</text>
<text transform="translate(96.74,438.60) rotate(-90)" x="0" y="0" font-size="7.0" text-anchor="end" fill="#231f20">RGr17</text>
<text transform="translate(103.87,438.60) rotate(-90)" x="0" y="0" font-size="7.0" text-anchor="end" fill="#231f20">RHm17</text>
<text transform="translate(111.00,438.60) rotate(-90)" x="0" y="0" font-size="7.0" text-anchor="end" fill="#231f20">RVc17</text>
<text transform="translate(118.13,438.60) rotate(-90)" x="0" y="0" font-size="7.0" text-anchor="end" fill="#231f20">RVm17</text>
<text transform="translate(125.26,438.60) rotate(-90)" x="0" y="0" font-size="7.0" text-anchor="end" fill="#231f20">RYk17</text>
<text transform="translate(132.40,438.60) rotate(-90)" x="0" y="0" font-size="7.0" text-anchor="end" fill="#231f20">RZp17</text>
<text transform="translate(139.53,438.60) rotate(-90)" x="0" y="0" font-size="7.0" text-anchor="end" fill="#231f20">34918</text>
<text transform="translate(146.66,438.60) rotate(-90)" x="0" y="0" font-size="7.0" text-anchor="end" fill="#231f20">RFt17</text>
<text transform="translate(153.78,438.60) rotate(-90)" x="0" y="0" font-size="7.0" text-anchor="end" fill="#231f20">RIb17</text>
<text transform="translate(160.91,438.60) rotate(-90)" x="0" y="0" font-size="7.0" text-anchor="end" fill="#231f20">RKq17</text>
<text transform="translate(168.04,438.60) rotate(-90)" x="0" y="0" font-size="7.0" text-anchor="end" fill="#231f20">RWs17</text>
<text transform="translate(175.18,438.60) rotate(-90)" x="0" y="0" font-size="7.0" text-anchor="end" fill="#231f20">RBl17</text>
<text transform="translate(182.31,438.60) rotate(-90)" x="0" y="0" font-size="7.0" text-anchor="end" fill="#231f20">RBv17</text>
<text transform="translate(189.44,438.60) rotate(-90)" x="0" y="0" font-size="7.0" text-anchor="end" fill="#231f20">RNy16</text>
<text transform="translate(196.56,438.60) rotate(-90)" x="0" y="0" font-size="7.0" text-anchor="end" fill="#231f20">RRh17</text>
<text transform="translate(203.69,438.60) rotate(-90)" x="0" y="0" font-size="7.0" text-anchor="end" fill="#231f20">RYm17</text>
<text transform="translate(208.00,345.36) scale(0.975,1)" font-size="7.1" text-anchor="start" font-weight="normal" fill="#231f20" >LOG_2-LTR circles_LNMC</text>
<text transform="translate(208.00,354.06) scale(0.975,1)" font-size="7.1" text-anchor="start" font-weight="normal" fill="#231f20" >LOG_CA-vDNA_LNMC</text>
<text transform="translate(208.00,362.76) scale(0.975,1)" font-size="7.1" text-anchor="start" font-weight="normal" fill="#231f20" >LOG_CA-vRNA_LNMC</text>
<text transform="translate(208.00,371.46) scale(1.060,1)" font-size="7.1" text-anchor="start" font-weight="normal" fill="#231f20" >Group</text>
<text transform="translate(208.00,380.36) scale(1.060,1)" font-size="7.1" text-anchor="start" font-weight="normal" fill="#231f20" >Time point</text>
<text transform="translate(208.00,389.06) scale(1.060,1)" font-size="7.1" text-anchor="start" font-weight="normal" fill="#231f20" >Tissue</text>
<text transform="translate(208.00,398.06) scale(0.975,1)" font-size="7.1" text-anchor="start" font-weight="normal" fill="#231f20" >REACTOME_INTERFERON_SIGNALING</text>
<text transform="translate(208.00,405.16) scale(0.975,1)" font-size="7.1" text-anchor="start" font-weight="normal" fill="#231f20" >REACTOME_INTERFERON_GAMMA_SIGNALING</text>
<text transform="translate(208.00,412.16) scale(0.975,1)" font-size="7.1" text-anchor="start" font-weight="normal" fill="#231f20" >REACTOME_INTERFERON_ALPHA_BETA_SIGNALING</text>
<text transform="translate(208.00,419.26) scale(0.975,1)" font-size="7.1" text-anchor="start" font-weight="normal" fill="#231f20" >RESTRICTION_FACTORS</text>
<text transform="translate(208.00,426.66) scale(0.975,1)" font-size="7.1" text-anchor="start" font-weight="normal" fill="#231f20" >HALLMARK_INTERFERON_ALPHA_RESPONSE</text>
<text transform="translate(208.00,433.76) scale(0.975,1)" font-size="7.1" text-anchor="start" font-weight="normal" fill="#231f20" >HALLMARK_INTERFERON_GAMMA_RESPONSE</text>
<defs><linearGradient id="gC" x1="0" y1="0" x2="0" y2="1"><stop offset="0" stop-color="#8b0000"/><stop offset="0.25" stop-color="#ff0000"/><stop offset="0.5" stop-color="#ffffff"/><stop offset="0.62" stop-color="#3a3aa8"/><stop offset="0.75" stop-color="#00008b"/><stop offset="1" stop-color="#0000ff"/></linearGradient></defs>
<rect x="401.30" y="341.20" width="5.20" height="85.10" fill="url(#gC)"/>
<text x="410.00" y="345.46" font-size="7.4" text-anchor="start" font-weight="normal" fill="#231f20" >4</text>
<text x="410.00" y="365.96" font-size="7.4" text-anchor="start" font-weight="normal" fill="#231f20" >2</text>
<text x="410.00" y="386.36" font-size="7.4" text-anchor="start" font-weight="normal" fill="#231f20" >0</text>
<text x="410.00" y="406.16" font-size="7.4" text-anchor="start" font-weight="normal" fill="#231f20" >−2</text>
<text x="410.00" y="424.46" font-size="7.4" text-anchor="start" font-weight="normal" fill="#231f20" >−4</text>
<text transform="translate(435.50,335.50) scale(1.075,1)" font-size="8.6" fill="#231f20">log<tspan font-size="4.73" dy="2.41">10</tspan><tspan dy="-2.41"> 2-LTR circles LNMC</tspan></text>
<rect x="432.80" y="345.10" width="7.30" height="6.90" fill="#54278f"/>
<rect x="432.80" y="351.95" width="7.30" height="6.90" fill="#8c6bb1"/>
<rect x="432.80" y="358.80" width="7.30" height="6.90" fill="#cbb6dc"/>
<text x="443.20" y="350.72" font-size="7.0" text-anchor="start" font-weight="normal" fill="#231f20" >3.5</text>
<text x="443.20" y="365.12" font-size="7.0" text-anchor="start" font-weight="normal" fill="#231f20" >1.5</text>
<text transform="translate(435.50,381.10) scale(1.075,1)" font-size="8.6" fill="#231f20">log<tspan font-size="4.73" dy="2.41">10</tspan><tspan dy="-2.41"> CA-vDNA LNMC</tspan></text>
<rect x="432.80" y="389.60" width="7.30" height="6.75" fill="#2e8a55"/>
<rect x="432.80" y="396.30" width="7.30" height="6.75" fill="#73b28e"/>
<rect x="432.80" y="403.00" width="7.30" height="6.75" fill="#bfdfcb"/>
<text x="443.20" y="394.82" font-size="7.0" text-anchor="start" font-weight="normal" fill="#231f20" >4.5</text>
<text x="443.20" y="409.52" font-size="7.0" text-anchor="start" font-weight="normal" fill="#231f20" >1.5</text>
<text transform="translate(435.50,422.90) scale(1.075,1)" font-size="8.6" fill="#231f20">log<tspan font-size="4.73" dy="2.41">10</tspan><tspan dy="-2.41"> CA-vRNA LNMC</tspan></text>
<rect x="432.80" y="431.00" width="7.30" height="6.90" fill="#1a95cd"/>
<rect x="432.80" y="437.85" width="7.30" height="6.90" fill="#5ebde2"/>
<rect x="432.80" y="444.70" width="7.30" height="6.90" fill="#aadcf0"/>
<text x="443.20" y="436.32" font-size="7.0" text-anchor="start" font-weight="normal" fill="#231f20" >7</text>
<text x="443.20" y="450.52" font-size="7.0" text-anchor="start" font-weight="normal" fill="#231f20" >2</text>
<text transform="translate(550.40,335.50) scale(1.060,1)" font-size="8.6" text-anchor="start" font-weight="normal" fill="#231f20" >Group</text>
<rect x="550.40" y="346.00" width="8.90" height="8.90" fill="#ff0000" stroke="#888" stroke-width="0.4"/>
<text transform="translate(565.00,353.12) scale(1.060,1)" font-size="7.0" text-anchor="start" font-weight="normal" fill="#231f20" >aIL-10</text>
<rect x="550.40" y="358.75" width="8.90" height="8.90" fill="#0000ff" stroke="#888" stroke-width="0.4"/>
<text transform="translate(565.00,365.87) scale(1.060,1)" font-size="7.0" text-anchor="start" font-weight="normal" fill="#231f20" >aIL-10_aPD1</text>
<rect x="550.40" y="371.50" width="8.90" height="8.90" fill="#000000" stroke="#888" stroke-width="0.4"/>
<text transform="translate(565.00,378.62) scale(1.060,1)" font-size="7.0" text-anchor="start" font-weight="normal" fill="#231f20" >Control</text>
<text transform="translate(550.40,392.70) scale(1.060,1)" font-size="8.6" text-anchor="start" font-weight="normal" fill="#231f20" >Time point</text>
<rect x="550.40" y="397.40" width="8.90" height="8.60" fill="#00d68c" stroke="#888" stroke-width="0.4"/>
<text transform="translate(565.00,404.12) scale(1.060,1)" font-size="7.0" text-anchor="start" font-weight="normal" fill="#231f20" >Week 0 (pre-ATI)</text>
<text transform="translate(550.40,421.00) scale(1.060,1)" font-size="8.6" text-anchor="start" font-weight="normal" fill="#231f20" >Tissue</text>
<rect x="550.40" y="425.60" width="8.90" height="8.90" fill="#ff80f5" stroke="#888" stroke-width="0.4"/>
<text x="565.00" y="432.52" font-size="7.0" text-anchor="start" font-weight="normal" fill="#231f20" >LNMC</text>
<text x="-0.40" y="482.10" font-size="16" font-weight="bold" fill="#000" stroke="#000" stroke-width="0.35">e</text>
<text x="19.80" y="483.04" font-size="7.9" text-anchor="start" font-weight="normal" fill="#231f20" >NES</text>
<defs><linearGradient id="gE" x1="0" y1="0" x2="0" y2="1"><stop offset="0" stop-color="#d42a26"/><stop offset="0.28" stop-color="#d7302a"/><stop offset="0.36" stop-color="#ee7040"/><stop offset="0.42" stop-color="#fbb86c"/><stop offset="0.47" stop-color="#fee9b0"/><stop offset="0.52" stop-color="#f7fbf8"/><stop offset="0.58" stop-color="#d9ecf3"/><stop offset="0.66" stop-color="#93c0dc"/><stop offset="0.73" stop-color="#4a7cbd"/><stop offset="1" stop-color="#3f6fb6"/></linearGradient></defs>
<rect x="25.90" y="491.00" width="5.30" height="57.80" fill="url(#gE)"/>
<text x="33.30" y="494.14" font-size="7.6" text-anchor="start" font-weight="normal" fill="#231f20" >2</text>
<text x="33.30" y="507.74" font-size="7.6" text-anchor="start" font-weight="normal" fill="#231f20" >1</text>
<text x="33.30" y="523.24" font-size="7.6" text-anchor="start" font-weight="normal" fill="#231f20" >0</text>
<text x="33.30" y="537.24" font-size="7.6" text-anchor="start" font-weight="normal" fill="#231f20" >−1</text>
<text x="33.30" y="551.94" font-size="7.6" text-anchor="start" font-weight="normal" fill="#231f20" >−2</text>
<text transform="translate(50.80,483.42) scale(1.060,1)" font-size="10.6" text-anchor="start" font-weight="normal" fill="#231f20" >Combo-treated RMs - LNMC</text>
<rect x="51.30" y="488.40" width="10.45" height="10.30" fill="#b5d6e9" stroke="#9a9a9a" stroke-width="0.6"/>
<rect x="61.75" y="488.40" width="10.45" height="10.30" fill="#fdca8c" stroke="#9a9a9a" stroke-width="0.6"/>
<rect x="51.30" y="498.70" width="10.45" height="10.30" fill="#4a7fbf" stroke="#9a9a9a" stroke-width="0.6"/>
<rect x="61.75" y="498.70" width="10.45" height="10.30" fill="#d8302a" stroke="#9a9a9a" stroke-width="0.6"/>
<rect x="51.30" y="509.00" width="10.45" height="10.30" fill="#a0c8e1" stroke="#9a9a9a" stroke-width="0.6"/>
<rect x="61.75" y="509.00" width="10.45" height="10.30" fill="#f5995a" stroke="#9a9a9a" stroke-width="0.6"/>
<rect x="51.30" y="519.30" width="10.45" height="10.30" fill="#afd1e7" stroke="#9a9a9a" stroke-width="0.6"/>
<rect x="61.75" y="519.30" width="10.45" height="10.30" fill="#f9b36e" stroke="#9a9a9a" stroke-width="0.6"/>
<rect x="51.30" y="488.40" width="20.90" height="41.20" fill="none" stroke="#8a8a8a" stroke-width="0.9"/>
<rect x="76.20" y="488.40" width="10.45" height="10.30" fill="#3f72b9" stroke="#9a9a9a" stroke-width="0.6"/>
<rect x="86.65" y="488.40" width="10.45" height="10.30" fill="#d73027" stroke="#9a9a9a" stroke-width="0.6"/>
<rect x="76.20" y="498.70" width="10.45" height="10.30" fill="#5a8cc4" stroke="#9a9a9a" stroke-width="0.6"/>
<rect x="86.65" y="498.70" width="10.45" height="10.30" fill="#e0573a" stroke="#9a9a9a" stroke-width="0.6"/>
<rect x="76.20" y="509.00" width="10.45" height="10.30" fill="#95c1df" stroke="#9a9a9a" stroke-width="0.6"/>
<rect x="86.65" y="509.00" width="10.45" height="10.30" fill="#f5975a" stroke="#9a9a9a" stroke-width="0.6"/>
<rect x="76.20" y="519.30" width="10.45" height="10.30" fill="#d0e5f0" stroke="#9a9a9a" stroke-width="0.6"/>
<rect x="86.65" y="519.30" width="10.45" height="10.30" fill="#fdc273" stroke="#9a9a9a" stroke-width="0.6"/>
<rect x="76.20" y="488.40" width="20.90" height="41.20" fill="none" stroke="#8a8a8a" stroke-width="0.9"/>
<text transform="translate(102.20,495.06) scale(0.988,1)" font-size="7.1" text-anchor="start" font-weight="normal" fill="#231f20" >REACTOME_INTERFERON_GAMMA_SIGNALING</text>
<text transform="translate(102.20,505.69) scale(0.988,1)" font-size="7.1" text-anchor="start" font-weight="normal" fill="#231f20" >HALLMARK_INTERFERON_ALPHA_RESPONSE</text>
<text transform="translate(102.20,516.32) scale(0.988,1)" font-size="7.1" text-anchor="start" font-weight="normal" fill="#231f20" >REACTOME_INTERFERON_SIGNALING</text>
<text transform="translate(102.20,526.95) scale(0.988,1)" font-size="7.1" text-anchor="start" font-weight="normal" fill="#231f20" >HALLMARK_INTERFERON_GAMMA_SIGNALING</text>
<text transform="translate(59.66,534.8) rotate(-90) scale(0.96,1)" font-size="7.4" text-anchor="end" fill="#231f20">CA-vDNA<tspan font-size="4.2" dy="-3">lo</tspan></text>
<text transform="translate(70.06,534.8) rotate(-90) scale(0.96,1)" font-size="7.4" text-anchor="end" fill="#231f20">CA-vDNA<tspan font-size="4.2" dy="-3">hi</tspan></text>
<text transform="translate(84.66,534.8) rotate(-90) scale(0.96,1)" font-size="7.4" text-anchor="end" fill="#231f20">CA-vDNA<tspan font-size="4.2" dy="-3">lo</tspan></text>
<text transform="translate(95.56,534.8) rotate(-90) scale(0.96,1)" font-size="7.4" text-anchor="end" fill="#231f20">CA-vDNA<tspan font-size="4.2" dy="-3">hi</tspan></text>
<line x1="52.20" y1="572.50" x2="71.00" y2="572.50" stroke="#231f20" stroke-width="0.7" />
<line x1="77.00" y1="572.50" x2="96.00" y2="572.50" stroke="#231f20" stroke-width="0.7" />
<text transform="translate(61.60,583.64) scale(1.060,1)" font-size="9.0" text-anchor="middle" font-weight="normal" fill="#231f20" >Pre-</text>
<text x="61.60" y="594.14" font-size="9.0" text-anchor="middle" font-weight="normal" fill="#231f20" >ATI</text>
<text transform="translate(86.60,583.64) scale(1.060,1)" font-size="9.0" text-anchor="middle" font-weight="normal" fill="#231f20" >Post-</text>
<text x="86.60" y="594.14" font-size="9.0" text-anchor="middle" font-weight="normal" fill="#231f20" >ATI</text>
<text x="-0.60" y="624.10" font-size="16" font-weight="bold" fill="#000" stroke="#000" stroke-width="0.35">f</text>
<line x1="51.40" y1="640.80" x2="89.90" y2="642.40" stroke="#ccafda" stroke-width="3.2" stroke-opacity="0.9"/>
<line x1="51.40" y1="640.80" x2="56.80" y2="678.70" stroke="#ccafda" stroke-width="3.2" stroke-opacity="0.9"/>
<line x1="51.40" y1="640.80" x2="118.80" y2="678.70" stroke="#ccafda" stroke-width="2.5" stroke-opacity="0.9"/>
<line x1="51.40" y1="640.80" x2="19.90" y2="684.50" stroke="#ccafda" stroke-width="3.2" stroke-opacity="0.9"/>
<line x1="51.40" y1="640.80" x2="90.20" y2="686.70" stroke="#ccafda" stroke-width="2.5" stroke-opacity="0.9"/>
<line x1="51.40" y1="640.80" x2="57.80" y2="715.60" stroke="#ccafda" stroke-width="2.5" stroke-opacity="0.9"/>
<line x1="51.40" y1="640.80" x2="24.10" y2="730.70" stroke="#ccafda" stroke-width="2.5" stroke-opacity="0.9"/>
<line x1="51.40" y1="640.80" x2="122.00" y2="734.90" stroke="#ccafda" stroke-width="1.6" stroke-opacity="0.9"/>
<line x1="51.40" y1="640.80" x2="89.00" y2="748.40" stroke="#ccafda" stroke-width="1.6" stroke-opacity="0.9"/>
<line x1="51.40" y1="640.80" x2="129.70" y2="648.20" stroke="#ccafda" stroke-width="2.5" stroke-opacity="0.9"/>
<line x1="51.40" y1="640.80" x2="158.00" y2="668.40" stroke="#ccafda" stroke-width="1.6" stroke-opacity="0.9"/>
<line x1="51.40" y1="640.80" x2="127.50" y2="619.30" stroke="#ccafda" stroke-width="2.5" stroke-opacity="0.9"/>
<line x1="89.90" y1="642.40" x2="56.80" y2="678.70" stroke="#ccafda" stroke-width="3.2" stroke-opacity="0.9"/>
<line x1="89.90" y1="642.40" x2="118.80" y2="678.70" stroke="#ccafda" stroke-width="3.2" stroke-opacity="0.9"/>
<line x1="89.90" y1="642.40" x2="19.90" y2="684.50" stroke="#ccafda" stroke-width="2.5" stroke-opacity="0.9"/>
<line x1="89.90" y1="642.40" x2="90.20" y2="686.70" stroke="#ccafda" stroke-width="3.2" stroke-opacity="0.9"/>
<line x1="89.90" y1="642.40" x2="57.80" y2="715.60" stroke="#ccafda" stroke-width="2.5" stroke-opacity="0.9"/>
<line x1="89.90" y1="642.40" x2="24.10" y2="730.70" stroke="#ccafda" stroke-width="1.6" stroke-opacity="0.9"/>
<line x1="89.90" y1="642.40" x2="122.00" y2="734.90" stroke="#ccafda" stroke-width="1.6" stroke-opacity="0.9"/>
<line x1="89.90" y1="642.40" x2="89.00" y2="748.40" stroke="#ccafda" stroke-width="1.6" stroke-opacity="0.9"/>
<line x1="89.90" y1="642.40" x2="129.70" y2="648.20" stroke="#ccafda" stroke-width="3.2" stroke-opacity="0.9"/>
<line x1="89.90" y1="642.40" x2="158.00" y2="668.40" stroke="#ccafda" stroke-width="2.5" stroke-opacity="0.9"/>
<line x1="89.90" y1="642.40" x2="159.60" y2="714.60" stroke="#ccafda" stroke-width="1.6" stroke-opacity="0.9"/>
<line x1="89.90" y1="642.40" x2="127.50" y2="619.30" stroke="#ccafda" stroke-width="3.2" stroke-opacity="0.9"/>
<line x1="56.80" y1="678.70" x2="118.80" y2="678.70" stroke="#ccafda" stroke-width="2.5" stroke-opacity="0.9"/>
<line x1="56.80" y1="678.70" x2="19.90" y2="684.50" stroke="#ccafda" stroke-width="3.2" stroke-opacity="0.9"/>
<line x1="56.80" y1="678.70" x2="90.20" y2="686.70" stroke="#ccafda" stroke-width="3.2" stroke-opacity="0.9"/>
<line x1="56.80" y1="678.70" x2="57.80" y2="715.60" stroke="#ccafda" stroke-width="3.2" stroke-opacity="0.9"/>
<line x1="56.80" y1="678.70" x2="24.10" y2="730.70" stroke="#ccafda" stroke-width="2.5" stroke-opacity="0.9"/>
<line x1="56.80" y1="678.70" x2="122.00" y2="734.90" stroke="#ccafda" stroke-width="2.5" stroke-opacity="0.9"/>
<line x1="56.80" y1="678.70" x2="89.00" y2="748.40" stroke="#ccafda" stroke-width="2.5" stroke-opacity="0.9"/>
<line x1="56.80" y1="678.70" x2="129.70" y2="648.20" stroke="#ccafda" stroke-width="2.5" stroke-opacity="0.9"/>
<line x1="56.80" y1="678.70" x2="158.00" y2="668.40" stroke="#ccafda" stroke-width="1.6" stroke-opacity="0.9"/>
<line x1="56.80" y1="678.70" x2="159.60" y2="714.60" stroke="#ccafda" stroke-width="1.6" stroke-opacity="0.9"/>
<line x1="118.80" y1="678.70" x2="19.90" y2="684.50" stroke="#ccafda" stroke-width="1.6" stroke-opacity="0.9"/>
<line x1="118.80" y1="678.70" x2="90.20" y2="686.70" stroke="#ccafda" stroke-width="3.2" stroke-opacity="0.9"/>
<line x1="118.80" y1="678.70" x2="57.80" y2="715.60" stroke="#ccafda" stroke-width="2.5" stroke-opacity="0.9"/>
<line x1="118.80" y1="678.70" x2="24.10" y2="730.70" stroke="#ccafda" stroke-width="1.6" stroke-opacity="0.9"/>
<line x1="118.80" y1="678.70" x2="122.00" y2="734.90" stroke="#ccafda" stroke-width="3.2" stroke-opacity="0.9"/>
<line x1="118.80" y1="678.70" x2="89.00" y2="748.40" stroke="#ccafda" stroke-width="2.5" stroke-opacity="0.9"/>
<line x1="118.80" y1="678.70" x2="129.70" y2="648.20" stroke="#ccafda" stroke-width="3.2" stroke-opacity="0.9"/>
<line x1="118.80" y1="678.70" x2="158.00" y2="668.40" stroke="#ccafda" stroke-width="3.2" stroke-opacity="0.9"/>
<line x1="118.80" y1="678.70" x2="159.60" y2="714.60" stroke="#ccafda" stroke-width="3.2" stroke-opacity="0.9"/>
<line x1="118.80" y1="678.70" x2="127.50" y2="619.30" stroke="#ccafda" stroke-width="2.5" stroke-opacity="0.9"/>
<line x1="19.90" y1="684.50" x2="90.20" y2="686.70" stroke="#ccafda" stroke-width="2.5" stroke-opacity="0.9"/>
<line x1="19.90" y1="684.50" x2="57.80" y2="715.60" stroke="#ccafda" stroke-width="3.2" stroke-opacity="0.9"/>
<line x1="19.90" y1="684.50" x2="24.10" y2="730.70" stroke="#ccafda" stroke-width="3.2" stroke-opacity="0.9"/>
<line x1="19.90" y1="684.50" x2="122.00" y2="734.90" stroke="#ccafda" stroke-width="1.6" stroke-opacity="0.9"/>
<line x1="19.90" y1="684.50" x2="89.00" y2="748.40" stroke="#ccafda" stroke-width="2.5" stroke-opacity="0.9"/>
<line x1="90.20" y1="686.70" x2="57.80" y2="715.60" stroke="#ccafda" stroke-width="3.2" stroke-opacity="0.9"/>
<line x1="90.20" y1="686.70" x2="24.10" y2="730.70" stroke="#ccafda" stroke-width="2.5" stroke-opacity="0.9"/>
<line x1="90.20" y1="686.70" x2="122.00" y2="734.90" stroke="#ccafda" stroke-width="3.2" stroke-opacity="0.9"/>
<line x1="90.20" y1="686.70" x2="89.00" y2="748.40" stroke="#ccafda" stroke-width="2.5" stroke-opacity="0.9"/>
<line x1="90.20" y1="686.70" x2="129.70" y2="648.20" stroke="#ccafda" stroke-width="3.2" stroke-opacity="0.9"/>
<line x1="90.20" y1="686.70" x2="158.00" y2="668.40" stroke="#ccafda" stroke-width="2.5" stroke-opacity="0.9"/>
<line x1="90.20" y1="686.70" x2="159.60" y2="714.60" stroke="#ccafda" stroke-width="2.5" stroke-opacity="0.9"/>
<line x1="90.20" y1="686.70" x2="127.50" y2="619.30" stroke="#ccafda" stroke-width="2.5" stroke-opacity="0.9"/>
<line x1="57.80" y1="715.60" x2="24.10" y2="730.70" stroke="#ccafda" stroke-width="3.2" stroke-opacity="0.9"/>
<line x1="57.80" y1="715.60" x2="122.00" y2="734.90" stroke="#ccafda" stroke-width="2.5" stroke-opacity="0.9"/>
<line x1="57.80" y1="715.60" x2="89.00" y2="748.40" stroke="#ccafda" stroke-width="3.2" stroke-opacity="0.9"/>
<line x1="57.80" y1="715.60" x2="129.70" y2="648.20" stroke="#ccafda" stroke-width="1.6" stroke-opacity="0.9"/>
<line x1="57.80" y1="715.60" x2="158.00" y2="668.40" stroke="#ccafda" stroke-width="1.6" stroke-opacity="0.9"/>
<line x1="57.80" y1="715.60" x2="159.60" y2="714.60" stroke="#ccafda" stroke-width="1.6" stroke-opacity="0.9"/>
<line x1="24.10" y1="730.70" x2="122.00" y2="734.90" stroke="#ccafda" stroke-width="1.6" stroke-opacity="0.9"/>
<line x1="24.10" y1="730.70" x2="89.00" y2="748.40" stroke="#ccafda" stroke-width="2.5" stroke-opacity="0.9"/>
<line x1="24.10" y1="730.70" x2="159.60" y2="714.60" stroke="#ccafda" stroke-width="1.6" stroke-opacity="0.9"/>
<line x1="122.00" y1="734.90" x2="89.00" y2="748.40" stroke="#ccafda" stroke-width="3.2" stroke-opacity="0.9"/>
<line x1="122.00" y1="734.90" x2="129.70" y2="648.20" stroke="#ccafda" stroke-width="2.5" stroke-opacity="0.9"/>
<line x1="122.00" y1="734.90" x2="158.00" y2="668.40" stroke="#ccafda" stroke-width="2.5" stroke-opacity="0.9"/>
<line x1="122.00" y1="734.90" x2="159.60" y2="714.60" stroke="#ccafda" stroke-width="3.2" stroke-opacity="0.9"/>
<line x1="89.00" y1="748.40" x2="129.70" y2="648.20" stroke="#ccafda" stroke-width="1.6" stroke-opacity="0.9"/>
<line x1="89.00" y1="748.40" x2="158.00" y2="668.40" stroke="#ccafda" stroke-width="1.6" stroke-opacity="0.9"/>
<line x1="89.00" y1="748.40" x2="159.60" y2="714.60" stroke="#ccafda" stroke-width="2.5" stroke-opacity="0.9"/>
<line x1="129.70" y1="648.20" x2="158.00" y2="668.40" stroke="#ccafda" stroke-width="3.2" stroke-opacity="0.9"/>
<line x1="129.70" y1="648.20" x2="159.60" y2="714.60" stroke="#ccafda" stroke-width="2.5" stroke-opacity="0.9"/>
<line x1="129.70" y1="648.20" x2="127.50" y2="619.30" stroke="#ccafda" stroke-width="3.2" stroke-opacity="0.9"/>
<line x1="158.00" y1="668.40" x2="159.60" y2="714.60" stroke="#ccafda" stroke-width="3.2" stroke-opacity="0.9"/>
<line x1="158.00" y1="668.40" x2="127.50" y2="619.30" stroke="#ccafda" stroke-width="3.2" stroke-opacity="0.9"/>
<line x1="158.00" y1="668.40" x2="187.90" y2="648.20" stroke="#d1b6dc" stroke-width="2.0" />
<path d="M24.10,730.70 Q72.88,736.80 122.00,734.90" fill="none" stroke="#93d6dd" stroke-width="2.6"/>
<path d="M24.10,730.70 Q55.76,742.44 89.00,748.40" fill="none" stroke="#93d6dd" stroke-width="2.4"/>
<path d="M57.80,715.60 Q89.04,728.12 122.00,734.90" fill="none" stroke="#93d6dd" stroke-width="2.2"/>
<path d="M57.80,715.60 Q71.95,733.38 89.00,748.40" fill="none" stroke="#93d6dd" stroke-width="2.0"/>
<path d="M24.10,730.70 Q55.49,706.20 90.20,686.70" fill="none" stroke="#93d6dd" stroke-width="2.0"/>
<path d="M57.80,715.60 Q86.75,694.58 118.80,678.70" fill="none" stroke="#93d6dd" stroke-width="1.8"/>
<path d="M89.00,748.40 Q107.58,715.12 118.80,678.70" fill="none" stroke="#93d6dd" stroke-width="2.6"/>
<path d="M122.00,734.90 Q123.40,706.63 118.80,678.70" fill="none" stroke="#93d6dd" stroke-width="2.6"/>
<path d="M90.20,686.70 Q108.60,709.15 122.00,734.90" fill="none" stroke="#93d6dd" stroke-width="2.0"/>
<path d="M24.10,730.70 Q69.52,701.19 118.80,678.70" fill="none" stroke="#93d6dd" stroke-width="1.6"/>
<path d="M89.00,748.40 Q84.60,717.45 90.20,686.70" fill="none" stroke="#93d6dd" stroke-width="1.4"/>
<path d="M56.80,678.70 Q40.45,704.70 24.10,730.70" fill="none" stroke="#93d6dd" stroke-width="1.0"/>
<path d="M57.80,715.60 Q40.13,721.32 24.10,730.70" fill="none" stroke="#93d6dd" stroke-width="2.0"/>
<path d="M90.20,686.70 Q104.50,682.70 118.80,678.70" fill="none" stroke="#93d6dd" stroke-width="1.4"/>
<path d="M90.20,686.70 Q86.60,717.49 89.00,748.40" fill="none" stroke="#eba2a0" stroke-width="3.0"/>
<line x1="51.40" y1="640.80" x2="56.80" y2="678.70" stroke="#d4cf9c" stroke-width="0.8" />
<line x1="158.00" y1="668.40" x2="159.60" y2="714.60" stroke="#d4cf9c" stroke-width="0.8" />
<line x1="19.90" y1="684.50" x2="51.40" y2="640.80" stroke="#9eb1dc" stroke-width="0.6" />
<circle cx="127.50" cy="619.30" r="5.40" fill="#ea0a0b" stroke="#4a0000" stroke-width="0.6"/>
<circle cx="51.40" cy="640.80" r="5.40" fill="#ea0a0b" stroke="#4a0000" stroke-width="0.6"/>
<circle cx="89.90" cy="642.40" r="5.40" fill="#ea0a0b" stroke="#4a0000" stroke-width="0.6"/>
<circle cx="129.70" cy="648.20" r="5.40" fill="#ea0a0b" stroke="#4a0000" stroke-width="0.6"/>
<circle cx="187.90" cy="648.20" r="5.40" fill="#ea0a0b" stroke="#4a0000" stroke-width="0.6"/>
<circle cx="158.00" cy="668.40" r="5.40" fill="#ea0a0b" stroke="#4a0000" stroke-width="0.6"/>
<circle cx="56.80" cy="678.70" r="5.40" fill="#ea0a0b" stroke="#4a0000" stroke-width="0.6"/>
<circle cx="118.80" cy="678.70" r="5.40" fill="#ea0a0b" stroke="#4a0000" stroke-width="0.6"/>
<circle cx="19.90" cy="684.50" r="5.40" fill="#ea0a0b" stroke="#4a0000" stroke-width="0.6"/>
<circle cx="90.20" cy="686.70" r="5.40" fill="#ea0a0b" stroke="#4a0000" stroke-width="0.6"/>
<circle cx="57.80" cy="715.60" r="5.40" fill="#ea0a0b" stroke="#4a0000" stroke-width="0.6"/>
<circle cx="159.60" cy="714.60" r="5.40" fill="#ea0a0b" stroke="#4a0000" stroke-width="0.6"/>
<circle cx="24.10" cy="730.70" r="5.40" fill="#ea0a0b" stroke="#4a0000" stroke-width="0.6"/>
<circle cx="122.00" cy="734.90" r="5.40" fill="#ea0a0b" stroke="#4a0000" stroke-width="0.6"/>
<circle cx="89.00" cy="748.40" r="5.40" fill="#ea0a0b" stroke="#4a0000" stroke-width="0.6"/>
<text transform="translate(122.00,636.18) scale(1.050,1)" font-size="9.4" text-anchor="middle" font-weight="normal" fill="#231f20" >TRIM14</text>
<text transform="translate(49.80,656.98) scale(1.050,1)" font-size="9.4" text-anchor="middle" font-weight="normal" fill="#231f20" >OAS1</text>
<text transform="translate(89.30,658.58) scale(1.050,1)" font-size="9.4" text-anchor="middle" font-weight="normal" fill="#231f20" >MX1</text>
<text transform="translate(129.10,664.38) scale(1.050,1)" font-size="9.4" text-anchor="middle" font-weight="normal" fill="#231f20" >TRIM25</text>
<text transform="translate(186.30,664.38) scale(1.050,1)" font-size="9.4" text-anchor="middle" font-weight="normal" fill="#231f20" >PROCR</text>
<text transform="translate(157.40,685.58) scale(1.050,1)" font-size="9.4" text-anchor="middle" font-weight="normal" fill="#231f20" >CXCL10</text>
<text transform="translate(56.80,695.88) scale(1.050,1)" font-size="9.4" text-anchor="middle" font-weight="normal" fill="#231f20" >OASL</text>
<text transform="translate(118.80,695.88) scale(1.050,1)" font-size="9.4" text-anchor="middle" font-weight="normal" fill="#231f20" >IFI27</text>
<text transform="translate(18.60,700.68) scale(1.050,1)" font-size="9.4" text-anchor="middle" font-weight="normal" fill="#231f20" >IRF7</text>
<text transform="translate(90.20,703.58) scale(1.050,1)" font-size="9.4" text-anchor="middle" font-weight="normal" fill="#231f20" >IFIT3</text>
<text transform="translate(56.80,733.08) scale(1.050,1)" font-size="9.4" text-anchor="middle" font-weight="normal" fill="#231f20" >ISG15</text>
<text transform="translate(158.00,731.88) scale(1.050,1)" font-size="9.4" text-anchor="middle" font-weight="normal" fill="#231f20" >CXCL11</text>
<text transform="translate(23.10,747.88) scale(1.050,1)" font-size="9.4" text-anchor="middle" font-weight="normal" fill="#231f20" >STAT2</text>
<text transform="translate(123.00,752.08) scale(1.050,1)" font-size="9.4" text-anchor="middle" font-weight="normal" fill="#231f20" >ISG20</text>
<text transform="translate(88.30,765.58) scale(1.050,1)" font-size="9.4" text-anchor="middle" font-weight="normal" fill="#231f20" >IFIT2</text>
<text transform="translate(97.00,784.64) scale(1.060,1)" font-size="10.4" text-anchor="middle" font-weight="normal" fill="#231f20" >Common LEGs upregulated</text>
<text transform="translate(97,797.1) scale(1.07,1)" font-size="10.4" text-anchor="middle" fill="#231f20">CAvDNA<tspan font-size="6.8" dy="-3.6">lo</tspan><tspan dy="3.6"> combo-treated RMs</tspan></text>
<text transform="translate(97.00,809.64) scale(1.060,1)" font-size="10.4" text-anchor="middle" font-weight="normal" fill="#231f20" >(pre- and post-ATI)</text>
<text transform="translate(218.70,607.02) scale(1.100,1)" font-size="8.4" text-anchor="start" font-weight="normal" fill="#231f20" >Networks</text>
<rect x="218.70" y="611.20" width="9.40" height="9.40" fill="#d6bcdc"/>
<text transform="translate(231.50,618.46) scale(1.100,1)" font-size="7.1" text-anchor="start" font-weight="normal" fill="#231f20" >Coexpression</text>
<rect x="218.70" y="626.95" width="9.40" height="9.40" fill="#eaa3a6"/>
<text transform="translate(231.50,634.21) scale(1.100,1)" font-size="7.1" text-anchor="start" font-weight="normal" fill="#231f20" >Physical interactions</text>
<rect x="218.70" y="642.70" width="9.40" height="9.40" fill="#9eb1dc"/>
<text transform="translate(231.50,649.96) scale(1.100,1)" font-size="7.1" text-anchor="start" font-weight="normal" fill="#231f20" >Colocalization</text>
<rect x="218.70" y="658.45" width="9.40" height="9.40" fill="#d8d2a4"/>
<text transform="translate(231.50,665.71) scale(1.100,1)" font-size="7.1" text-anchor="start" font-weight="normal" fill="#231f20" >Shared protein domains</text>
<rect x="218.70" y="674.20" width="9.40" height="9.40" fill="#f5bf84"/>
<text transform="translate(231.50,681.46) scale(1.100,1)" font-size="7.1" text-anchor="start" font-weight="normal" fill="#231f20" >Predicted</text>
<rect x="218.70" y="689.95" width="9.40" height="9.40" fill="#9ad6de"/>
<text transform="translate(231.50,697.21) scale(1.100,1)" font-size="7.1" text-anchor="start" font-weight="normal" fill="#231f20" >Pathway</text>
<rect x="218.70" y="705.70" width="9.40" height="9.40" fill="#8fd88f"/>
<text transform="translate(231.50,712.96) scale(1.100,1)" font-size="7.1" text-anchor="start" font-weight="normal" fill="#231f20" >Genetic interactions</text>
<text x="338.40" y="624.00" font-size="16" font-weight="bold" fill="#000" stroke="#000" stroke-width="0.35">g</text>
<text x="344.60" y="646.25" font-size="8.2" text-anchor="start" font-weight="normal" fill="#231f20" >NES</text>
<defs><linearGradient id="gG" x1="0" y1="0" x2="0" y2="1"><stop offset="0" stop-color="#c8161c"/><stop offset="0.22" stop-color="#cc1f22"/><stop offset="0.3" stop-color="#d9432f"/><stop offset="0.38" stop-color="#f29c5b"/><stop offset="0.44" stop-color="#fde7a6"/><stop offset="0.5" stop-color="#fbfbf5"/><stop offset="0.56" stop-color="#dbeef5"/><stop offset="0.64" stop-color="#9cc6e0"/><stop offset="0.72" stop-color="#4a78b8"/><stop offset="1" stop-color="#3a62ac"/></linearGradient></defs>
<rect x="350.10" y="653.40" width="4.80" height="68.90" fill="url(#gG)"/>
<text x="357.30" y="657.36" font-size="7.4" text-anchor="start" font-weight="normal" fill="#231f20" >2</text>
<text x="357.30" y="673.36" font-size="7.4" text-anchor="start" font-weight="normal" fill="#231f20" >1</text>
<text x="357.30" y="690.56" font-size="7.4" text-anchor="start" font-weight="normal" fill="#231f20" >0</text>
<text x="357.30" y="707.26" font-size="7.4" text-anchor="start" font-weight="normal" fill="#231f20" >−1</text>
<text x="357.30" y="724.06" font-size="7.4" text-anchor="start" font-weight="normal" fill="#231f20" >−2</text>
<line x1="476.50" y1="616.90" x2="516.30" y2="620.30" stroke="#d1b6dc" stroke-width="3.0" stroke-opacity="0.85"/>
<line x1="476.50" y1="616.90" x2="572.20" y2="651.70" stroke="#d1b6dc" stroke-width="2.2" stroke-opacity="0.85"/>
<line x1="476.50" y1="616.90" x2="484.50" y2="653.30" stroke="#d1b6dc" stroke-width="3.0" stroke-opacity="0.85"/>
<line x1="476.50" y1="616.90" x2="434.10" y2="661.40" stroke="#d1b6dc" stroke-width="3.0" stroke-opacity="0.85"/>
<line x1="476.50" y1="616.90" x2="527.70" y2="671.10" stroke="#d1b6dc" stroke-width="2.2" stroke-opacity="0.85"/>
<line x1="476.50" y1="616.90" x2="435.40" y2="698.20" stroke="#d1b6dc" stroke-width="2.2" stroke-opacity="0.85"/>
<line x1="476.50" y1="616.90" x2="477.80" y2="698.60" stroke="#d1b6dc" stroke-width="2.2" stroke-opacity="0.85"/>
<line x1="476.50" y1="616.90" x2="536.60" y2="699.10" stroke="#d1b6dc" stroke-width="2.2" stroke-opacity="0.85"/>
<line x1="476.50" y1="616.90" x2="501.90" y2="724.50" stroke="#d1b6dc" stroke-width="1.4" stroke-opacity="0.85"/>
<line x1="516.30" y1="620.30" x2="572.20" y2="651.70" stroke="#d1b6dc" stroke-width="3.0" stroke-opacity="0.85"/>
<line x1="516.30" y1="620.30" x2="484.50" y2="653.30" stroke="#d1b6dc" stroke-width="3.0" stroke-opacity="0.85"/>
<line x1="516.30" y1="620.30" x2="434.10" y2="661.40" stroke="#d1b6dc" stroke-width="2.2" stroke-opacity="0.85"/>
<line x1="516.30" y1="620.30" x2="527.70" y2="671.10" stroke="#d1b6dc" stroke-width="3.0" stroke-opacity="0.85"/>
<line x1="516.30" y1="620.30" x2="435.40" y2="698.20" stroke="#d1b6dc" stroke-width="1.4" stroke-opacity="0.85"/>
<line x1="516.30" y1="620.30" x2="477.80" y2="698.60" stroke="#d1b6dc" stroke-width="2.2" stroke-opacity="0.85"/>
<line x1="516.30" y1="620.30" x2="536.60" y2="699.10" stroke="#d1b6dc" stroke-width="2.2" stroke-opacity="0.85"/>
<line x1="516.30" y1="620.30" x2="501.90" y2="724.50" stroke="#d1b6dc" stroke-width="2.2" stroke-opacity="0.85"/>
<line x1="516.30" y1="620.30" x2="569.60" y2="727.00" stroke="#d1b6dc" stroke-width="1.4" stroke-opacity="0.85"/>
<line x1="572.20" y1="651.70" x2="484.50" y2="653.30" stroke="#d1b6dc" stroke-width="2.2" stroke-opacity="0.85"/>
<line x1="572.20" y1="651.70" x2="527.70" y2="671.10" stroke="#d1b6dc" stroke-width="3.0" stroke-opacity="0.85"/>
<line x1="572.20" y1="651.70" x2="477.80" y2="698.60" stroke="#d1b6dc" stroke-width="2.2" stroke-opacity="0.85"/>
<line x1="572.20" y1="651.70" x2="536.60" y2="699.10" stroke="#d1b6dc" stroke-width="3.0" stroke-opacity="0.85"/>
<line x1="572.20" y1="651.70" x2="501.90" y2="724.50" stroke="#d1b6dc" stroke-width="2.2" stroke-opacity="0.85"/>
<line x1="572.20" y1="651.70" x2="569.60" y2="727.00" stroke="#d1b6dc" stroke-width="2.2" stroke-opacity="0.85"/>
<line x1="484.50" y1="653.30" x2="434.10" y2="661.40" stroke="#d1b6dc" stroke-width="3.0" stroke-opacity="0.85"/>
<line x1="484.50" y1="653.30" x2="527.70" y2="671.10" stroke="#d1b6dc" stroke-width="3.0" stroke-opacity="0.85"/>
<line x1="484.50" y1="653.30" x2="435.40" y2="698.20" stroke="#d1b6dc" stroke-width="3.0" stroke-opacity="0.85"/>
<line x1="484.50" y1="653.30" x2="477.80" y2="698.60" stroke="#d1b6dc" stroke-width="3.0" stroke-opacity="0.85"/>
<line x1="484.50" y1="653.30" x2="536.60" y2="699.10" stroke="#d1b6dc" stroke-width="3.0" stroke-opacity="0.85"/>
<line x1="484.50" y1="653.30" x2="501.90" y2="724.50" stroke="#d1b6dc" stroke-width="2.2" stroke-opacity="0.85"/>
<line x1="484.50" y1="653.30" x2="569.60" y2="727.00" stroke="#d1b6dc" stroke-width="1.4" stroke-opacity="0.85"/>
<line x1="434.10" y1="661.40" x2="527.70" y2="671.10" stroke="#d1b6dc" stroke-width="2.2" stroke-opacity="0.85"/>
<line x1="434.10" y1="661.40" x2="435.40" y2="698.20" stroke="#d1b6dc" stroke-width="3.0" stroke-opacity="0.85"/>
<line x1="434.10" y1="661.40" x2="477.80" y2="698.60" stroke="#d1b6dc" stroke-width="3.0" stroke-opacity="0.85"/>
<line x1="434.10" y1="661.40" x2="536.60" y2="699.10" stroke="#d1b6dc" stroke-width="2.2" stroke-opacity="0.85"/>
<line x1="434.10" y1="661.40" x2="501.90" y2="724.50" stroke="#d1b6dc" stroke-width="2.2" stroke-opacity="0.85"/>
<line x1="527.70" y1="671.10" x2="435.40" y2="698.20" stroke="#d1b6dc" stroke-width="2.2" stroke-opacity="0.85"/>
<line x1="527.70" y1="671.10" x2="477.80" y2="698.60" stroke="#d1b6dc" stroke-width="3.0" stroke-opacity="0.85"/>
<line x1="527.70" y1="671.10" x2="536.60" y2="699.10" stroke="#d1b6dc" stroke-width="3.0" stroke-opacity="0.85"/>
<line x1="527.70" y1="671.10" x2="501.90" y2="724.50" stroke="#d1b6dc" stroke-width="3.0" stroke-opacity="0.85"/>
<line x1="527.70" y1="671.10" x2="569.60" y2="727.00" stroke="#d1b6dc" stroke-width="3.0" stroke-opacity="0.85"/>
<line x1="435.40" y1="698.20" x2="477.80" y2="698.60" stroke="#d1b6dc" stroke-width="3.0" stroke-opacity="0.85"/>
<line x1="435.40" y1="698.20" x2="501.90" y2="724.50" stroke="#d1b6dc" stroke-width="2.2" stroke-opacity="0.85"/>
<line x1="477.80" y1="698.60" x2="536.60" y2="699.10" stroke="#d1b6dc" stroke-width="3.0" stroke-opacity="0.85"/>
<line x1="477.80" y1="698.60" x2="501.90" y2="724.50" stroke="#d1b6dc" stroke-width="3.0" stroke-opacity="0.85"/>
<line x1="477.80" y1="698.60" x2="569.60" y2="727.00" stroke="#d1b6dc" stroke-width="2.2" stroke-opacity="0.85"/>
<line x1="536.60" y1="699.10" x2="501.90" y2="724.50" stroke="#d1b6dc" stroke-width="3.0" stroke-opacity="0.85"/>
<line x1="536.60" y1="699.10" x2="569.60" y2="727.00" stroke="#d1b6dc" stroke-width="3.0" stroke-opacity="0.85"/>
<line x1="501.90" y1="724.50" x2="569.60" y2="727.00" stroke="#d1b6dc" stroke-width="3.0" stroke-opacity="0.85"/>
<line x1="424.00" y1="617.80" x2="476.50" y2="616.90" stroke="#d1b6dc" stroke-width="1.2" />
<line x1="424.00" y1="617.80" x2="484.50" y2="653.30" stroke="#d1b6dc" stroke-width="0.8" />
<line x1="424.00" y1="617.80" x2="527.70" y2="671.10" stroke="#d1b6dc" stroke-width="0.6" />
<line x1="407.50" y1="730.40" x2="456.60" y2="740.10" stroke="#d1b6dc" stroke-width="1.0" />
<path d="M435.4,698.2 Q405,708 407.5,730.4" fill="none" stroke="#d5cf9d" stroke-width="3.2"/>
<path d="M477.8,698.6 Q507,710 536.6,699.1" fill="none" stroke="#d5cf9d" stroke-width="3.2"/>
<line x1="456.60" y1="740.10" x2="501.90" y2="724.50" stroke="#d5cf9d" stroke-width="1.1" />
<line x1="501.90" y1="724.50" x2="496.00" y2="757.10" stroke="#d5cf9d" stroke-width="1.1" />
<line x1="456.60" y1="740.10" x2="496.00" y2="757.10" stroke="#d5cf9d" stroke-width="1.1" />
<line x1="501.90" y1="724.50" x2="569.60" y2="727.00" stroke="#9eb1dc" stroke-width="0.8" />
<circle cx="424.00" cy="617.80" r="5.40" fill="#ea0a0b" stroke="#4a0000" stroke-width="0.6"/>
<circle cx="476.50" cy="616.90" r="5.40" fill="#ea0a0b" stroke="#4a0000" stroke-width="0.6"/>
<circle cx="516.30" cy="620.30" r="5.40" fill="#ea0a0b" stroke="#4a0000" stroke-width="0.6"/>
<circle cx="572.20" cy="651.70" r="5.40" fill="#ea0a0b" stroke="#4a0000" stroke-width="0.6"/>
<circle cx="484.50" cy="653.30" r="5.40" fill="#ea0a0b" stroke="#4a0000" stroke-width="0.6"/>
<circle cx="434.10" cy="661.40" r="5.40" fill="#ea0a0b" stroke="#4a0000" stroke-width="0.6"/>
<circle cx="527.70" cy="671.10" r="5.40" fill="#ea0a0b" stroke="#4a0000" stroke-width="0.6"/>
<circle cx="435.40" cy="698.20" r="5.40" fill="#ea0a0b" stroke="#4a0000" stroke-width="0.6"/>
<circle cx="477.80" cy="698.60" r="5.40" fill="#ea0a0b" stroke="#4a0000" stroke-width="0.6"/>
<circle cx="536.60" cy="699.10" r="5.40" fill="#ea0a0b" stroke="#4a0000" stroke-width="0.6"/>
<circle cx="501.90" cy="724.50" r="5.40" fill="#ea0a0b" stroke="#4a0000" stroke-width="0.6"/>
<circle cx="569.60" cy="727.00" r="5.40" fill="#ea0a0b" stroke="#4a0000" stroke-width="0.6"/>
<circle cx="407.50" cy="730.40" r="5.40" fill="#ea0a0b" stroke="#4a0000" stroke-width="0.6"/>
<circle cx="456.60" cy="740.10" r="5.40" fill="#ea0a0b" stroke="#4a0000" stroke-width="0.6"/>
<circle cx="496.00" cy="757.10" r="5.40" fill="#ea0a0b" stroke="#4a0000" stroke-width="0.6"/>
<text transform="translate(422.30,633.96) scale(1.040,1)" font-size="9.6" text-anchor="middle" font-weight="normal" fill="#231f20" >TNFRSF10A</text>
<text transform="translate(476.00,633.96) scale(1.040,1)" font-size="9.6" text-anchor="middle" font-weight="normal" fill="#231f20" >HERC5</text>
<text transform="translate(516.30,636.46) scale(1.040,1)" font-size="9.6" text-anchor="middle" font-weight="normal" fill="#231f20" >MX2</text>
<text transform="translate(572.20,667.86) scale(1.040,1)" font-size="9.6" text-anchor="middle" font-weight="normal" fill="#231f20" >BST2</text>
<text transform="translate(484.10,669.96) scale(1.040,1)" font-size="9.6" text-anchor="middle" font-weight="normal" fill="#231f20" >RSAD2</text>
<text transform="translate(433.70,677.56) scale(1.040,1)" font-size="9.6" text-anchor="middle" font-weight="normal" fill="#231f20" >SAMHD1</text>
<text transform="translate(527.30,687.26) scale(1.040,1)" font-size="9.6" text-anchor="middle" font-weight="normal" fill="#231f20" >EIF2AK2</text>
<text transform="translate(431.60,714.76) scale(1.040,1)" font-size="9.6" text-anchor="middle" font-weight="normal" fill="#231f20" >APOBEC3A</text>
<text transform="translate(477.80,714.76) scale(1.040,1)" font-size="9.6" text-anchor="middle" font-weight="normal" fill="#231f20" >IRF7</text>
<text transform="translate(536.20,714.76) scale(1.040,1)" font-size="9.6" text-anchor="middle" font-weight="normal" fill="#231f20" >IRF1</text>
<text transform="translate(501.90,740.66) scale(1.040,1)" font-size="9.6" text-anchor="middle" font-weight="normal" fill="#231f20" >TRIM5</text>
<text transform="translate(569.60,743.16) scale(1.040,1)" font-size="9.6" text-anchor="middle" font-weight="normal" fill="#231f20" >MOV10</text>
<text transform="translate(406.20,746.56) scale(1.040,1)" font-size="9.6" text-anchor="middle" font-weight="normal" fill="#231f20" >APOBEC3B</text>
<text transform="translate(456.60,756.76) scale(1.040,1)" font-size="9.6" text-anchor="middle" font-weight="normal" fill="#231f20" >TRIM9</text>
<text transform="translate(496.00,772.76) scale(1.040,1)" font-size="9.6" text-anchor="middle" font-weight="normal" fill="#231f20" >TRIM7</text>
<text x="-0.60" y="834.80" font-size="16" font-weight="bold" fill="#000" stroke="#000" stroke-width="0.35">h</text>
<text transform="translate(46.50,888.31) scale(1.060,1)" font-size="9.2" text-anchor="middle" font-weight="normal" fill="#231f20" >Untreated</text>
<circle cx="38.50" cy="897.00" r="6.90" fill="#e6e6e6" stroke="#d6d6d6" stroke-width="0.5"/>
<circle cx="38.80" cy="897.40" r="4.60" fill="#cdcdcd"/>
<circle cx="48.80" cy="896.20" r="6.90" fill="#e6e6e6" stroke="#d6d6d6" stroke-width="0.5"/>
<circle cx="49.10" cy="896.60" r="4.60" fill="#cdcdcd"/>
<circle cx="44.50" cy="901.80" r="6.90" fill="#e6e6e6" stroke="#d6d6d6" stroke-width="0.5"/>
<circle cx="44.80" cy="902.20" r="4.60" fill="#cdcdcd"/>
<circle cx="36.40" cy="908.20" r="6.90" fill="#e6e6e6" stroke="#d6d6d6" stroke-width="0.5"/>
<circle cx="36.70" cy="908.60" r="4.60" fill="#cdcdcd"/>
<circle cx="56.10" cy="905.70" r="6.90" fill="#e6e6e6" stroke="#d6d6d6" stroke-width="0.5"/>
<circle cx="56.40" cy="906.10" r="4.60" fill="#cdcdcd"/>
<circle cx="46.20" cy="913.00" r="6.90" fill="#e6e6e6" stroke="#d6d6d6" stroke-width="0.5"/>
<circle cx="46.50" cy="913.40" r="4.60" fill="#cdcdcd"/>
<text transform="translate(46.30,935.91) scale(1.060,1)" font-size="9.2" text-anchor="middle" font-weight="normal" fill="#231f20" >IFN-β treated</text>
<circle cx="38.50" cy="945.40" r="6.90" fill="#d3e6f1" stroke="#c4dcea" stroke-width="0.5"/>
<circle cx="38.80" cy="945.80" r="4.60" fill="#b5d4e6"/>
<circle cx="48.80" cy="944.60" r="6.90" fill="#d3e6f1" stroke="#c4dcea" stroke-width="0.5"/>
<circle cx="49.10" cy="945.00" r="4.60" fill="#b5d4e6"/>
<circle cx="44.50" cy="950.20" r="6.90" fill="#d3e6f1" stroke="#c4dcea" stroke-width="0.5"/>
<circle cx="44.80" cy="950.60" r="4.60" fill="#b5d4e6"/>
<circle cx="36.40" cy="956.60" r="6.90" fill="#d3e6f1" stroke="#c4dcea" stroke-width="0.5"/>
<circle cx="36.70" cy="957.00" r="4.60" fill="#b5d4e6"/>
<circle cx="56.10" cy="954.10" r="6.90" fill="#d3e6f1" stroke="#c4dcea" stroke-width="0.5"/>
<circle cx="56.40" cy="954.50" r="4.60" fill="#b5d4e6"/>
<circle cx="46.20" cy="961.40" r="6.90" fill="#d3e6f1" stroke="#c4dcea" stroke-width="0.5"/>
<circle cx="46.50" cy="961.80" r="4.60" fill="#b5d4e6"/>
<text transform="translate(12.9,949.6) rotate(-90)" font-size="9.2" fill="#231f20">CD4<tspan font-size="5" dy="-3.5">+</tspan><tspan dy="3.5"> T cells</tspan></text>
<path d="M76.5,885.2 H84.7 V967.2 H76.5 M84.7,926 H90.5 L138.7,891 M90.5,926 L138.7,962.8" fill="none" stroke="#231f20" stroke-width="1.1"/>
<circle cx="146.68" cy="882.38" r="5.66" fill="#e6e6e6" stroke="#d6d6d6" stroke-width="0.5"/>
<circle cx="146.98" cy="882.78" r="3.77" fill="#cdcdcd"/>
<circle cx="155.13" cy="881.73" r="5.66" fill="#e6e6e6" stroke="#d6d6d6" stroke-width="0.5"/>
<circle cx="155.43" cy="882.13" r="3.77" fill="#cdcdcd"/>
<circle cx="151.60" cy="886.32" r="5.66" fill="#e6e6e6" stroke="#d6d6d6" stroke-width="0.5"/>
<circle cx="151.90" cy="886.72" r="3.77" fill="#cdcdcd"/>
<circle cx="144.96" cy="891.57" r="5.66" fill="#e6e6e6" stroke="#d6d6d6" stroke-width="0.5"/>
<circle cx="145.26" cy="891.97" r="3.77" fill="#cdcdcd"/>
<circle cx="161.11" cy="889.52" r="5.66" fill="#e6e6e6" stroke="#d6d6d6" stroke-width="0.5"/>
<circle cx="161.41" cy="889.92" r="3.77" fill="#cdcdcd"/>
<circle cx="152.99" cy="895.50" r="5.66" fill="#e6e6e6" stroke="#d6d6d6" stroke-width="0.5"/>
<circle cx="153.29" cy="895.90" r="3.77" fill="#cdcdcd"/>
<path d="M157.25,882.03L158.94,882.55M156.23,883.37L157.19,884.86M154.59,883.74L154.37,885.50M153.10,882.97L151.80,884.18M152.45,881.42L150.67,881.51M152.94,879.81L151.53,878.74M154.36,878.90L153.96,877.17M156.02,879.11L156.83,877.54M157.16,880.35L158.80,879.66" stroke="#c24b40" stroke-width="0.9" stroke-linecap="round"/>
<circle cx="154.90" cy="881.30" r="2.73" fill="#da7f68" stroke="#c55a4c" stroke-width="0.4"/>
<path d="M162.15,891.93L163.84,892.45M161.13,893.27L162.09,894.76M159.49,893.64L159.27,895.40M158.00,892.87L156.70,894.08M157.35,891.32L155.57,891.41M157.84,889.71L156.43,888.64M159.26,888.80L158.86,887.07M160.92,889.01L161.73,887.44M162.06,890.25L163.70,889.56" stroke="#c24b40" stroke-width="0.9" stroke-linecap="round"/>
<circle cx="159.80" cy="891.20" r="2.73" fill="#da7f68" stroke="#c55a4c" stroke-width="0.4"/>
<path d="M147.85,897.33L149.54,897.85M146.83,898.67L147.79,900.16M145.19,899.04L144.97,900.80M143.70,898.27L142.40,899.48M143.05,896.72L141.27,896.81M143.54,895.11L142.13,894.04M144.96,894.20L144.56,892.47M146.62,894.41L147.43,892.84M147.76,895.65L149.40,894.96" stroke="#c24b40" stroke-width="0.9" stroke-linecap="round"/>
<circle cx="145.50" cy="896.60" r="2.73" fill="#da7f68" stroke="#c55a4c" stroke-width="0.4"/>
<path d="M181.53,891.68L183.35,892.25M180.43,893.12L181.47,894.73M178.67,893.53L178.43,895.42M177.06,892.70L175.66,894.00M176.36,891.03L174.45,891.12M176.89,889.30L175.37,888.15M178.41,888.32L177.99,886.46M180.21,888.55L181.08,886.85M181.44,889.87L183.20,889.13" stroke="#c24b40" stroke-width="0.9" stroke-linecap="round"/>
<circle cx="179.00" cy="890.90" r="2.94" fill="#da7f68" stroke="#c55a4c" stroke-width="0.4"/>
<circle cx="196.98" cy="882.38" r="5.66" fill="#d3e6f1" stroke="#c4dcea" stroke-width="0.5"/>
<circle cx="197.28" cy="882.78" r="3.77" fill="#b5d4e6"/>
<circle cx="205.43" cy="881.73" r="5.66" fill="#d3e6f1" stroke="#c4dcea" stroke-width="0.5"/>
<circle cx="205.73" cy="882.13" r="3.77" fill="#b5d4e6"/>
<circle cx="201.90" cy="886.32" r="5.66" fill="#d3e6f1" stroke="#c4dcea" stroke-width="0.5"/>
<circle cx="202.20" cy="886.72" r="3.77" fill="#b5d4e6"/>
<circle cx="195.26" cy="891.57" r="5.66" fill="#d3e6f1" stroke="#c4dcea" stroke-width="0.5"/>
<circle cx="195.56" cy="891.97" r="3.77" fill="#b5d4e6"/>
<circle cx="211.41" cy="889.52" r="5.66" fill="#d3e6f1" stroke="#c4dcea" stroke-width="0.5"/>
<circle cx="211.71" cy="889.92" r="3.77" fill="#b5d4e6"/>
<circle cx="203.29" cy="895.50" r="5.66" fill="#d3e6f1" stroke="#c4dcea" stroke-width="0.5"/>
<circle cx="203.59" cy="895.90" r="3.77" fill="#b5d4e6"/>
<path d="M198.75,882.43L200.44,882.95M197.73,883.77L198.69,885.26M196.09,884.14L195.87,885.90M194.60,883.37L193.30,884.58M193.95,881.82L192.17,881.91M194.44,880.21L193.03,879.14M195.86,879.30L195.46,877.57M197.52,879.51L198.33,877.94M198.66,880.75L200.30,880.06" stroke="#c24b40" stroke-width="0.9" stroke-linecap="round"/>
<circle cx="196.40" cy="881.70" r="2.73" fill="#da7f68" stroke="#c55a4c" stroke-width="0.4"/>
<path d="M215.75,886.33L217.44,886.85M214.73,887.67L215.69,889.16M213.09,888.04L212.87,889.80M211.60,887.27L210.30,888.48M210.95,885.72L209.17,885.81M211.44,884.11L210.03,883.04M212.86,883.20L212.46,881.47M214.52,883.41L215.33,881.84M215.66,884.65L217.30,883.96" stroke="#c24b40" stroke-width="0.9" stroke-linecap="round"/>
<circle cx="213.40" cy="885.60" r="2.73" fill="#da7f68" stroke="#c55a4c" stroke-width="0.4"/>
<path d="M198.15,893.83L199.84,894.35M197.13,895.17L198.09,896.66M195.49,895.54L195.27,897.30M194.00,894.77L192.70,895.98M193.35,893.22L191.57,893.31M193.84,891.61L192.43,890.54M195.26,890.70L194.86,888.97M196.92,890.91L197.73,889.34M198.06,892.15L199.70,891.46" stroke="#c24b40" stroke-width="0.9" stroke-linecap="round"/>
<circle cx="195.80" cy="893.10" r="2.73" fill="#da7f68" stroke="#c55a4c" stroke-width="0.4"/>
<text transform="translate(180.20,914.21) scale(1.060,1)" font-size="9.2" text-anchor="middle" font-weight="normal" fill="#231f20" >HIV-infected</text>
<circle cx="147.70" cy="952.08" r="5.52" fill="#e6e6e6" stroke="#d6d6d6" stroke-width="0.5"/>
<circle cx="148.00" cy="952.48" r="3.68" fill="#cdcdcd"/>
<circle cx="155.94" cy="951.44" r="5.52" fill="#e6e6e6" stroke="#d6d6d6" stroke-width="0.5"/>
<circle cx="156.24" cy="951.84" r="3.68" fill="#cdcdcd"/>
<circle cx="152.50" cy="955.92" r="5.52" fill="#e6e6e6" stroke="#d6d6d6" stroke-width="0.5"/>
<circle cx="152.80" cy="956.32" r="3.68" fill="#cdcdcd"/>
<circle cx="146.02" cy="961.04" r="5.52" fill="#e6e6e6" stroke="#d6d6d6" stroke-width="0.5"/>
<circle cx="146.32" cy="961.44" r="3.68" fill="#cdcdcd"/>
<circle cx="161.78" cy="959.04" r="5.52" fill="#e6e6e6" stroke="#d6d6d6" stroke-width="0.5"/>
<circle cx="162.08" cy="959.44" r="3.68" fill="#cdcdcd"/>
<circle cx="153.86" cy="964.88" r="5.52" fill="#e6e6e6" stroke="#d6d6d6" stroke-width="0.5"/>
<circle cx="154.16" cy="965.28" r="3.68" fill="#cdcdcd"/>
<circle cx="197.50" cy="952.08" r="5.52" fill="#d3e6f1" stroke="#c4dcea" stroke-width="0.5"/>
<circle cx="197.80" cy="952.48" r="3.68" fill="#b5d4e6"/>
<circle cx="205.74" cy="951.44" r="5.52" fill="#d3e6f1" stroke="#c4dcea" stroke-width="0.5"/>
<circle cx="206.04" cy="951.84" r="3.68" fill="#b5d4e6"/>
<circle cx="202.30" cy="955.92" r="5.52" fill="#d3e6f1" stroke="#c4dcea" stroke-width="0.5"/>
<circle cx="202.60" cy="956.32" r="3.68" fill="#b5d4e6"/>
<circle cx="195.82" cy="961.04" r="5.52" fill="#d3e6f1" stroke="#c4dcea" stroke-width="0.5"/>
<circle cx="196.12" cy="961.44" r="3.68" fill="#b5d4e6"/>
<circle cx="211.58" cy="959.04" r="5.52" fill="#d3e6f1" stroke="#c4dcea" stroke-width="0.5"/>
<circle cx="211.88" cy="959.44" r="3.68" fill="#b5d4e6"/>
<circle cx="203.66" cy="964.88" r="5.52" fill="#d3e6f1" stroke="#c4dcea" stroke-width="0.5"/>
<circle cx="203.96" cy="965.28" r="3.68" fill="#b5d4e6"/>
<text transform="translate(179.00,981.21) scale(1.060,1)" font-size="9.2" text-anchor="middle" font-weight="normal" fill="#231f20" >Bystander CTV</text>
<text transform="translate(180.20,991.51) scale(1.060,1)" font-size="9.2" text-anchor="middle" font-weight="normal" fill="#231f20" >labeled</text>
<path d="M228.1,893.4 L271.3,925.6 L228.1,958.3" fill="none" stroke="#231f20" stroke-width="1.1"/>
<text transform="translate(237.30,925.91) scale(1.060,1)" font-size="9.2" text-anchor="middle" font-weight="normal" fill="#231f20" >Co-culture</text>
<text transform="translate(238.60,935.91) scale(1.060,1)" font-size="9.2" text-anchor="middle" font-weight="normal" fill="#231f20" >4 days</text>
<circle cx="283.78" cy="883.48" r="5.66" fill="#e6e6e6" stroke="#d6d6d6" stroke-width="0.5"/>
<circle cx="284.08" cy="883.88" r="3.77" fill="#cdcdcd"/>
<circle cx="292.23" cy="882.83" r="5.66" fill="#e6e6e6" stroke="#d6d6d6" stroke-width="0.5"/>
<circle cx="292.53" cy="883.23" r="3.77" fill="#cdcdcd"/>
<circle cx="288.70" cy="887.42" r="5.66" fill="#e6e6e6" stroke="#d6d6d6" stroke-width="0.5"/>
<circle cx="289.00" cy="887.82" r="3.77" fill="#cdcdcd"/>
<circle cx="282.06" cy="892.67" r="5.66" fill="#e6e6e6" stroke="#d6d6d6" stroke-width="0.5"/>
<circle cx="282.36" cy="893.07" r="3.77" fill="#cdcdcd"/>
<circle cx="298.21" cy="890.62" r="5.66" fill="#e6e6e6" stroke="#d6d6d6" stroke-width="0.5"/>
<circle cx="298.51" cy="891.02" r="3.77" fill="#cdcdcd"/>
<circle cx="290.09" cy="896.60" r="5.66" fill="#e6e6e6" stroke="#d6d6d6" stroke-width="0.5"/>
<circle cx="290.39" cy="897.00" r="3.77" fill="#cdcdcd"/>
<path d="M292.40,882.89L293.77,883.31M291.58,883.97L292.35,885.17M290.25,884.27L290.07,885.69M289.04,883.65L287.99,884.62M288.52,882.40L287.09,882.47M288.92,881.10L287.78,880.23M290.06,880.36L289.74,878.97M291.41,880.53L292.06,879.26M292.33,881.53L293.65,880.97" stroke="#c24b40" stroke-width="0.9" stroke-linecap="round"/>
<circle cx="290.50" cy="882.30" r="2.21" fill="#da7f68" stroke="#c55a4c" stroke-width="0.4"/>
<path d="M301.90,890.89L303.27,891.31M301.08,891.97L301.85,893.17M299.75,892.27L299.57,893.69M298.54,891.65L297.49,892.62M298.02,890.40L296.59,890.47M298.42,889.10L297.28,888.23M299.56,888.36L299.24,886.97M300.91,888.53L301.56,887.26M301.83,889.53L303.15,888.97" stroke="#c24b40" stroke-width="0.9" stroke-linecap="round"/>
<circle cx="300.00" cy="890.30" r="2.21" fill="#da7f68" stroke="#c55a4c" stroke-width="0.4"/>
<path d="M299.40,898.59L300.77,899.01M298.58,899.67L299.35,900.87M297.25,899.97L297.07,901.39M296.04,899.35L294.99,900.32M295.52,898.10L294.09,898.17M295.92,896.80L294.78,895.93M297.06,896.06L296.74,894.67M298.41,896.23L299.06,894.96M299.33,897.23L300.65,896.67" stroke="#c24b40" stroke-width="0.9" stroke-linecap="round"/>
<circle cx="297.50" cy="898.00" r="2.21" fill="#da7f68" stroke="#c55a4c" stroke-width="0.4"/>
<text x="307.90" y="895.46" font-size="6.0" text-anchor="middle" font-weight="normal" fill="#231f20" >+</text>
<circle cx="318.78" cy="883.48" r="5.66" fill="#e6e6e6" stroke="#d6d6d6" stroke-width="0.5"/>
<circle cx="319.08" cy="883.88" r="3.77" fill="#cdcdcd"/>
<circle cx="327.23" cy="882.83" r="5.66" fill="#e6e6e6" stroke="#d6d6d6" stroke-width="0.5"/>
<circle cx="327.53" cy="883.23" r="3.77" fill="#cdcdcd"/>
<circle cx="323.70" cy="887.42" r="5.66" fill="#e6e6e6" stroke="#d6d6d6" stroke-width="0.5"/>
<circle cx="324.00" cy="887.82" r="3.77" fill="#cdcdcd"/>
<circle cx="317.06" cy="892.67" r="5.66" fill="#e6e6e6" stroke="#d6d6d6" stroke-width="0.5"/>
<circle cx="317.36" cy="893.07" r="3.77" fill="#cdcdcd"/>
<circle cx="333.21" cy="890.62" r="5.66" fill="#e6e6e6" stroke="#d6d6d6" stroke-width="0.5"/>
<circle cx="333.51" cy="891.02" r="3.77" fill="#cdcdcd"/>
<circle cx="325.09" cy="896.60" r="5.66" fill="#e6e6e6" stroke="#d6d6d6" stroke-width="0.5"/>
<circle cx="325.39" cy="897.00" r="3.77" fill="#cdcdcd"/>
<text transform="translate(348.00,893.36) scale(1.060,1)" font-size="9.6" text-anchor="start" font-weight="normal" fill="#231f20" >i</text>
<circle cx="283.78" cy="917.38" r="5.66" fill="#d3e6f1" stroke="#c4dcea" stroke-width="0.5"/>
<circle cx="284.08" cy="917.78" r="3.77" fill="#b5d4e6"/>
<circle cx="292.23" cy="916.73" r="5.66" fill="#d3e6f1" stroke="#c4dcea" stroke-width="0.5"/>
<circle cx="292.53" cy="917.13" r="3.77" fill="#b5d4e6"/>
<circle cx="288.70" cy="921.32" r="5.66" fill="#d3e6f1" stroke="#c4dcea" stroke-width="0.5"/>
<circle cx="289.00" cy="921.72" r="3.77" fill="#b5d4e6"/>
<circle cx="282.06" cy="926.57" r="5.66" fill="#d3e6f1" stroke="#c4dcea" stroke-width="0.5"/>
<circle cx="282.36" cy="926.97" r="3.77" fill="#b5d4e6"/>
<circle cx="298.21" cy="924.52" r="5.66" fill="#d3e6f1" stroke="#c4dcea" stroke-width="0.5"/>
<circle cx="298.51" cy="924.92" r="3.77" fill="#b5d4e6"/>
<circle cx="290.09" cy="930.50" r="5.66" fill="#d3e6f1" stroke="#c4dcea" stroke-width="0.5"/>
<circle cx="290.39" cy="930.90" r="3.77" fill="#b5d4e6"/>
<path d="M292.40,916.79L293.77,917.21M291.58,917.87L292.35,919.07M290.25,918.17L290.07,919.59M289.04,917.55L287.99,918.52M288.52,916.30L287.09,916.37M288.92,915.00L287.78,914.13M290.06,914.26L289.74,912.87M291.41,914.43L292.06,913.16M292.33,915.43L293.65,914.87" stroke="#c24b40" stroke-width="0.9" stroke-linecap="round"/>
<circle cx="290.50" cy="916.20" r="2.21" fill="#da7f68" stroke="#c55a4c" stroke-width="0.4"/>
<path d="M301.90,924.79L303.27,925.21M301.08,925.87L301.85,927.07M299.75,926.17L299.57,927.59M298.54,925.55L297.49,926.52M298.02,924.30L296.59,924.37M298.42,923.00L297.28,922.13M299.56,922.26L299.24,920.87M300.91,922.43L301.56,921.16M301.83,923.43L303.15,922.87" stroke="#c24b40" stroke-width="0.9" stroke-linecap="round"/>
<circle cx="300.00" cy="924.20" r="2.21" fill="#da7f68" stroke="#c55a4c" stroke-width="0.4"/>
<path d="M299.40,932.49L300.77,932.91M298.58,933.57L299.35,934.77M297.25,933.87L297.07,935.29M296.04,933.25L294.99,934.22M295.52,932.00L294.09,932.07M295.92,930.70L294.78,929.83M297.06,929.96L296.74,928.57M298.41,930.13L299.06,928.86M299.33,931.13L300.65,930.57" stroke="#c24b40" stroke-width="0.9" stroke-linecap="round"/>
<circle cx="297.50" cy="931.90" r="2.21" fill="#da7f68" stroke="#c55a4c" stroke-width="0.4"/>
<text x="309.50" y="929.36" font-size="6.0" text-anchor="middle" font-weight="normal" fill="#231f20" >+</text>
<circle cx="320.68" cy="917.38" r="5.66" fill="#e6e6e6" stroke="#d6d6d6" stroke-width="0.5"/>
<circle cx="320.98" cy="917.78" r="3.77" fill="#cdcdcd"/>
<circle cx="329.13" cy="916.73" r="5.66" fill="#e6e6e6" stroke="#d6d6d6" stroke-width="0.5"/>
<circle cx="329.43" cy="917.13" r="3.77" fill="#cdcdcd"/>
<circle cx="325.60" cy="921.32" r="5.66" fill="#e6e6e6" stroke="#d6d6d6" stroke-width="0.5"/>
<circle cx="325.90" cy="921.72" r="3.77" fill="#cdcdcd"/>
<circle cx="318.96" cy="926.57" r="5.66" fill="#e6e6e6" stroke="#d6d6d6" stroke-width="0.5"/>
<circle cx="319.26" cy="926.97" r="3.77" fill="#cdcdcd"/>
<circle cx="335.11" cy="924.52" r="5.66" fill="#e6e6e6" stroke="#d6d6d6" stroke-width="0.5"/>
<circle cx="335.41" cy="924.92" r="3.77" fill="#cdcdcd"/>
<circle cx="326.99" cy="930.50" r="5.66" fill="#e6e6e6" stroke="#d6d6d6" stroke-width="0.5"/>
<circle cx="327.29" cy="930.90" r="3.77" fill="#cdcdcd"/>
<text transform="translate(348.00,929.06) scale(1.060,1)" font-size="9.6" text-anchor="start" font-weight="normal" fill="#231f20" >ii</text>
<circle cx="286.08" cy="950.08" r="5.66" fill="#e6e6e6" stroke="#d6d6d6" stroke-width="0.5"/>
<circle cx="286.38" cy="950.48" r="3.77" fill="#cdcdcd"/>
<circle cx="294.53" cy="949.43" r="5.66" fill="#e6e6e6" stroke="#d6d6d6" stroke-width="0.5"/>
<circle cx="294.83" cy="949.83" r="3.77" fill="#cdcdcd"/>
<circle cx="291.00" cy="954.02" r="5.66" fill="#e6e6e6" stroke="#d6d6d6" stroke-width="0.5"/>
<circle cx="291.30" cy="954.42" r="3.77" fill="#cdcdcd"/>
<circle cx="284.36" cy="959.27" r="5.66" fill="#e6e6e6" stroke="#d6d6d6" stroke-width="0.5"/>
<circle cx="284.66" cy="959.67" r="3.77" fill="#cdcdcd"/>
<circle cx="300.51" cy="957.22" r="5.66" fill="#e6e6e6" stroke="#d6d6d6" stroke-width="0.5"/>
<circle cx="300.81" cy="957.62" r="3.77" fill="#cdcdcd"/>
<circle cx="292.39" cy="963.20" r="5.66" fill="#e6e6e6" stroke="#d6d6d6" stroke-width="0.5"/>
<circle cx="292.69" cy="963.60" r="3.77" fill="#cdcdcd"/>
<path d="M294.70,949.49L296.07,949.91M293.88,950.57L294.65,951.77M292.55,950.87L292.37,952.29M291.34,950.25L290.29,951.22M290.82,949.00L289.39,949.07M291.22,947.70L290.08,946.83M292.36,946.96L292.04,945.57M293.71,947.13L294.36,945.86M294.63,948.13L295.95,947.57" stroke="#c24b40" stroke-width="0.9" stroke-linecap="round"/>
<circle cx="292.80" cy="948.90" r="2.21" fill="#da7f68" stroke="#c55a4c" stroke-width="0.4"/>
<path d="M304.20,957.49L305.57,957.91M303.38,958.57L304.15,959.77M302.05,958.87L301.87,960.29M300.84,958.25L299.79,959.22M300.32,957.00L298.89,957.07M300.72,955.70L299.58,954.83M301.86,954.96L301.54,953.57M303.21,955.13L303.86,953.86M304.13,956.13L305.45,955.57" stroke="#c24b40" stroke-width="0.9" stroke-linecap="round"/>
<circle cx="302.30" cy="956.90" r="2.21" fill="#da7f68" stroke="#c55a4c" stroke-width="0.4"/>
<path d="M301.70,965.19L303.07,965.61M300.88,966.27L301.65,967.47M299.55,966.57L299.37,967.99M298.34,965.95L297.29,966.92M297.82,964.70L296.39,964.77M298.22,963.40L297.08,962.53M299.36,962.66L299.04,961.27M300.71,962.83L301.36,961.56M301.63,963.83L302.95,963.27" stroke="#c24b40" stroke-width="0.9" stroke-linecap="round"/>
<circle cx="299.80" cy="964.60" r="2.21" fill="#da7f68" stroke="#c55a4c" stroke-width="0.4"/>
<text x="309.50" y="962.06" font-size="6.0" text-anchor="middle" font-weight="normal" fill="#231f20" >+</text>
<circle cx="321.08" cy="950.08" r="5.66" fill="#d3e6f1" stroke="#c4dcea" stroke-width="0.5"/>
<circle cx="321.38" cy="950.48" r="3.77" fill="#b5d4e6"/>
<circle cx="329.53" cy="949.43" r="5.66" fill="#d3e6f1" stroke="#c4dcea" stroke-width="0.5"/>
<circle cx="329.83" cy="949.83" r="3.77" fill="#b5d4e6"/>
<circle cx="326.00" cy="954.02" r="5.66" fill="#d3e6f1" stroke="#c4dcea" stroke-width="0.5"/>
<circle cx="326.30" cy="954.42" r="3.77" fill="#b5d4e6"/>
<circle cx="319.36" cy="959.27" r="5.66" fill="#d3e6f1" stroke="#c4dcea" stroke-width="0.5"/>
<circle cx="319.66" cy="959.67" r="3.77" fill="#b5d4e6"/>
<circle cx="335.51" cy="957.22" r="5.66" fill="#d3e6f1" stroke="#c4dcea" stroke-width="0.5"/>
<circle cx="335.81" cy="957.62" r="3.77" fill="#b5d4e6"/>
<circle cx="327.39" cy="963.20" r="5.66" fill="#d3e6f1" stroke="#c4dcea" stroke-width="0.5"/>
<circle cx="327.69" cy="963.60" r="3.77" fill="#b5d4e6"/>
<text transform="translate(348.00,962.96) scale(1.060,1)" font-size="9.6" text-anchor="start" font-weight="normal" fill="#231f20" >iii</text>
<text transform="translate(312,983.6) scale(1.04,1)" font-size="9.2" text-anchor="middle" fill="#231f20">Evaluation of HIV<tspan font-size="5" dy="-3.5">+</tspan><tspan dy="3.5"> cells in</tspan></text>
<text x="313.7" y="994.8" font-size="9.2" text-anchor="middle" fill="#231f20">CTV<tspan font-size="5" dy="-3.5">−</tspan><tspan dy="3.5"> and CTV</tspan><tspan font-size="5" dy="-3.5">+</tspan><tspan dy="3.5"> cells</tspan></text>
<text x="415.90" y="833.80" font-size="16" font-weight="bold" fill="#000" stroke="#000" stroke-width="0.35">i</text>
<line x1="449.80" y1="857.00" x2="449.80" y2="980.00" stroke="#231f20" stroke-width="0.9" />
<line x1="446.80" y1="980.00" x2="449.80" y2="980.00" stroke="#231f20" stroke-width="0.9" />
<text x="439.00" y="983.24" font-size="9.0" text-anchor="middle" font-weight="normal" fill="#231f20" >0</text>
<line x1="446.80" y1="955.48" x2="449.80" y2="955.48" stroke="#231f20" stroke-width="0.9" />
<text x="439.00" y="958.72" font-size="9.0" text-anchor="middle" font-weight="normal" fill="#231f20" >1</text>
<line x1="446.80" y1="930.96" x2="449.80" y2="930.96" stroke="#231f20" stroke-width="0.9" />
<text x="439.00" y="934.20" font-size="9.0" text-anchor="middle" font-weight="normal" fill="#231f20" >2</text>
<line x1="446.80" y1="906.44" x2="449.80" y2="906.44" stroke="#231f20" stroke-width="0.9" />
<text x="439.00" y="909.68" font-size="9.0" text-anchor="middle" font-weight="normal" fill="#231f20" >3</text>
<line x1="446.80" y1="881.92" x2="449.80" y2="881.92" stroke="#231f20" stroke-width="0.9" />
<text x="439.00" y="885.16" font-size="9.0" text-anchor="middle" font-weight="normal" fill="#231f20" >4</text>
<line x1="446.80" y1="857.40" x2="449.80" y2="857.40" stroke="#231f20" stroke-width="0.9" />
<text x="439.00" y="860.64" font-size="9.0" text-anchor="middle" font-weight="normal" fill="#231f20" >5</text>
<line x1="449.80" y1="980.00" x2="612.70" y2="980.00" stroke="#231f20" stroke-width="0.9" />
<text transform="translate(425.3,919) rotate(-90)" font-size="11" text-anchor="middle" fill="#231f20" textLength="105" lengthAdjust="spacingAndGlyphs">Percentage p24 high</text>
<rect x="458.50" y="917.23" width="16.50" height="62.77" fill="#d3d3d3" stroke="#231f20" stroke-width="0.8"/>
<rect x="484.10" y="937.09" width="16.50" height="42.91" fill="#d3d3d3" stroke="#231f20" stroke-width="0.8"/>
<rect x="510.10" y="969.95" width="16.30" height="10.05" fill="#0a3ef2" stroke="#231f20" stroke-width="0.8"/>
<rect x="535.90" y="971.66" width="16.50" height="8.34" fill="#d3d3d3" stroke="#231f20" stroke-width="0.8"/>
<rect x="561.40" y="927.53" width="16.60" height="52.47" fill="#d3d3d3" stroke="#231f20" stroke-width="0.8"/>
<rect x="587.40" y="958.42" width="16.40" height="21.58" fill="#0a3ef2" stroke="#231f20" stroke-width="0.8"/>
<line x1="505.50" y1="857.00" x2="505.50" y2="980.00" stroke="#231f20" stroke-width="0.8" stroke-dasharray="3,2"/>
<line x1="557.00" y1="857.00" x2="557.00" y2="980.00" stroke="#231f20" stroke-width="0.8" stroke-dasharray="3,2"/>
<line x1="466.70" y1="927.28" x2="466.70" y2="907.42" stroke="#231f20" stroke-width="0.9" />
<line x1="462.50" y1="907.42" x2="470.90" y2="907.42" stroke="#231f20" stroke-width="0.9" />
<line x1="462.50" y1="927.28" x2="470.90" y2="927.28" stroke="#231f20" stroke-width="0.9" />
<line x1="492.40" y1="949.35" x2="492.40" y2="924.34" stroke="#231f20" stroke-width="0.9" />
<line x1="488.20" y1="924.34" x2="496.60" y2="924.34" stroke="#231f20" stroke-width="0.9" />
<line x1="488.20" y1="949.35" x2="496.60" y2="949.35" stroke="#231f20" stroke-width="0.9" />
<line x1="569.70" y1="932.68" x2="569.70" y2="921.40" stroke="#231f20" stroke-width="0.9" />
<line x1="565.50" y1="921.40" x2="573.90" y2="921.40" stroke="#231f20" stroke-width="0.9" />
<line x1="565.50" y1="932.68" x2="573.90" y2="932.68" stroke="#231f20" stroke-width="0.9" />
<line x1="595.60" y1="965.29" x2="595.60" y2="950.58" stroke="#231f20" stroke-width="0.9" />
<line x1="591.40" y1="950.58" x2="599.80" y2="950.58" stroke="#231f20" stroke-width="0.9" />
<line x1="591.40" y1="965.29" x2="599.80" y2="965.29" stroke="#231f20" stroke-width="0.9" />
<path d="M466.4,858.9 V835.8 H544.4 V849.4" fill="none" stroke="#231f20" stroke-width="0.9"/>
<path d="M492.3,857 V853.6 H544.4 V858.9" fill="none" stroke="#231f20" stroke-width="0.9"/>
<path d="M466.4,877.9 V871.2 H492.3 V877.0" fill="none" stroke="#231f20" stroke-width="0.9"/>
<path d="M517.7,960.4 V871.2 H544.4 V963.3" fill="none" stroke="#231f20" stroke-width="0.9"/>
<path d="M569.3,906 V871.1 H595.7 V917.8" fill="none" stroke="#231f20" stroke-width="0.9"/>
<polygon points="485.70,828.70 486.36,830.29 488.08,830.43 486.77,831.55 487.17,833.22 485.70,832.33 484.23,833.22 484.63,831.55 483.32,830.43 485.04,830.29" fill="#231f20"/>
<polygon points="490.90,828.70 491.56,830.29 493.28,830.43 491.97,831.55 492.37,833.22 490.90,832.33 489.43,833.22 489.83,831.55 488.52,830.43 490.24,830.29" fill="#231f20"/>
<polygon points="496.20,828.70 496.86,830.29 498.58,830.43 497.27,831.55 497.67,833.22 496.20,832.33 494.73,833.22 495.13,831.55 493.82,830.43 495.54,830.29" fill="#231f20"/>
<text x="500.00" y="833.50" font-size="7.0" fill="#231f20" textLength="26.20" lengthAdjust="spacingAndGlyphs">0.0006</text>
<polygon points="502.30,846.30 502.96,847.89 504.68,848.03 503.37,849.15 503.77,850.82 502.30,849.92 500.83,850.82 501.23,849.15 499.92,848.03 501.64,847.89" fill="#231f20"/>
<polygon points="507.30,846.30 507.96,847.89 509.68,848.03 508.37,849.15 508.77,850.82 507.30,849.92 505.83,850.82 506.23,849.15 504.92,848.03 506.64,847.89" fill="#231f20"/>
<text x="511.10" y="851.30" font-size="7.0" fill="#231f20" textLength="25.10" lengthAdjust="spacingAndGlyphs">0.0048</text>
<text x="467.00" y="869.20" font-size="7.0" fill="#231f20" textLength="25.40" lengthAdjust="spacingAndGlyphs">0.3046</text>
<text x="521.70" y="869.20" font-size="7.0" fill="#231f20" textLength="21.90" lengthAdjust="spacingAndGlyphs">0.3119</text>
<polygon points="569.70,865.20 570.36,866.79 572.08,866.93 570.77,868.05 571.17,869.72 569.70,868.83 568.23,869.72 568.63,868.05 567.32,866.93 569.04,866.79" fill="#231f20"/>
<text x="573.60" y="870.10" font-size="7.0" fill="#231f20" textLength="26.80" lengthAdjust="spacingAndGlyphs">0.0440</text>
<circle cx="466.50" cy="882.60" r="2.5" fill="#f7e40c" stroke="#231f20" stroke-width="0.5"/>
<circle cx="466.50" cy="901.60" r="2.5" fill="#56c2ea" stroke="#231f20" stroke-width="0.5"/>
<circle cx="466.50" cy="910.10" r="2.5" fill="#ee8ad0" stroke="#231f20" stroke-width="0.5"/>
<circle cx="466.50" cy="926.30" r="2.5" fill="#18c63a" stroke="#231f20" stroke-width="0.5"/>
<circle cx="460.70" cy="941.80" r="2.5" fill="#f01818" stroke="#231f20" stroke-width="0.5"/>
<circle cx="473.10" cy="941.80" r="2.5" fill="#f3900f" stroke="#231f20" stroke-width="0.5"/>
<circle cx="521.10" cy="963.90" r="2.5" fill="#f7e40c" stroke="#231f20" stroke-width="0.5"/>
<circle cx="515.00" cy="967.10" r="2.5" fill="#18c63a" stroke="#231f20" stroke-width="0.5"/>
<circle cx="512.00" cy="970.30" r="2.5" fill="#f3900f" stroke="#231f20" stroke-width="0.5"/>
<circle cx="517.70" cy="970.30" r="2.5" fill="#56c2ea" stroke="#231f20" stroke-width="0.5"/>
<circle cx="521.30" cy="969.40" r="2.5" fill="#f01818" stroke="#231f20" stroke-width="0.5"/>
<circle cx="524.30" cy="971.50" r="2.5" fill="#ee8ad0" stroke="#231f20" stroke-width="0.5"/>
<circle cx="569.50" cy="910.40" r="2.5" fill="#56c2ea" stroke="#231f20" stroke-width="0.5"/>
<circle cx="563.40" cy="919.20" r="2.5" fill="#ee8ad0" stroke="#231f20" stroke-width="0.5"/>
<circle cx="576.00" cy="920.80" r="2.5" fill="#f7e40c" stroke="#231f20" stroke-width="0.5"/>
<circle cx="569.50" cy="925.70" r="2.5" fill="#18c63a" stroke="#231f20" stroke-width="0.5"/>
<circle cx="569.50" cy="940.90" r="2.5" fill="#f3900f" stroke="#231f20" stroke-width="0.5"/>
<circle cx="569.50" cy="947.40" r="2.5" fill="#f01818" stroke="#231f20" stroke-width="0.5"/>
<polygon points="492.70,878.50 495.50,883.40 489.90,883.40" fill="#ee8ad0" stroke="#231f20" stroke-width="0.5"/>
<polygon points="492.70,916.30 495.50,921.20 489.90,921.20" fill="#f7e40c" stroke="#231f20" stroke-width="0.5"/>
<polygon points="486.40,948.50 489.20,953.40 483.60,953.40" fill="#56c2ea" stroke="#231f20" stroke-width="0.5"/>
<polygon points="498.70,948.50 501.50,953.40 495.90,953.40" fill="#f01818" stroke="#231f20" stroke-width="0.5"/>
<polygon points="486.40,958.00 489.20,962.90 483.60,962.90" fill="#18c63a" stroke="#231f20" stroke-width="0.5"/>
<polygon points="498.70,958.00 501.50,962.90 495.90,962.90" fill="#f3900f" stroke="#231f20" stroke-width="0.5"/>
<polygon points="542.00,963.30 544.80,968.20 539.20,968.20" fill="#ee8ad0" stroke="#231f20" stroke-width="0.5"/>
<polygon points="546.20,963.30 549.00,968.20 543.40,968.20" fill="#f7e40c" stroke="#231f20" stroke-width="0.5"/>
<polygon points="542.00,970.60 544.80,975.50 539.20,975.50" fill="#56c2ea" stroke="#231f20" stroke-width="0.5"/>
<polygon points="537.80,973.80 540.60,978.70 535.00,978.70" fill="#f01818" stroke="#231f20" stroke-width="0.5"/>
<polygon points="546.20,973.80 549.00,978.70 543.40,978.70" fill="#18c63a" stroke="#231f20" stroke-width="0.5"/>
<polygon points="550.00,970.90 552.80,975.80 547.20,975.80" fill="#f3900f" stroke="#231f20" stroke-width="0.5"/>
<polygon points="595.70,919.00 598.50,923.90 592.90,923.90" fill="#ee8ad0" stroke="#231f20" stroke-width="0.5"/>
<polygon points="595.70,953.50 598.50,958.40 592.90,958.40" fill="#f7e40c" stroke="#231f20" stroke-width="0.5"/>
<polygon points="589.40,963.30 592.20,968.20 586.60,968.20" fill="#56c2ea" stroke="#231f20" stroke-width="0.5"/>
<polygon points="601.60,962.30 604.40,967.20 598.80,967.20" fill="#f01818" stroke="#231f20" stroke-width="0.5"/>
<polygon points="589.40,969.20 592.20,974.10 586.60,974.10" fill="#18c63a" stroke="#231f20" stroke-width="0.5"/>
<polygon points="601.60,967.70 604.40,972.60 598.80,972.60" fill="#f3900f" stroke="#231f20" stroke-width="0.5"/>
<text transform="translate(614.60,971.51) scale(0.950,1)" font-size="7.8" text-anchor="start" font-weight="normal" fill="#231f20" >Untreated</text>
<text transform="translate(614.60,979.41) scale(0.970,1)" font-size="7.8" text-anchor="start" font-weight="normal" fill="#2f55f0" >IFN-β treated</text>
<line x1="466.30" y1="980.00" x2="466.30" y2="982.90" stroke="#231f20" stroke-width="0.8" />
<text transform="translate(469.04,986.80) rotate(-90) scale(0.975,1)" x="0" y="0" font-size="7.6" text-anchor="end" fill="#231f20">Untreated + HIV</text>
<line x1="492.50" y1="980.00" x2="492.50" y2="982.90" stroke="#231f20" stroke-width="0.8" />
<text transform="translate(495.24,986.80) rotate(-90) scale(0.975,1)" x="0" y="0" font-size="7.6" text-anchor="end" fill="#231f20">Untreated CTV</text>
<line x1="518.00" y1="980.00" x2="518.00" y2="982.90" stroke="#231f20" stroke-width="0.8" />
<text transform="translate(520.74,986.80) rotate(-90) scale(0.975,1)" x="0" y="0" font-size="7.6" text-anchor="end" fill="#231f20">Treated + HIV</text>
<line x1="543.80" y1="980.00" x2="543.80" y2="982.90" stroke="#231f20" stroke-width="0.8" />
<text transform="translate(546.54,986.80) rotate(-90) scale(0.975,1)" x="0" y="0" font-size="7.6" text-anchor="end" fill="#231f20">Untreated CTV</text>
<line x1="569.30" y1="980.00" x2="569.30" y2="982.90" stroke="#231f20" stroke-width="0.8" />
<text transform="translate(572.04,986.80) rotate(-90) scale(0.975,1)" x="0" y="0" font-size="7.6" text-anchor="end" fill="#231f20">Untreated + HIV</text>
<line x1="595.50" y1="980.00" x2="595.50" y2="982.90" stroke="#231f20" stroke-width="0.8" />
<text transform="translate(598.24,986.80) rotate(-90) scale(0.975,1)" x="0" y="0" font-size="7.6" text-anchor="end" fill="#231f20">Treated CTV</text>
<line x1="458.90" y1="1045.00" x2="499.10" y2="1045.00" stroke="#333333" stroke-width="1.2" />
<line x1="510.40" y1="1045.00" x2="550.40" y2="1045.00" stroke="#333333" stroke-width="1.2" />
<line x1="567.40" y1="1045.00" x2="608.20" y2="1045.00" stroke="#333333" stroke-width="1.2" />
</svg>
</body></html>
